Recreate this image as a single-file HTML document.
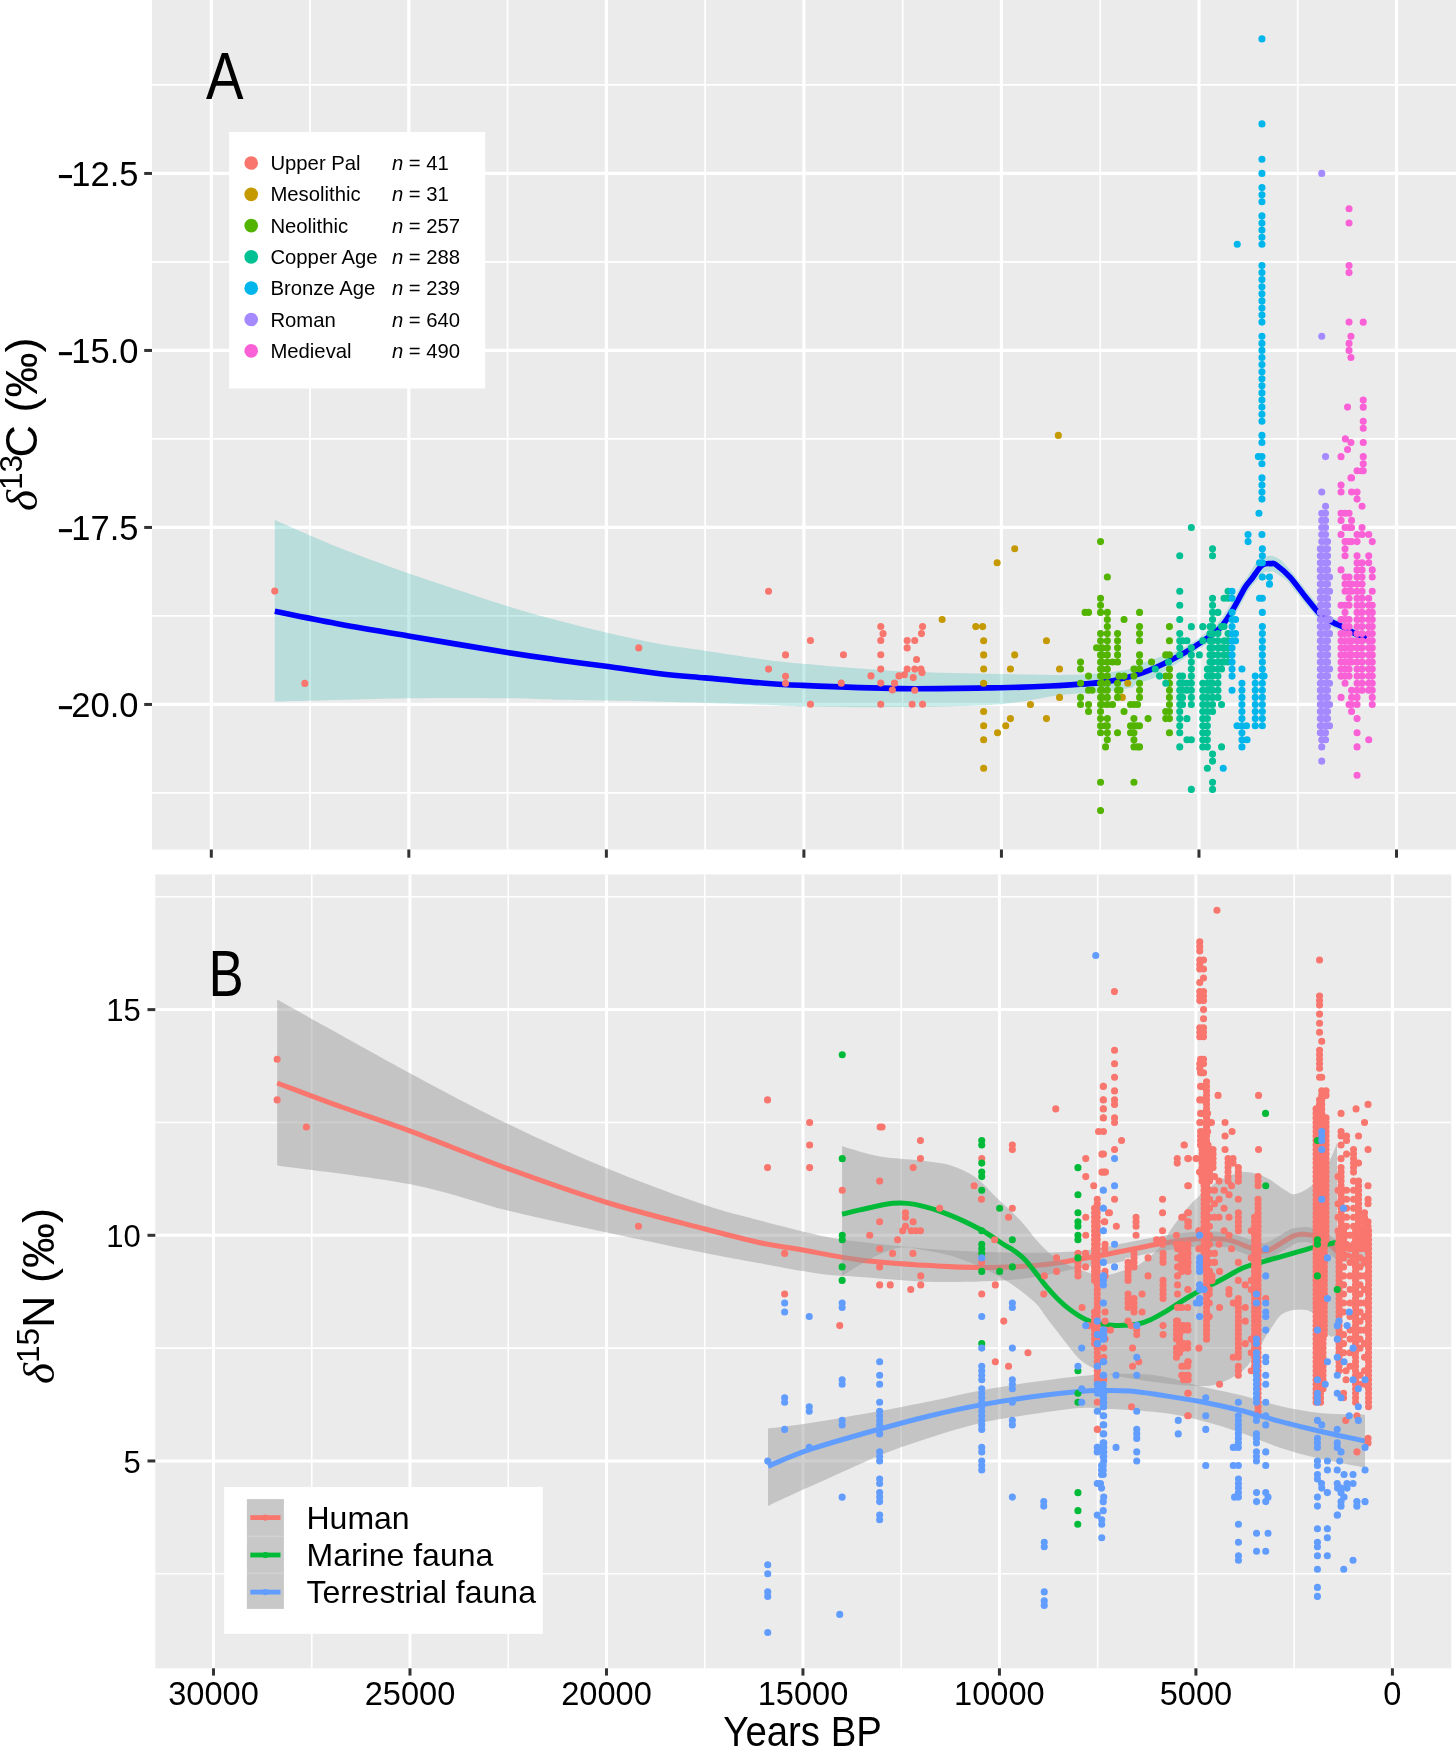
<!DOCTYPE html>
<html><head><meta charset="utf-8"><title>chart</title>
<style>html,body{margin:0;padding:0;background:#fff;}svg{display:block;will-change:transform;}text{font-family:'Liberation Sans', sans-serif;fill:#000;}</style>
</head><body>
<svg width="1456" height="1748" viewBox="0 0 1456 1748">
<rect width="1456" height="1748" fill="#fff"/>
<rect x="152" y="0" width="1304" height="849.5" fill="#EBEBEB"/>
<line x1="152" x2="1456" y1="84.95" y2="84.95" stroke="#fff" stroke-width="1.7"/>
<line x1="152" x2="1456" y1="261.95" y2="261.95" stroke="#fff" stroke-width="1.7"/>
<line x1="152" x2="1456" y1="438.95" y2="438.95" stroke="#fff" stroke-width="1.7"/>
<line x1="152" x2="1456" y1="615.95" y2="615.95" stroke="#fff" stroke-width="1.7"/>
<line x1="152" x2="1456" y1="792.95" y2="792.95" stroke="#fff" stroke-width="1.7"/>
<line x1="310.07" x2="310.07" y1="0" y2="849.5" stroke="#fff" stroke-width="1.7"/>
<line x1="507.60" x2="507.60" y1="0" y2="849.5" stroke="#fff" stroke-width="1.7"/>
<line x1="705.13" x2="705.13" y1="0" y2="849.5" stroke="#fff" stroke-width="1.7"/>
<line x1="902.67" x2="902.67" y1="0" y2="849.5" stroke="#fff" stroke-width="1.7"/>
<line x1="1100.20" x2="1100.20" y1="0" y2="849.5" stroke="#fff" stroke-width="1.7"/>
<line x1="1297.73" x2="1297.73" y1="0" y2="849.5" stroke="#fff" stroke-width="1.7"/>
<line x1="152" x2="1456" y1="173.45" y2="173.45" stroke="#fff" stroke-width="3.2"/>
<line x1="152" x2="1456" y1="350.45" y2="350.45" stroke="#fff" stroke-width="3.2"/>
<line x1="152" x2="1456" y1="527.45" y2="527.45" stroke="#fff" stroke-width="3.2"/>
<line x1="152" x2="1456" y1="704.45" y2="704.45" stroke="#fff" stroke-width="3.2"/>
<line x1="211.30" x2="211.30" y1="0" y2="849.5" stroke="#fff" stroke-width="3.2"/>
<line x1="408.83" x2="408.83" y1="0" y2="849.5" stroke="#fff" stroke-width="3.2"/>
<line x1="606.37" x2="606.37" y1="0" y2="849.5" stroke="#fff" stroke-width="3.2"/>
<line x1="803.90" x2="803.90" y1="0" y2="849.5" stroke="#fff" stroke-width="3.2"/>
<line x1="1001.43" x2="1001.43" y1="0" y2="849.5" stroke="#fff" stroke-width="3.2"/>
<line x1="1198.97" x2="1198.97" y1="0" y2="849.5" stroke="#fff" stroke-width="3.2"/>
<line x1="1396.50" x2="1396.50" y1="0" y2="849.5" stroke="#fff" stroke-width="3.2"/>
<rect x="155.3" y="874.4" width="1296.0" height="793.9" fill="#EBEBEB"/>
<line x1="155.3" x2="1451.3" y1="896.79" y2="896.79" stroke="#fff" stroke-width="1.6"/>
<line x1="155.3" x2="1451.3" y1="1122.46" y2="1122.46" stroke="#fff" stroke-width="1.6"/>
<line x1="155.3" x2="1451.3" y1="1348.14" y2="1348.14" stroke="#fff" stroke-width="1.6"/>
<line x1="155.3" x2="1451.3" y1="1573.81" y2="1573.81" stroke="#fff" stroke-width="1.6"/>
<line x1="311.74" x2="311.74" y1="874.4" y2="1668.3" stroke="#fff" stroke-width="1.6"/>
<line x1="508.23" x2="508.23" y1="874.4" y2="1668.3" stroke="#fff" stroke-width="1.6"/>
<line x1="704.71" x2="704.71" y1="874.4" y2="1668.3" stroke="#fff" stroke-width="1.6"/>
<line x1="901.19" x2="901.19" y1="874.4" y2="1668.3" stroke="#fff" stroke-width="1.6"/>
<line x1="1097.68" x2="1097.68" y1="874.4" y2="1668.3" stroke="#fff" stroke-width="1.6"/>
<line x1="1294.16" x2="1294.16" y1="874.4" y2="1668.3" stroke="#fff" stroke-width="1.6"/>
<line x1="155.3" x2="1451.3" y1="1009.62" y2="1009.62" stroke="#fff" stroke-width="3.0"/>
<line x1="155.3" x2="1451.3" y1="1235.30" y2="1235.30" stroke="#fff" stroke-width="3.0"/>
<line x1="155.3" x2="1451.3" y1="1460.97" y2="1460.97" stroke="#fff" stroke-width="3.0"/>
<line x1="213.50" x2="213.50" y1="874.4" y2="1668.3" stroke="#fff" stroke-width="3.0"/>
<line x1="409.98" x2="409.98" y1="874.4" y2="1668.3" stroke="#fff" stroke-width="3.0"/>
<line x1="606.47" x2="606.47" y1="874.4" y2="1668.3" stroke="#fff" stroke-width="3.0"/>
<line x1="802.95" x2="802.95" y1="874.4" y2="1668.3" stroke="#fff" stroke-width="3.0"/>
<line x1="999.43" x2="999.43" y1="874.4" y2="1668.3" stroke="#fff" stroke-width="3.0"/>
<line x1="1195.92" x2="1195.92" y1="874.4" y2="1668.3" stroke="#fff" stroke-width="3.0"/>
<line x1="1392.40" x2="1392.40" y1="874.4" y2="1668.3" stroke="#fff" stroke-width="3.0"/>
<path d="M274.8 520.0C285.7 524.7 317.7 539.1 340.0 548.0C362.3 556.9 380.5 563.5 408.4 573.2C436.3 582.9 482.0 598.1 507.3 606.1C532.6 614.1 543.5 616.6 560.0 621.0C576.5 625.4 589.3 628.7 606.0 632.5C622.7 636.3 643.5 641.0 660.0 644.0C676.5 647.0 688.3 648.2 705.0 650.7C721.7 653.2 744.2 656.8 760.0 658.9C775.8 661.0 776.7 661.4 800.0 663.5C823.3 665.6 866.7 669.5 900.0 671.3C933.3 673.0 973.3 673.4 1000.0 674.0C1026.7 674.6 1043.3 675.1 1060.0 675.0C1076.7 674.9 1088.3 674.6 1100.0 673.6C1111.7 672.6 1125.0 670.1 1130.0 669.0C1135.0 667.9 1129.9 667.3 1130.3 666.9C1130.6 666.4 1131.6 666.4 1132.3 666.2C1132.9 666.0 1133.6 665.8 1134.3 665.6C1134.9 665.4 1135.6 665.2 1136.3 664.9C1136.9 664.7 1137.6 664.5 1138.3 664.3C1138.9 664.1 1139.6 663.9 1140.3 663.7C1140.9 663.5 1141.6 663.2 1142.3 663.0C1142.9 662.8 1143.6 662.6 1144.3 662.4C1144.9 662.2 1145.8 661.9 1146.3 661.7C1146.7 661.6 1146.6 661.7 1147.1 661.5C1147.6 661.4 1148.5 661.0 1149.2 660.8C1149.9 660.5 1150.6 660.3 1151.3 660.1C1152.0 659.8 1152.8 659.6 1153.5 659.3C1154.2 659.1 1154.9 658.8 1155.6 658.6C1156.3 658.3 1157.0 658.1 1157.7 657.8C1158.4 657.6 1159.1 657.3 1159.8 657.1C1160.5 656.8 1161.2 656.6 1161.9 656.3C1162.6 656.1 1163.3 655.8 1164.0 655.6C1164.7 655.4 1165.4 655.1 1166.1 654.9C1166.8 654.6 1167.5 654.4 1168.2 654.1C1168.9 653.9 1169.7 653.6 1170.4 653.4C1171.1 653.1 1171.8 652.9 1172.5 652.6C1173.2 652.4 1173.9 652.1 1174.6 651.9C1175.3 651.6 1176.1 651.4 1176.7 651.1C1177.3 650.9 1177.7 650.8 1178.4 650.5C1179.0 650.2 1179.8 649.8 1180.5 649.5C1181.2 649.2 1181.9 648.9 1182.6 648.5C1183.3 648.1 1184.0 647.6 1184.6 647.2C1185.3 646.8 1186.0 646.4 1186.6 646.0C1187.3 645.6 1188.0 645.2 1188.6 644.8C1189.3 644.3 1190.0 643.9 1190.6 643.5C1191.3 643.1 1192.0 642.7 1192.6 642.3C1193.3 641.9 1194.0 641.4 1194.6 641.0C1195.3 640.6 1196.0 640.2 1196.6 639.8C1197.2 639.4 1197.7 639.1 1198.3 638.7C1198.9 638.2 1199.6 637.6 1200.3 637.1C1201.0 636.6 1201.6 636.1 1202.3 635.6C1203.0 635.1 1203.6 634.6 1204.3 634.1C1205.0 633.6 1205.6 633.1 1206.3 632.6C1207.0 632.1 1207.6 631.6 1208.3 631.1C1209.0 630.6 1209.6 630.1 1210.3 629.6C1211.0 629.1 1211.6 628.6 1212.3 628.1C1213.0 627.6 1213.6 627.1 1214.3 626.6C1215.0 626.1 1215.8 625.5 1216.3 625.1C1216.8 624.6 1216.8 624.6 1217.3 623.9C1217.8 623.2 1218.7 622.0 1219.3 621.1C1220.0 620.1 1220.7 619.2 1221.3 618.3C1222.0 617.3 1222.7 616.4 1223.3 615.4C1224.0 614.5 1224.7 613.6 1225.3 612.6C1226.0 611.7 1226.7 610.7 1227.3 609.8C1228.0 608.9 1228.4 608.1 1229.1 607.0C1229.7 605.9 1230.4 604.6 1231.1 603.4C1231.7 602.2 1232.4 601.0 1233.1 599.8C1233.7 598.6 1234.4 597.4 1235.1 596.2C1235.7 595.0 1236.4 593.8 1237.1 592.6C1237.7 591.3 1238.4 590.2 1239.1 588.9C1239.8 587.7 1240.5 586.2 1241.2 585.1C1242.0 583.9 1242.7 583.1 1243.4 582.2C1244.2 581.3 1244.8 580.5 1245.4 579.6C1246.1 578.7 1246.7 577.8 1247.3 576.9C1247.9 576.0 1248.4 575.1 1249.0 574.1C1249.6 573.2 1250.2 572.3 1250.7 571.3C1251.3 570.4 1251.9 569.4 1252.4 568.5C1253.0 567.5 1253.6 566.6 1254.2 565.6C1254.7 564.7 1254.6 564.0 1255.9 562.8C1257.1 561.6 1260.4 559.4 1261.7 558.6C1263.0 557.7 1263.0 558.1 1263.6 557.8C1264.2 557.6 1264.9 557.3 1265.5 557.1C1266.2 556.8 1266.5 556.5 1267.5 556.3C1268.4 556.1 1269.9 555.7 1271.1 555.8C1272.3 555.8 1273.7 556.4 1274.6 556.7C1275.5 557.0 1275.4 556.9 1276.5 557.5C1277.7 558.2 1280.4 559.7 1281.5 560.5C1282.6 561.4 1282.7 561.9 1283.3 562.5C1283.8 563.2 1284.4 563.9 1285.0 564.6C1285.6 565.3 1286.2 565.9 1286.8 566.6C1287.4 567.3 1288.0 568.0 1288.6 568.6C1289.2 569.3 1289.7 570.0 1290.3 570.7C1290.9 571.4 1291.4 571.9 1292.1 572.7C1292.8 573.5 1293.8 574.7 1294.5 575.6C1295.3 576.5 1295.9 577.3 1296.5 578.2C1297.2 579.0 1297.9 579.9 1298.5 580.7C1299.2 581.6 1299.9 582.4 1300.5 583.3C1301.2 584.1 1301.9 585.0 1302.5 585.8C1303.2 586.7 1303.9 587.6 1304.5 588.4C1305.2 589.3 1305.9 590.1 1306.5 591.0C1307.2 591.8 1307.8 592.7 1308.5 593.5C1309.1 594.3 1309.8 595.0 1310.4 595.8C1311.1 596.6 1311.8 597.4 1312.4 598.2C1313.1 599.0 1313.8 599.8 1314.4 600.6C1315.1 601.4 1315.8 602.2 1316.4 603.0C1317.1 603.8 1317.8 604.5 1318.4 605.3C1319.1 606.1 1319.8 606.9 1320.4 607.7C1321.1 608.5 1321.9 609.5 1322.4 610.1C1323.0 610.7 1323.0 610.8 1323.5 611.2C1324.0 611.6 1324.9 612.1 1325.5 612.5C1326.2 613.0 1326.9 613.4 1327.5 613.9C1328.2 614.3 1328.9 614.8 1329.5 615.2C1330.2 615.7 1331.0 616.2 1331.5 616.6C1332.1 617.0 1332.3 617.1 1332.9 617.4C1333.4 617.7 1334.2 618.0 1334.9 618.3C1335.5 618.6 1336.2 618.9 1336.9 619.2C1337.5 619.5 1338.2 619.8 1338.9 620.1C1339.5 620.4 1340.2 620.7 1340.9 621.1C1341.5 621.4 1342.2 621.7 1342.9 622.0C1343.5 622.3 1344.2 622.6 1344.9 622.9C1345.6 623.2 1346.3 623.5 1347.0 623.9C1347.8 624.2 1348.5 624.7 1349.2 625.1C1349.9 625.5 1350.5 625.8 1351.2 626.2C1351.8 626.5 1352.5 626.9 1353.2 627.3C1353.8 627.7 1354.5 628.0 1355.2 628.4C1355.8 628.8 1356.5 629.1 1357.2 629.5C1357.8 629.9 1358.5 630.2 1359.2 630.6C1359.8 631.0 1360.7 631.5 1361.2 631.7C1361.7 632.0 1361.6 631.9 1362.1 632.1C1362.6 632.2 1363.5 632.4 1364.1 632.6C1364.8 632.8 1365.5 633.0 1366.1 633.1C1366.7 633.3 1367.3 633.5 1367.6 633.5L1366.4 642.5C1366.0 642.4 1364.6 642.0 1363.9 641.8C1363.1 641.7 1362.5 641.5 1361.9 641.3C1361.2 641.2 1360.7 641.1 1359.9 640.8C1359.0 640.5 1357.7 640.0 1356.8 639.6C1356.0 639.2 1355.5 638.8 1354.8 638.5C1354.2 638.1 1353.5 637.7 1352.8 637.4C1352.2 637.0 1351.5 636.6 1350.8 636.3C1350.2 635.9 1349.5 635.5 1348.8 635.2C1348.2 634.8 1347.5 634.4 1346.8 634.1C1346.2 633.7 1345.5 633.3 1344.8 632.9C1344.2 632.6 1343.6 632.2 1343.0 631.9C1342.3 631.6 1341.8 631.4 1341.1 631.1C1340.5 630.8 1339.8 630.5 1339.1 630.1C1338.5 629.8 1337.8 629.5 1337.1 629.2C1336.5 628.9 1335.8 628.6 1335.1 628.3C1334.5 628.0 1333.8 627.7 1333.1 627.4C1332.5 627.1 1331.8 626.8 1331.1 626.5C1330.5 626.2 1329.9 626.0 1329.1 625.5C1328.3 625.1 1327.2 624.5 1326.5 624.0C1325.7 623.6 1325.1 623.1 1324.5 622.7C1323.8 622.2 1323.1 621.8 1322.5 621.3C1321.8 620.9 1321.1 620.4 1320.5 620.0C1319.8 619.5 1319.3 619.3 1318.5 618.6C1317.6 617.9 1316.4 616.7 1315.6 615.9C1314.7 615.0 1314.2 614.3 1313.6 613.5C1312.9 612.7 1312.2 611.9 1311.6 611.1C1310.9 610.3 1310.2 609.5 1309.6 608.7C1308.9 607.9 1308.2 607.1 1307.6 606.4C1306.9 605.6 1306.2 604.8 1305.6 604.0C1304.9 603.2 1304.2 602.4 1303.6 601.6C1302.9 600.8 1302.2 600.0 1301.5 599.1C1300.8 598.3 1300.1 597.4 1299.5 596.5C1298.8 595.6 1298.1 594.8 1297.5 594.0C1296.8 593.1 1296.1 592.2 1295.5 591.4C1294.8 590.5 1294.1 589.7 1293.5 588.8C1292.8 588.0 1292.1 587.1 1291.5 586.3C1290.8 585.4 1290.1 584.6 1289.5 583.7C1288.8 582.9 1288.0 581.8 1287.5 581.2C1286.9 580.5 1286.5 580.2 1285.9 579.7C1285.3 579.2 1284.4 578.7 1283.7 578.2C1282.9 577.7 1282.2 577.2 1281.4 576.7C1280.7 576.2 1279.9 575.7 1279.2 575.2C1278.5 574.7 1277.7 574.2 1277.0 573.7C1276.2 573.2 1275.5 572.7 1274.7 572.2C1274.0 571.7 1272.7 570.8 1272.5 570.7C1272.3 570.5 1273.7 571.3 1273.5 571.4C1273.3 571.6 1271.8 571.3 1271.4 571.3C1271.0 571.3 1271.1 571.4 1270.9 571.4C1270.8 571.5 1270.9 571.6 1270.5 571.7C1270.1 571.7 1269.2 571.7 1268.5 571.7C1267.8 571.7 1267.1 571.8 1266.4 571.8C1265.7 571.8 1264.4 572.0 1264.3 571.8C1264.3 571.6 1266.2 570.4 1266.1 570.6C1266.0 570.8 1264.6 572.2 1263.8 573.0C1263.1 573.8 1262.3 574.6 1261.6 575.4C1260.8 576.2 1260.0 577.0 1259.3 577.8C1258.5 578.6 1257.8 579.4 1257.0 580.2C1256.2 581.0 1255.4 581.8 1254.7 582.7C1253.9 583.5 1253.2 584.3 1252.6 585.1C1251.9 586.0 1251.2 586.9 1250.6 587.7C1249.9 588.5 1249.4 589.0 1248.8 589.9C1248.2 590.9 1247.6 592.1 1246.9 593.3C1246.3 594.5 1245.6 595.7 1244.9 596.9C1244.3 598.1 1243.6 599.3 1242.9 600.5C1242.3 601.7 1241.6 602.9 1240.9 604.1C1240.3 605.3 1239.6 606.6 1238.9 607.8C1238.3 609.0 1237.6 610.2 1236.9 611.4C1236.2 612.6 1235.4 613.9 1234.7 615.0C1234.0 616.1 1233.3 616.9 1232.7 617.8C1232.0 618.8 1231.3 619.7 1230.7 620.6C1230.0 621.6 1229.3 622.5 1228.7 623.5C1228.0 624.4 1227.3 625.3 1226.7 626.3C1226.0 627.2 1225.5 628.1 1224.7 629.1C1223.8 630.1 1222.5 631.5 1221.7 632.2C1220.9 633.0 1220.4 633.3 1219.7 633.8C1219.0 634.3 1218.4 634.8 1217.7 635.3C1217.0 635.8 1216.4 636.3 1215.7 636.8C1215.0 637.3 1214.4 637.8 1213.7 638.3C1213.0 638.8 1212.4 639.3 1211.7 639.8C1211.0 640.3 1210.4 640.8 1209.7 641.3C1209.0 641.8 1208.4 642.3 1207.7 642.8C1207.0 643.3 1206.4 643.8 1205.7 644.3C1205.0 644.8 1204.4 645.3 1203.7 645.8C1203.0 646.4 1202.1 647.0 1201.4 647.4C1200.6 647.9 1200.0 648.3 1199.4 648.7C1198.7 649.1 1198.0 649.5 1197.4 649.9C1196.7 650.3 1196.0 650.8 1195.4 651.2C1194.7 651.6 1194.0 652.0 1193.4 652.4C1192.7 652.8 1192.0 653.2 1191.4 653.6C1190.7 654.1 1190.0 654.5 1189.4 654.9C1188.7 655.3 1188.0 655.7 1187.4 656.1C1186.7 656.6 1186.1 657.1 1185.5 657.6C1184.9 658.1 1184.3 658.5 1183.6 659.0C1182.9 659.5 1182.0 660.2 1181.3 660.6C1180.6 661.1 1180.0 661.4 1179.4 661.8C1178.8 662.2 1178.2 662.6 1177.5 663.0C1176.9 663.4 1176.3 663.8 1175.6 664.2C1175.0 664.6 1174.4 665.0 1173.8 665.4C1173.1 665.8 1172.5 666.2 1171.9 666.6C1171.2 667.1 1170.6 667.5 1170.0 667.9C1169.4 668.3 1168.7 668.7 1168.1 669.1C1167.5 669.5 1166.8 669.9 1166.2 670.3C1165.6 670.7 1164.9 671.1 1164.3 671.5C1163.7 671.9 1163.1 672.3 1162.4 672.7C1161.8 673.1 1161.2 673.5 1160.5 673.9C1159.9 674.3 1159.3 674.7 1158.7 675.1C1158.0 675.5 1157.4 675.9 1156.8 676.3C1156.1 676.7 1155.7 677.1 1154.9 677.5C1154.0 677.9 1152.6 678.6 1151.7 678.9C1150.9 679.2 1150.4 679.3 1149.7 679.5C1149.1 679.7 1148.4 680.0 1147.7 680.2C1147.1 680.4 1146.4 680.6 1145.7 680.8C1145.1 681.0 1144.4 681.2 1143.7 681.5C1143.1 681.7 1142.4 681.9 1141.7 682.1C1141.1 682.3 1140.4 682.5 1139.7 682.7C1139.1 682.9 1138.4 683.2 1137.7 683.4C1137.1 683.6 1137.0 683.2 1135.7 684.0C1134.5 684.8 1136.0 686.6 1130.0 688.0C1124.0 689.4 1111.7 691.0 1100.0 692.2C1088.3 693.4 1076.7 693.0 1060.0 695.0C1043.3 697.0 1026.7 702.2 1000.0 704.2C973.3 706.2 933.3 706.6 900.0 707.0C866.7 707.4 823.3 706.8 800.0 706.4C776.7 706.0 783.3 705.5 760.0 704.7C736.7 703.9 693.3 702.5 660.0 701.7C626.7 700.9 585.5 700.4 560.0 699.8C534.5 699.2 532.6 698.5 507.3 698.2C482.0 697.9 447.1 697.7 408.4 698.2C369.6 698.8 297.1 701.0 274.8 701.5Z" fill="#20B2AA" fill-opacity="0.25"/>
<path d="M274.8 611.3C285.7 613.4 317.7 620.1 340.0 624.2C362.3 628.3 380.5 631.3 408.4 636.0C436.3 640.7 482.0 648.5 507.3 652.5C532.6 656.5 543.5 657.9 560.0 660.2C576.5 662.5 589.3 664.0 606.0 666.3C622.7 668.5 643.5 671.8 660.0 673.7C676.5 675.6 688.3 676.4 705.0 677.9C721.7 679.4 744.2 681.6 760.0 682.8C775.8 684.0 776.7 684.3 800.0 685.3C823.3 686.3 866.7 688.2 900.0 688.6C933.3 689.0 975.0 688.1 1000.0 687.7C1025.0 687.3 1033.3 686.9 1050.0 686.0C1066.7 685.1 1087.5 683.9 1100.0 682.6C1112.5 681.3 1116.7 680.1 1125.0 678.0C1133.3 675.9 1140.8 673.8 1150.0 670.0C1159.2 666.2 1171.7 659.9 1180.0 655.4C1188.3 650.9 1193.3 647.6 1200.0 643.0C1206.7 638.4 1214.7 633.2 1220.0 627.9C1225.3 622.6 1227.8 617.7 1232.0 611.0C1236.2 604.3 1241.7 592.9 1245.0 587.5C1248.3 582.1 1249.2 582.2 1252.0 578.5C1254.8 574.8 1258.8 567.9 1262.0 565.4C1265.2 562.9 1268.7 563.7 1271.0 563.6C1273.3 563.5 1272.8 562.5 1276.0 564.7C1279.2 567.0 1285.2 571.8 1290.0 577.1C1294.8 582.4 1300.0 590.1 1305.0 596.3C1310.0 602.5 1315.8 610.1 1320.0 614.2C1324.2 618.3 1325.8 618.7 1330.0 621.0C1334.2 623.3 1340.0 625.4 1345.0 627.9C1350.0 630.4 1356.3 634.5 1360.0 636.2C1363.7 637.9 1365.8 637.7 1367.0 638.0" fill="none" stroke="#0000FF" stroke-width="5.6" stroke-linejoin="round"/>
<path fill="#F8766D" d="M271.2 591.1a3.55 3.55 0 1 0 7.1 0a3.55 3.55 0 1 0 -7.1 0M301.3 683.4a3.55 3.55 0 1 0 7.1 0a3.55 3.55 0 1 0 -7.1 0M635.2 647.9a3.55 3.55 0 1 0 7.1 0a3.55 3.55 0 1 0 -7.1 0M765.0 591.3a3.55 3.55 0 1 0 7.1 0a3.55 3.55 0 1 0 -7.1 0M765.0 669.1a3.55 3.55 0 1 0 7.1 0a3.55 3.55 0 1 0 -7.1 0M782.0 654.9a3.55 3.55 0 1 0 7.1 0a3.55 3.55 0 1 0 -7.1 0M782.0 676.2a3.55 3.55 0 1 0 7.1 0a3.55 3.55 0 1 0 -7.1 0M782.0 683.3a3.55 3.55 0 1 0 7.1 0a3.55 3.55 0 1 0 -7.1 0M806.9 640.5a3.55 3.55 0 1 0 7.1 0a3.55 3.55 0 1 0 -7.1 0M806.9 704.2a3.55 3.55 0 1 0 7.1 0a3.55 3.55 0 1 0 -7.1 0M839.9 654.8a3.55 3.55 0 1 0 7.1 0a3.55 3.55 0 1 0 -7.1 0M837.7 683.1a3.55 3.55 0 1 0 7.1 0a3.55 3.55 0 1 0 -7.1 0M877.2 626.5a3.55 3.55 0 1 0 7.1 0a3.55 3.55 0 1 0 -7.1 0M877.2 640.5a3.55 3.55 0 1 0 7.1 0a3.55 3.55 0 1 0 -7.1 0M877.2 654.8a3.55 3.55 0 1 0 7.1 0a3.55 3.55 0 1 0 -7.1 0M877.2 669.1a3.55 3.55 0 1 0 7.1 0a3.55 3.55 0 1 0 -7.1 0M877.2 683.1a3.55 3.55 0 1 0 7.1 0a3.55 3.55 0 1 0 -7.1 0M877.2 704.2a3.55 3.55 0 1 0 7.1 0a3.55 3.55 0 1 0 -7.1 0M879.5 633.6a3.55 3.55 0 1 0 7.1 0a3.55 3.55 0 1 0 -7.1 0M867.4 675.9a3.55 3.55 0 1 0 7.1 0a3.55 3.55 0 1 0 -7.1 0M888.8 690.0a3.55 3.55 0 1 0 7.1 0a3.55 3.55 0 1 0 -7.1 0M891.0 683.1a3.55 3.55 0 1 0 7.1 0a3.55 3.55 0 1 0 -7.1 0M895.4 675.9a3.55 3.55 0 1 0 7.1 0a3.55 3.55 0 1 0 -7.1 0M900.9 674.8a3.55 3.55 0 1 0 7.1 0a3.55 3.55 0 1 0 -7.1 0M903.6 640.5a3.55 3.55 0 1 0 7.1 0a3.55 3.55 0 1 0 -7.1 0M911.2 640.5a3.55 3.55 0 1 0 7.1 0a3.55 3.55 0 1 0 -7.1 0M903.6 647.9a3.55 3.55 0 1 0 7.1 0a3.55 3.55 0 1 0 -7.1 0M913.0 659.5a3.55 3.55 0 1 0 7.1 0a3.55 3.55 0 1 0 -7.1 0M903.6 669.1a3.55 3.55 0 1 0 7.1 0a3.55 3.55 0 1 0 -7.1 0M911.2 669.1a3.55 3.55 0 1 0 7.1 0a3.55 3.55 0 1 0 -7.1 0M917.4 669.1a3.55 3.55 0 1 0 7.1 0a3.55 3.55 0 1 0 -7.1 0M918.5 672.6a3.55 3.55 0 1 0 7.1 0a3.55 3.55 0 1 0 -7.1 0M909.7 677.6a3.55 3.55 0 1 0 7.1 0a3.55 3.55 0 1 0 -7.1 0M911.2 690.2a3.55 3.55 0 1 0 7.1 0a3.55 3.55 0 1 0 -7.1 0M908.6 704.2a3.55 3.55 0 1 0 7.1 0a3.55 3.55 0 1 0 -7.1 0M919.0 704.2a3.55 3.55 0 1 0 7.1 0a3.55 3.55 0 1 0 -7.1 0M919.0 626.5a3.55 3.55 0 1 0 7.1 0a3.55 3.55 0 1 0 -7.1 0M917.9 633.6a3.55 3.55 0 1 0 7.1 0a3.55 3.55 0 1 0 -7.1 0"/>
<path fill="#C49A00" d="M1011.2 548.7a3.55 3.55 0 1 0 7.1 0a3.55 3.55 0 1 0 -7.1 0M1011.2 654.9a3.55 3.55 0 1 0 7.1 0a3.55 3.55 0 1 0 -7.1 0M993.6 562.8a3.55 3.55 0 1 0 7.1 0a3.55 3.55 0 1 0 -7.1 0M938.6 619.5a3.55 3.55 0 1 0 7.1 0a3.55 3.55 0 1 0 -7.1 0M972.2 626.6a3.55 3.55 0 1 0 7.1 0a3.55 3.55 0 1 0 -7.1 0M979.1 626.6a3.55 3.55 0 1 0 7.1 0a3.55 3.55 0 1 0 -7.1 0M980.1 640.7a3.55 3.55 0 1 0 7.1 0a3.55 3.55 0 1 0 -7.1 0M980.1 654.9a3.55 3.55 0 1 0 7.1 0a3.55 3.55 0 1 0 -7.1 0M980.1 669.0a3.55 3.55 0 1 0 7.1 0a3.55 3.55 0 1 0 -7.1 0M980.1 683.2a3.55 3.55 0 1 0 7.1 0a3.55 3.55 0 1 0 -7.1 0M980.1 711.5a3.55 3.55 0 1 0 7.1 0a3.55 3.55 0 1 0 -7.1 0M980.1 725.7a3.55 3.55 0 1 0 7.1 0a3.55 3.55 0 1 0 -7.1 0M980.1 739.8a3.55 3.55 0 1 0 7.1 0a3.55 3.55 0 1 0 -7.1 0M980.1 768.2a3.55 3.55 0 1 0 7.1 0a3.55 3.55 0 1 0 -7.1 0M1006.9 669.0a3.55 3.55 0 1 0 7.1 0a3.55 3.55 0 1 0 -7.1 0M1006.9 718.6a3.55 3.55 0 1 0 7.1 0a3.55 3.55 0 1 0 -7.1 0M1042.9 640.7a3.55 3.55 0 1 0 7.1 0a3.55 3.55 0 1 0 -7.1 0M1042.9 718.6a3.55 3.55 0 1 0 7.1 0a3.55 3.55 0 1 0 -7.1 0M1056.0 669.0a3.55 3.55 0 1 0 7.1 0a3.55 3.55 0 1 0 -7.1 0M1056.0 697.4a3.55 3.55 0 1 0 7.1 0a3.55 3.55 0 1 0 -7.1 0M1026.9 704.5a3.55 3.55 0 1 0 7.1 0a3.55 3.55 0 1 0 -7.1 0M1002.2 725.7a3.55 3.55 0 1 0 7.1 0a3.55 3.55 0 1 0 -7.1 0M994.0 732.8a3.55 3.55 0 1 0 7.1 0a3.55 3.55 0 1 0 -7.1 0M1124.2 683.2a3.55 3.55 0 1 0 7.1 0a3.55 3.55 0 1 0 -7.1 0M1118.8 697.4a3.55 3.55 0 1 0 7.1 0a3.55 3.55 0 1 0 -7.1 0M1054.8 435.4a3.55 3.55 0 1 0 7.1 0a3.55 3.55 0 1 0 -7.1 0"/>
<path fill="#53B400" d="M1097.0 541.6a3.55 3.55 0 1 0 7.1 0a3.55 3.55 0 1 0 -7.1 0M1097.0 598.2a3.55 3.55 0 1 0 7.1 0a3.55 3.55 0 1 0 -7.1 0M1097.0 605.3a3.55 3.55 0 1 0 7.1 0a3.55 3.55 0 1 0 -7.1 0M1097.0 612.4a3.55 3.55 0 1 0 7.1 0a3.55 3.55 0 1 0 -7.1 0M1097.0 633.6a3.55 3.55 0 1 0 7.1 0a3.55 3.55 0 1 0 -7.1 0M1097.0 640.7a3.55 3.55 0 1 0 7.1 0a3.55 3.55 0 1 0 -7.1 0M1097.0 647.8a3.55 3.55 0 1 0 7.1 0a3.55 3.55 0 1 0 -7.1 0M1097.0 654.9a3.55 3.55 0 1 0 7.1 0a3.55 3.55 0 1 0 -7.1 0M1097.0 662.0a3.55 3.55 0 1 0 7.1 0a3.55 3.55 0 1 0 -7.1 0M1097.0 669.0a3.55 3.55 0 1 0 7.1 0a3.55 3.55 0 1 0 -7.1 0M1097.0 676.1a3.55 3.55 0 1 0 7.1 0a3.55 3.55 0 1 0 -7.1 0M1097.0 683.2a3.55 3.55 0 1 0 7.1 0a3.55 3.55 0 1 0 -7.1 0M1097.0 690.3a3.55 3.55 0 1 0 7.1 0a3.55 3.55 0 1 0 -7.1 0M1097.0 697.4a3.55 3.55 0 1 0 7.1 0a3.55 3.55 0 1 0 -7.1 0M1097.0 704.5a3.55 3.55 0 1 0 7.1 0a3.55 3.55 0 1 0 -7.1 0M1097.0 711.5a3.55 3.55 0 1 0 7.1 0a3.55 3.55 0 1 0 -7.1 0M1097.0 718.6a3.55 3.55 0 1 0 7.1 0a3.55 3.55 0 1 0 -7.1 0M1097.0 725.7a3.55 3.55 0 1 0 7.1 0a3.55 3.55 0 1 0 -7.1 0M1097.0 732.8a3.55 3.55 0 1 0 7.1 0a3.55 3.55 0 1 0 -7.1 0M1097.0 782.3a3.55 3.55 0 1 0 7.1 0a3.55 3.55 0 1 0 -7.1 0M1097.0 810.6a3.55 3.55 0 1 0 7.1 0a3.55 3.55 0 1 0 -7.1 0M1098.5 647.8a3.55 3.55 0 1 0 7.1 0a3.55 3.55 0 1 0 -7.1 0M1098.5 654.9a3.55 3.55 0 1 0 7.1 0a3.55 3.55 0 1 0 -7.1 0M1098.5 662.0a3.55 3.55 0 1 0 7.1 0a3.55 3.55 0 1 0 -7.1 0M1098.5 669.0a3.55 3.55 0 1 0 7.1 0a3.55 3.55 0 1 0 -7.1 0M1098.5 676.1a3.55 3.55 0 1 0 7.1 0a3.55 3.55 0 1 0 -7.1 0M1098.5 683.2a3.55 3.55 0 1 0 7.1 0a3.55 3.55 0 1 0 -7.1 0M1098.5 690.3a3.55 3.55 0 1 0 7.1 0a3.55 3.55 0 1 0 -7.1 0M1098.5 697.4a3.55 3.55 0 1 0 7.1 0a3.55 3.55 0 1 0 -7.1 0M1098.5 704.5a3.55 3.55 0 1 0 7.1 0a3.55 3.55 0 1 0 -7.1 0M1103.8 577.0a3.55 3.55 0 1 0 7.1 0a3.55 3.55 0 1 0 -7.1 0M1103.8 612.4a3.55 3.55 0 1 0 7.1 0a3.55 3.55 0 1 0 -7.1 0M1103.8 619.5a3.55 3.55 0 1 0 7.1 0a3.55 3.55 0 1 0 -7.1 0M1103.8 626.6a3.55 3.55 0 1 0 7.1 0a3.55 3.55 0 1 0 -7.1 0M1103.8 633.6a3.55 3.55 0 1 0 7.1 0a3.55 3.55 0 1 0 -7.1 0M1103.8 640.7a3.55 3.55 0 1 0 7.1 0a3.55 3.55 0 1 0 -7.1 0M1103.8 647.8a3.55 3.55 0 1 0 7.1 0a3.55 3.55 0 1 0 -7.1 0M1103.8 654.9a3.55 3.55 0 1 0 7.1 0a3.55 3.55 0 1 0 -7.1 0M1103.8 662.0a3.55 3.55 0 1 0 7.1 0a3.55 3.55 0 1 0 -7.1 0M1103.8 669.0a3.55 3.55 0 1 0 7.1 0a3.55 3.55 0 1 0 -7.1 0M1103.8 676.1a3.55 3.55 0 1 0 7.1 0a3.55 3.55 0 1 0 -7.1 0M1103.8 683.2a3.55 3.55 0 1 0 7.1 0a3.55 3.55 0 1 0 -7.1 0M1103.8 690.3a3.55 3.55 0 1 0 7.1 0a3.55 3.55 0 1 0 -7.1 0M1103.8 697.4a3.55 3.55 0 1 0 7.1 0a3.55 3.55 0 1 0 -7.1 0M1103.8 704.5a3.55 3.55 0 1 0 7.1 0a3.55 3.55 0 1 0 -7.1 0M1103.8 718.6a3.55 3.55 0 1 0 7.1 0a3.55 3.55 0 1 0 -7.1 0M1103.8 725.7a3.55 3.55 0 1 0 7.1 0a3.55 3.55 0 1 0 -7.1 0M1103.8 732.8a3.55 3.55 0 1 0 7.1 0a3.55 3.55 0 1 0 -7.1 0M1103.8 739.8a3.55 3.55 0 1 0 7.1 0a3.55 3.55 0 1 0 -7.1 0M1102.0 746.9a3.55 3.55 0 1 0 7.1 0a3.55 3.55 0 1 0 -7.1 0M1102.0 725.7a3.55 3.55 0 1 0 7.1 0a3.55 3.55 0 1 0 -7.1 0M1093.0 647.8a3.55 3.55 0 1 0 7.1 0a3.55 3.55 0 1 0 -7.1 0M1081.5 612.4a3.55 3.55 0 1 0 7.1 0a3.55 3.55 0 1 0 -7.1 0M1085.0 612.4a3.55 3.55 0 1 0 7.1 0a3.55 3.55 0 1 0 -7.1 0M1077.0 662.0a3.55 3.55 0 1 0 7.1 0a3.55 3.55 0 1 0 -7.1 0M1077.0 669.0a3.55 3.55 0 1 0 7.1 0a3.55 3.55 0 1 0 -7.1 0M1077.0 683.2a3.55 3.55 0 1 0 7.1 0a3.55 3.55 0 1 0 -7.1 0M1077.0 697.4a3.55 3.55 0 1 0 7.1 0a3.55 3.55 0 1 0 -7.1 0M1077.0 704.5a3.55 3.55 0 1 0 7.1 0a3.55 3.55 0 1 0 -7.1 0M1085.0 676.1a3.55 3.55 0 1 0 7.1 0a3.55 3.55 0 1 0 -7.1 0M1085.0 690.3a3.55 3.55 0 1 0 7.1 0a3.55 3.55 0 1 0 -7.1 0M1085.0 704.5a3.55 3.55 0 1 0 7.1 0a3.55 3.55 0 1 0 -7.1 0M1085.0 711.5a3.55 3.55 0 1 0 7.1 0a3.55 3.55 0 1 0 -7.1 0M1088.5 690.3a3.55 3.55 0 1 0 7.1 0a3.55 3.55 0 1 0 -7.1 0M1109.0 662.0a3.55 3.55 0 1 0 7.1 0a3.55 3.55 0 1 0 -7.1 0M1109.0 704.5a3.55 3.55 0 1 0 7.1 0a3.55 3.55 0 1 0 -7.1 0M1114.0 633.6a3.55 3.55 0 1 0 7.1 0a3.55 3.55 0 1 0 -7.1 0M1114.0 640.7a3.55 3.55 0 1 0 7.1 0a3.55 3.55 0 1 0 -7.1 0M1114.0 647.8a3.55 3.55 0 1 0 7.1 0a3.55 3.55 0 1 0 -7.1 0M1114.0 654.9a3.55 3.55 0 1 0 7.1 0a3.55 3.55 0 1 0 -7.1 0M1114.0 662.0a3.55 3.55 0 1 0 7.1 0a3.55 3.55 0 1 0 -7.1 0M1114.0 683.2a3.55 3.55 0 1 0 7.1 0a3.55 3.55 0 1 0 -7.1 0M1114.0 690.3a3.55 3.55 0 1 0 7.1 0a3.55 3.55 0 1 0 -7.1 0M1114.0 697.4a3.55 3.55 0 1 0 7.1 0a3.55 3.55 0 1 0 -7.1 0M1114.0 732.8a3.55 3.55 0 1 0 7.1 0a3.55 3.55 0 1 0 -7.1 0M1116.5 690.3a3.55 3.55 0 1 0 7.1 0a3.55 3.55 0 1 0 -7.1 0M1120.5 619.5a3.55 3.55 0 1 0 7.1 0a3.55 3.55 0 1 0 -7.1 0M1120.5 711.5a3.55 3.55 0 1 0 7.1 0a3.55 3.55 0 1 0 -7.1 0M1115.5 676.1a3.55 3.55 0 1 0 7.1 0a3.55 3.55 0 1 0 -7.1 0M1120.5 676.1a3.55 3.55 0 1 0 7.1 0a3.55 3.55 0 1 0 -7.1 0M1130.4 669.0a3.55 3.55 0 1 0 7.1 0a3.55 3.55 0 1 0 -7.1 0M1130.4 676.1a3.55 3.55 0 1 0 7.1 0a3.55 3.55 0 1 0 -7.1 0M1130.4 704.5a3.55 3.55 0 1 0 7.1 0a3.55 3.55 0 1 0 -7.1 0M1130.4 718.6a3.55 3.55 0 1 0 7.1 0a3.55 3.55 0 1 0 -7.1 0M1130.4 725.7a3.55 3.55 0 1 0 7.1 0a3.55 3.55 0 1 0 -7.1 0M1130.4 732.8a3.55 3.55 0 1 0 7.1 0a3.55 3.55 0 1 0 -7.1 0M1130.4 739.8a3.55 3.55 0 1 0 7.1 0a3.55 3.55 0 1 0 -7.1 0M1130.4 746.9a3.55 3.55 0 1 0 7.1 0a3.55 3.55 0 1 0 -7.1 0M1130.4 782.3a3.55 3.55 0 1 0 7.1 0a3.55 3.55 0 1 0 -7.1 0M1127.0 704.5a3.55 3.55 0 1 0 7.1 0a3.55 3.55 0 1 0 -7.1 0M1127.0 732.8a3.55 3.55 0 1 0 7.1 0a3.55 3.55 0 1 0 -7.1 0M1127.0 725.7a3.55 3.55 0 1 0 7.1 0a3.55 3.55 0 1 0 -7.1 0M1134.0 704.5a3.55 3.55 0 1 0 7.1 0a3.55 3.55 0 1 0 -7.1 0M1134.0 725.7a3.55 3.55 0 1 0 7.1 0a3.55 3.55 0 1 0 -7.1 0M1134.0 746.9a3.55 3.55 0 1 0 7.1 0a3.55 3.55 0 1 0 -7.1 0M1136.0 612.4a3.55 3.55 0 1 0 7.1 0a3.55 3.55 0 1 0 -7.1 0M1136.0 626.6a3.55 3.55 0 1 0 7.1 0a3.55 3.55 0 1 0 -7.1 0M1136.0 633.6a3.55 3.55 0 1 0 7.1 0a3.55 3.55 0 1 0 -7.1 0M1136.0 640.7a3.55 3.55 0 1 0 7.1 0a3.55 3.55 0 1 0 -7.1 0M1136.0 654.9a3.55 3.55 0 1 0 7.1 0a3.55 3.55 0 1 0 -7.1 0M1136.0 662.0a3.55 3.55 0 1 0 7.1 0a3.55 3.55 0 1 0 -7.1 0M1136.0 669.0a3.55 3.55 0 1 0 7.1 0a3.55 3.55 0 1 0 -7.1 0M1136.0 683.2a3.55 3.55 0 1 0 7.1 0a3.55 3.55 0 1 0 -7.1 0M1136.0 690.3a3.55 3.55 0 1 0 7.1 0a3.55 3.55 0 1 0 -7.1 0M1136.0 697.4a3.55 3.55 0 1 0 7.1 0a3.55 3.55 0 1 0 -7.1 0M1136.0 725.7a3.55 3.55 0 1 0 7.1 0a3.55 3.55 0 1 0 -7.1 0M1136.0 746.9a3.55 3.55 0 1 0 7.1 0a3.55 3.55 0 1 0 -7.1 0M1148.0 662.0a3.55 3.55 0 1 0 7.1 0a3.55 3.55 0 1 0 -7.1 0M1144.5 718.6a3.55 3.55 0 1 0 7.1 0a3.55 3.55 0 1 0 -7.1 0M1165.9 626.6a3.55 3.55 0 1 0 7.1 0a3.55 3.55 0 1 0 -7.1 0M1165.9 640.7a3.55 3.55 0 1 0 7.1 0a3.55 3.55 0 1 0 -7.1 0M1165.9 654.9a3.55 3.55 0 1 0 7.1 0a3.55 3.55 0 1 0 -7.1 0M1165.9 669.0a3.55 3.55 0 1 0 7.1 0a3.55 3.55 0 1 0 -7.1 0M1165.9 676.1a3.55 3.55 0 1 0 7.1 0a3.55 3.55 0 1 0 -7.1 0M1165.9 683.2a3.55 3.55 0 1 0 7.1 0a3.55 3.55 0 1 0 -7.1 0M1165.9 690.3a3.55 3.55 0 1 0 7.1 0a3.55 3.55 0 1 0 -7.1 0M1165.9 697.4a3.55 3.55 0 1 0 7.1 0a3.55 3.55 0 1 0 -7.1 0M1165.9 704.5a3.55 3.55 0 1 0 7.1 0a3.55 3.55 0 1 0 -7.1 0M1165.9 711.5a3.55 3.55 0 1 0 7.1 0a3.55 3.55 0 1 0 -7.1 0M1165.9 718.6a3.55 3.55 0 1 0 7.1 0a3.55 3.55 0 1 0 -7.1 0M1165.9 732.8a3.55 3.55 0 1 0 7.1 0a3.55 3.55 0 1 0 -7.1 0M1162.2 654.9a3.55 3.55 0 1 0 7.1 0a3.55 3.55 0 1 0 -7.1 0M1162.2 676.1a3.55 3.55 0 1 0 7.1 0a3.55 3.55 0 1 0 -7.1 0M1162.2 711.5a3.55 3.55 0 1 0 7.1 0a3.55 3.55 0 1 0 -7.1 0M1162.2 718.6a3.55 3.55 0 1 0 7.1 0a3.55 3.55 0 1 0 -7.1 0"/>
<path fill="#00C094" d="M1151.7 669.0a3.55 3.55 0 1 0 7.1 0a3.55 3.55 0 1 0 -7.1 0M1156.0 676.1a3.55 3.55 0 1 0 7.1 0a3.55 3.55 0 1 0 -7.1 0M1162.2 683.2a3.55 3.55 0 1 0 7.1 0a3.55 3.55 0 1 0 -7.1 0M1165.0 662.0a3.55 3.55 0 1 0 7.1 0a3.55 3.55 0 1 0 -7.1 0M1187.8 527.5a3.55 3.55 0 1 0 7.1 0a3.55 3.55 0 1 0 -7.1 0M1187.8 626.6a3.55 3.55 0 1 0 7.1 0a3.55 3.55 0 1 0 -7.1 0M1187.8 647.8a3.55 3.55 0 1 0 7.1 0a3.55 3.55 0 1 0 -7.1 0M1187.8 654.9a3.55 3.55 0 1 0 7.1 0a3.55 3.55 0 1 0 -7.1 0M1187.8 662.0a3.55 3.55 0 1 0 7.1 0a3.55 3.55 0 1 0 -7.1 0M1187.8 669.0a3.55 3.55 0 1 0 7.1 0a3.55 3.55 0 1 0 -7.1 0M1187.8 676.1a3.55 3.55 0 1 0 7.1 0a3.55 3.55 0 1 0 -7.1 0M1187.8 683.2a3.55 3.55 0 1 0 7.1 0a3.55 3.55 0 1 0 -7.1 0M1187.8 690.3a3.55 3.55 0 1 0 7.1 0a3.55 3.55 0 1 0 -7.1 0M1187.8 697.4a3.55 3.55 0 1 0 7.1 0a3.55 3.55 0 1 0 -7.1 0M1187.8 704.5a3.55 3.55 0 1 0 7.1 0a3.55 3.55 0 1 0 -7.1 0M1187.8 739.8a3.55 3.55 0 1 0 7.1 0a3.55 3.55 0 1 0 -7.1 0M1187.8 789.4a3.55 3.55 0 1 0 7.1 0a3.55 3.55 0 1 0 -7.1 0M1176.2 555.8a3.55 3.55 0 1 0 7.1 0a3.55 3.55 0 1 0 -7.1 0M1176.2 591.2a3.55 3.55 0 1 0 7.1 0a3.55 3.55 0 1 0 -7.1 0M1176.2 605.3a3.55 3.55 0 1 0 7.1 0a3.55 3.55 0 1 0 -7.1 0M1176.2 619.5a3.55 3.55 0 1 0 7.1 0a3.55 3.55 0 1 0 -7.1 0M1176.2 633.6a3.55 3.55 0 1 0 7.1 0a3.55 3.55 0 1 0 -7.1 0M1176.2 640.7a3.55 3.55 0 1 0 7.1 0a3.55 3.55 0 1 0 -7.1 0M1176.2 647.8a3.55 3.55 0 1 0 7.1 0a3.55 3.55 0 1 0 -7.1 0M1176.2 654.9a3.55 3.55 0 1 0 7.1 0a3.55 3.55 0 1 0 -7.1 0M1176.2 676.1a3.55 3.55 0 1 0 7.1 0a3.55 3.55 0 1 0 -7.1 0M1176.2 683.2a3.55 3.55 0 1 0 7.1 0a3.55 3.55 0 1 0 -7.1 0M1176.2 690.3a3.55 3.55 0 1 0 7.1 0a3.55 3.55 0 1 0 -7.1 0M1176.2 697.4a3.55 3.55 0 1 0 7.1 0a3.55 3.55 0 1 0 -7.1 0M1176.2 704.5a3.55 3.55 0 1 0 7.1 0a3.55 3.55 0 1 0 -7.1 0M1176.2 711.5a3.55 3.55 0 1 0 7.1 0a3.55 3.55 0 1 0 -7.1 0M1176.2 718.6a3.55 3.55 0 1 0 7.1 0a3.55 3.55 0 1 0 -7.1 0M1176.2 725.7a3.55 3.55 0 1 0 7.1 0a3.55 3.55 0 1 0 -7.1 0M1176.2 732.8a3.55 3.55 0 1 0 7.1 0a3.55 3.55 0 1 0 -7.1 0M1176.2 746.9a3.55 3.55 0 1 0 7.1 0a3.55 3.55 0 1 0 -7.1 0M1179.0 640.7a3.55 3.55 0 1 0 7.1 0a3.55 3.55 0 1 0 -7.1 0M1179.0 676.1a3.55 3.55 0 1 0 7.1 0a3.55 3.55 0 1 0 -7.1 0M1179.0 683.2a3.55 3.55 0 1 0 7.1 0a3.55 3.55 0 1 0 -7.1 0M1179.0 690.3a3.55 3.55 0 1 0 7.1 0a3.55 3.55 0 1 0 -7.1 0M1179.0 697.4a3.55 3.55 0 1 0 7.1 0a3.55 3.55 0 1 0 -7.1 0M1179.0 704.5a3.55 3.55 0 1 0 7.1 0a3.55 3.55 0 1 0 -7.1 0M1183.4 640.7a3.55 3.55 0 1 0 7.1 0a3.55 3.55 0 1 0 -7.1 0M1183.4 683.2a3.55 3.55 0 1 0 7.1 0a3.55 3.55 0 1 0 -7.1 0M1183.4 690.3a3.55 3.55 0 1 0 7.1 0a3.55 3.55 0 1 0 -7.1 0M1183.4 718.6a3.55 3.55 0 1 0 7.1 0a3.55 3.55 0 1 0 -7.1 0M1183.4 739.8a3.55 3.55 0 1 0 7.1 0a3.55 3.55 0 1 0 -7.1 0M1195.8 654.9a3.55 3.55 0 1 0 7.1 0a3.55 3.55 0 1 0 -7.1 0M1199.2 626.6a3.55 3.55 0 1 0 7.1 0a3.55 3.55 0 1 0 -7.1 0M1199.2 640.7a3.55 3.55 0 1 0 7.1 0a3.55 3.55 0 1 0 -7.1 0M1199.2 683.2a3.55 3.55 0 1 0 7.1 0a3.55 3.55 0 1 0 -7.1 0M1199.2 690.3a3.55 3.55 0 1 0 7.1 0a3.55 3.55 0 1 0 -7.1 0M1199.2 697.4a3.55 3.55 0 1 0 7.1 0a3.55 3.55 0 1 0 -7.1 0M1199.2 704.5a3.55 3.55 0 1 0 7.1 0a3.55 3.55 0 1 0 -7.1 0M1199.2 711.5a3.55 3.55 0 1 0 7.1 0a3.55 3.55 0 1 0 -7.1 0M1199.2 718.6a3.55 3.55 0 1 0 7.1 0a3.55 3.55 0 1 0 -7.1 0M1199.2 725.7a3.55 3.55 0 1 0 7.1 0a3.55 3.55 0 1 0 -7.1 0M1199.2 732.8a3.55 3.55 0 1 0 7.1 0a3.55 3.55 0 1 0 -7.1 0M1199.2 739.8a3.55 3.55 0 1 0 7.1 0a3.55 3.55 0 1 0 -7.1 0M1199.2 746.9a3.55 3.55 0 1 0 7.1 0a3.55 3.55 0 1 0 -7.1 0M1203.8 669.0a3.55 3.55 0 1 0 7.1 0a3.55 3.55 0 1 0 -7.1 0M1203.8 676.1a3.55 3.55 0 1 0 7.1 0a3.55 3.55 0 1 0 -7.1 0M1203.8 683.2a3.55 3.55 0 1 0 7.1 0a3.55 3.55 0 1 0 -7.1 0M1203.8 690.3a3.55 3.55 0 1 0 7.1 0a3.55 3.55 0 1 0 -7.1 0M1203.8 697.4a3.55 3.55 0 1 0 7.1 0a3.55 3.55 0 1 0 -7.1 0M1203.8 704.5a3.55 3.55 0 1 0 7.1 0a3.55 3.55 0 1 0 -7.1 0M1203.8 711.5a3.55 3.55 0 1 0 7.1 0a3.55 3.55 0 1 0 -7.1 0M1203.8 718.6a3.55 3.55 0 1 0 7.1 0a3.55 3.55 0 1 0 -7.1 0M1203.8 725.7a3.55 3.55 0 1 0 7.1 0a3.55 3.55 0 1 0 -7.1 0M1203.8 732.8a3.55 3.55 0 1 0 7.1 0a3.55 3.55 0 1 0 -7.1 0M1203.8 739.8a3.55 3.55 0 1 0 7.1 0a3.55 3.55 0 1 0 -7.1 0M1203.8 746.9a3.55 3.55 0 1 0 7.1 0a3.55 3.55 0 1 0 -7.1 0M1203.8 768.2a3.55 3.55 0 1 0 7.1 0a3.55 3.55 0 1 0 -7.1 0M1209.0 548.7a3.55 3.55 0 1 0 7.1 0a3.55 3.55 0 1 0 -7.1 0M1209.0 555.8a3.55 3.55 0 1 0 7.1 0a3.55 3.55 0 1 0 -7.1 0M1209.0 598.2a3.55 3.55 0 1 0 7.1 0a3.55 3.55 0 1 0 -7.1 0M1209.0 605.3a3.55 3.55 0 1 0 7.1 0a3.55 3.55 0 1 0 -7.1 0M1209.0 612.4a3.55 3.55 0 1 0 7.1 0a3.55 3.55 0 1 0 -7.1 0M1209.0 619.5a3.55 3.55 0 1 0 7.1 0a3.55 3.55 0 1 0 -7.1 0M1209.0 626.6a3.55 3.55 0 1 0 7.1 0a3.55 3.55 0 1 0 -7.1 0M1209.0 633.6a3.55 3.55 0 1 0 7.1 0a3.55 3.55 0 1 0 -7.1 0M1209.0 640.7a3.55 3.55 0 1 0 7.1 0a3.55 3.55 0 1 0 -7.1 0M1209.0 647.8a3.55 3.55 0 1 0 7.1 0a3.55 3.55 0 1 0 -7.1 0M1209.0 654.9a3.55 3.55 0 1 0 7.1 0a3.55 3.55 0 1 0 -7.1 0M1209.0 662.0a3.55 3.55 0 1 0 7.1 0a3.55 3.55 0 1 0 -7.1 0M1209.0 669.0a3.55 3.55 0 1 0 7.1 0a3.55 3.55 0 1 0 -7.1 0M1209.0 676.1a3.55 3.55 0 1 0 7.1 0a3.55 3.55 0 1 0 -7.1 0M1209.0 683.2a3.55 3.55 0 1 0 7.1 0a3.55 3.55 0 1 0 -7.1 0M1209.0 690.3a3.55 3.55 0 1 0 7.1 0a3.55 3.55 0 1 0 -7.1 0M1209.0 697.4a3.55 3.55 0 1 0 7.1 0a3.55 3.55 0 1 0 -7.1 0M1209.0 704.5a3.55 3.55 0 1 0 7.1 0a3.55 3.55 0 1 0 -7.1 0M1209.0 711.5a3.55 3.55 0 1 0 7.1 0a3.55 3.55 0 1 0 -7.1 0M1209.0 754.0a3.55 3.55 0 1 0 7.1 0a3.55 3.55 0 1 0 -7.1 0M1209.0 761.1a3.55 3.55 0 1 0 7.1 0a3.55 3.55 0 1 0 -7.1 0M1209.0 782.3a3.55 3.55 0 1 0 7.1 0a3.55 3.55 0 1 0 -7.1 0M1209.0 789.4a3.55 3.55 0 1 0 7.1 0a3.55 3.55 0 1 0 -7.1 0M1206.5 626.6a3.55 3.55 0 1 0 7.1 0a3.55 3.55 0 1 0 -7.1 0M1206.5 633.6a3.55 3.55 0 1 0 7.1 0a3.55 3.55 0 1 0 -7.1 0M1206.5 640.7a3.55 3.55 0 1 0 7.1 0a3.55 3.55 0 1 0 -7.1 0M1206.5 647.8a3.55 3.55 0 1 0 7.1 0a3.55 3.55 0 1 0 -7.1 0M1206.5 654.9a3.55 3.55 0 1 0 7.1 0a3.55 3.55 0 1 0 -7.1 0M1206.5 662.0a3.55 3.55 0 1 0 7.1 0a3.55 3.55 0 1 0 -7.1 0M1206.5 669.0a3.55 3.55 0 1 0 7.1 0a3.55 3.55 0 1 0 -7.1 0M1206.5 676.1a3.55 3.55 0 1 0 7.1 0a3.55 3.55 0 1 0 -7.1 0M1206.5 683.2a3.55 3.55 0 1 0 7.1 0a3.55 3.55 0 1 0 -7.1 0M1206.5 690.3a3.55 3.55 0 1 0 7.1 0a3.55 3.55 0 1 0 -7.1 0M1214.4 612.4a3.55 3.55 0 1 0 7.1 0a3.55 3.55 0 1 0 -7.1 0M1214.4 633.6a3.55 3.55 0 1 0 7.1 0a3.55 3.55 0 1 0 -7.1 0M1214.4 640.7a3.55 3.55 0 1 0 7.1 0a3.55 3.55 0 1 0 -7.1 0M1214.4 647.8a3.55 3.55 0 1 0 7.1 0a3.55 3.55 0 1 0 -7.1 0M1214.4 654.9a3.55 3.55 0 1 0 7.1 0a3.55 3.55 0 1 0 -7.1 0M1214.4 662.0a3.55 3.55 0 1 0 7.1 0a3.55 3.55 0 1 0 -7.1 0M1214.4 669.0a3.55 3.55 0 1 0 7.1 0a3.55 3.55 0 1 0 -7.1 0M1214.4 676.1a3.55 3.55 0 1 0 7.1 0a3.55 3.55 0 1 0 -7.1 0M1214.4 683.2a3.55 3.55 0 1 0 7.1 0a3.55 3.55 0 1 0 -7.1 0M1214.4 690.3a3.55 3.55 0 1 0 7.1 0a3.55 3.55 0 1 0 -7.1 0M1214.4 697.4a3.55 3.55 0 1 0 7.1 0a3.55 3.55 0 1 0 -7.1 0M1218.0 626.6a3.55 3.55 0 1 0 7.1 0a3.55 3.55 0 1 0 -7.1 0M1218.0 647.8a3.55 3.55 0 1 0 7.1 0a3.55 3.55 0 1 0 -7.1 0M1218.0 662.0a3.55 3.55 0 1 0 7.1 0a3.55 3.55 0 1 0 -7.1 0M1218.0 669.0a3.55 3.55 0 1 0 7.1 0a3.55 3.55 0 1 0 -7.1 0M1218.0 704.5a3.55 3.55 0 1 0 7.1 0a3.55 3.55 0 1 0 -7.1 0M1218.0 746.9a3.55 3.55 0 1 0 7.1 0a3.55 3.55 0 1 0 -7.1 0M1220.5 598.2a3.55 3.55 0 1 0 7.1 0a3.55 3.55 0 1 0 -7.1 0M1220.5 626.6a3.55 3.55 0 1 0 7.1 0a3.55 3.55 0 1 0 -7.1 0M1220.5 640.7a3.55 3.55 0 1 0 7.1 0a3.55 3.55 0 1 0 -7.1 0M1220.5 647.8a3.55 3.55 0 1 0 7.1 0a3.55 3.55 0 1 0 -7.1 0M1220.5 654.9a3.55 3.55 0 1 0 7.1 0a3.55 3.55 0 1 0 -7.1 0M1220.5 662.0a3.55 3.55 0 1 0 7.1 0a3.55 3.55 0 1 0 -7.1 0M1224.5 591.2a3.55 3.55 0 1 0 7.1 0a3.55 3.55 0 1 0 -7.1 0M1224.5 598.2a3.55 3.55 0 1 0 7.1 0a3.55 3.55 0 1 0 -7.1 0M1224.5 633.6a3.55 3.55 0 1 0 7.1 0a3.55 3.55 0 1 0 -7.1 0M1224.5 640.7a3.55 3.55 0 1 0 7.1 0a3.55 3.55 0 1 0 -7.1 0M1224.5 647.8a3.55 3.55 0 1 0 7.1 0a3.55 3.55 0 1 0 -7.1 0M1224.5 654.9a3.55 3.55 0 1 0 7.1 0a3.55 3.55 0 1 0 -7.1 0M1224.5 662.0a3.55 3.55 0 1 0 7.1 0a3.55 3.55 0 1 0 -7.1 0"/>
<path fill="#00B6EB" d="M1228.5 591.2a3.55 3.55 0 1 0 7.1 0a3.55 3.55 0 1 0 -7.1 0M1228.5 598.2a3.55 3.55 0 1 0 7.1 0a3.55 3.55 0 1 0 -7.1 0M1228.5 612.4a3.55 3.55 0 1 0 7.1 0a3.55 3.55 0 1 0 -7.1 0M1228.5 619.5a3.55 3.55 0 1 0 7.1 0a3.55 3.55 0 1 0 -7.1 0M1228.5 626.6a3.55 3.55 0 1 0 7.1 0a3.55 3.55 0 1 0 -7.1 0M1228.5 633.6a3.55 3.55 0 1 0 7.1 0a3.55 3.55 0 1 0 -7.1 0M1228.5 640.7a3.55 3.55 0 1 0 7.1 0a3.55 3.55 0 1 0 -7.1 0M1228.5 647.8a3.55 3.55 0 1 0 7.1 0a3.55 3.55 0 1 0 -7.1 0M1228.5 654.9a3.55 3.55 0 1 0 7.1 0a3.55 3.55 0 1 0 -7.1 0M1228.5 662.0a3.55 3.55 0 1 0 7.1 0a3.55 3.55 0 1 0 -7.1 0M1228.5 669.0a3.55 3.55 0 1 0 7.1 0a3.55 3.55 0 1 0 -7.1 0M1228.5 676.1a3.55 3.55 0 1 0 7.1 0a3.55 3.55 0 1 0 -7.1 0M1228.5 690.3a3.55 3.55 0 1 0 7.1 0a3.55 3.55 0 1 0 -7.1 0M1232.0 619.5a3.55 3.55 0 1 0 7.1 0a3.55 3.55 0 1 0 -7.1 0M1232.0 633.6a3.55 3.55 0 1 0 7.1 0a3.55 3.55 0 1 0 -7.1 0M1232.0 640.7a3.55 3.55 0 1 0 7.1 0a3.55 3.55 0 1 0 -7.1 0M1238.4 669.0a3.55 3.55 0 1 0 7.1 0a3.55 3.55 0 1 0 -7.1 0M1238.4 683.2a3.55 3.55 0 1 0 7.1 0a3.55 3.55 0 1 0 -7.1 0M1238.4 690.3a3.55 3.55 0 1 0 7.1 0a3.55 3.55 0 1 0 -7.1 0M1238.4 697.4a3.55 3.55 0 1 0 7.1 0a3.55 3.55 0 1 0 -7.1 0M1238.4 704.5a3.55 3.55 0 1 0 7.1 0a3.55 3.55 0 1 0 -7.1 0M1238.4 711.5a3.55 3.55 0 1 0 7.1 0a3.55 3.55 0 1 0 -7.1 0M1238.4 718.6a3.55 3.55 0 1 0 7.1 0a3.55 3.55 0 1 0 -7.1 0M1238.4 725.7a3.55 3.55 0 1 0 7.1 0a3.55 3.55 0 1 0 -7.1 0M1238.4 732.8a3.55 3.55 0 1 0 7.1 0a3.55 3.55 0 1 0 -7.1 0M1238.4 739.8a3.55 3.55 0 1 0 7.1 0a3.55 3.55 0 1 0 -7.1 0M1238.4 746.9a3.55 3.55 0 1 0 7.1 0a3.55 3.55 0 1 0 -7.1 0M1233.5 725.7a3.55 3.55 0 1 0 7.1 0a3.55 3.55 0 1 0 -7.1 0M1243.0 725.7a3.55 3.55 0 1 0 7.1 0a3.55 3.55 0 1 0 -7.1 0M1243.5 739.8a3.55 3.55 0 1 0 7.1 0a3.55 3.55 0 1 0 -7.1 0M1219.7 768.2a3.55 3.55 0 1 0 7.1 0a3.55 3.55 0 1 0 -7.1 0M1244.5 534.5a3.55 3.55 0 1 0 7.1 0a3.55 3.55 0 1 0 -7.1 0M1244.5 541.6a3.55 3.55 0 1 0 7.1 0a3.55 3.55 0 1 0 -7.1 0M1258.8 548.7a3.55 3.55 0 1 0 7.1 0a3.55 3.55 0 1 0 -7.1 0M1258.8 555.8a3.55 3.55 0 1 0 7.1 0a3.55 3.55 0 1 0 -7.1 0M1258.8 562.8a3.55 3.55 0 1 0 7.1 0a3.55 3.55 0 1 0 -7.1 0M1258.8 577.0a3.55 3.55 0 1 0 7.1 0a3.55 3.55 0 1 0 -7.1 0M1258.8 598.2a3.55 3.55 0 1 0 7.1 0a3.55 3.55 0 1 0 -7.1 0M1258.8 612.4a3.55 3.55 0 1 0 7.1 0a3.55 3.55 0 1 0 -7.1 0M1258.8 626.6a3.55 3.55 0 1 0 7.1 0a3.55 3.55 0 1 0 -7.1 0M1258.8 633.6a3.55 3.55 0 1 0 7.1 0a3.55 3.55 0 1 0 -7.1 0M1258.8 640.7a3.55 3.55 0 1 0 7.1 0a3.55 3.55 0 1 0 -7.1 0M1258.8 647.8a3.55 3.55 0 1 0 7.1 0a3.55 3.55 0 1 0 -7.1 0M1258.8 654.9a3.55 3.55 0 1 0 7.1 0a3.55 3.55 0 1 0 -7.1 0M1258.8 662.0a3.55 3.55 0 1 0 7.1 0a3.55 3.55 0 1 0 -7.1 0M1258.8 669.0a3.55 3.55 0 1 0 7.1 0a3.55 3.55 0 1 0 -7.1 0M1258.8 676.1a3.55 3.55 0 1 0 7.1 0a3.55 3.55 0 1 0 -7.1 0M1258.8 683.2a3.55 3.55 0 1 0 7.1 0a3.55 3.55 0 1 0 -7.1 0M1258.8 690.3a3.55 3.55 0 1 0 7.1 0a3.55 3.55 0 1 0 -7.1 0M1258.8 697.4a3.55 3.55 0 1 0 7.1 0a3.55 3.55 0 1 0 -7.1 0M1258.8 704.5a3.55 3.55 0 1 0 7.1 0a3.55 3.55 0 1 0 -7.1 0M1258.8 711.5a3.55 3.55 0 1 0 7.1 0a3.55 3.55 0 1 0 -7.1 0M1258.8 718.6a3.55 3.55 0 1 0 7.1 0a3.55 3.55 0 1 0 -7.1 0M1258.8 725.7a3.55 3.55 0 1 0 7.1 0a3.55 3.55 0 1 0 -7.1 0M1256.0 562.8a3.55 3.55 0 1 0 7.1 0a3.55 3.55 0 1 0 -7.1 0M1256.0 598.2a3.55 3.55 0 1 0 7.1 0a3.55 3.55 0 1 0 -7.1 0M1251.7 676.1a3.55 3.55 0 1 0 7.1 0a3.55 3.55 0 1 0 -7.1 0M1251.7 683.2a3.55 3.55 0 1 0 7.1 0a3.55 3.55 0 1 0 -7.1 0M1251.7 690.3a3.55 3.55 0 1 0 7.1 0a3.55 3.55 0 1 0 -7.1 0M1251.7 697.4a3.55 3.55 0 1 0 7.1 0a3.55 3.55 0 1 0 -7.1 0M1251.7 704.5a3.55 3.55 0 1 0 7.1 0a3.55 3.55 0 1 0 -7.1 0M1251.7 711.5a3.55 3.55 0 1 0 7.1 0a3.55 3.55 0 1 0 -7.1 0M1251.7 718.6a3.55 3.55 0 1 0 7.1 0a3.55 3.55 0 1 0 -7.1 0M1251.7 725.7a3.55 3.55 0 1 0 7.1 0a3.55 3.55 0 1 0 -7.1 0M1265.9 577.0a3.55 3.55 0 1 0 7.1 0a3.55 3.55 0 1 0 -7.1 0M1265.9 584.1a3.55 3.55 0 1 0 7.1 0a3.55 3.55 0 1 0 -7.1 0M1260.5 676.1a3.55 3.55 0 1 0 7.1 0a3.55 3.55 0 1 0 -7.1 0M1258.4 38.9a3.55 3.55 0 1 0 7.1 0a3.55 3.55 0 1 0 -7.1 0M1258.4 123.9a3.55 3.55 0 1 0 7.1 0a3.55 3.55 0 1 0 -7.1 0M1258.4 159.3a3.55 3.55 0 1 0 7.1 0a3.55 3.55 0 1 0 -7.1 0M1258.4 173.4a3.55 3.55 0 1 0 7.1 0a3.55 3.55 0 1 0 -7.1 0M1258.4 187.6a3.55 3.55 0 1 0 7.1 0a3.55 3.55 0 1 0 -7.1 0M1258.4 194.7a3.55 3.55 0 1 0 7.1 0a3.55 3.55 0 1 0 -7.1 0M1258.4 201.8a3.55 3.55 0 1 0 7.1 0a3.55 3.55 0 1 0 -7.1 0M1258.4 215.9a3.55 3.55 0 1 0 7.1 0a3.55 3.55 0 1 0 -7.1 0M1258.4 223.0a3.55 3.55 0 1 0 7.1 0a3.55 3.55 0 1 0 -7.1 0M1258.4 230.1a3.55 3.55 0 1 0 7.1 0a3.55 3.55 0 1 0 -7.1 0M1258.4 237.2a3.55 3.55 0 1 0 7.1 0a3.55 3.55 0 1 0 -7.1 0M1258.4 244.2a3.55 3.55 0 1 0 7.1 0a3.55 3.55 0 1 0 -7.1 0M1258.4 265.5a3.55 3.55 0 1 0 7.1 0a3.55 3.55 0 1 0 -7.1 0M1258.4 272.6a3.55 3.55 0 1 0 7.1 0a3.55 3.55 0 1 0 -7.1 0M1258.4 279.6a3.55 3.55 0 1 0 7.1 0a3.55 3.55 0 1 0 -7.1 0M1258.4 286.7a3.55 3.55 0 1 0 7.1 0a3.55 3.55 0 1 0 -7.1 0M1258.4 293.8a3.55 3.55 0 1 0 7.1 0a3.55 3.55 0 1 0 -7.1 0M1258.4 300.9a3.55 3.55 0 1 0 7.1 0a3.55 3.55 0 1 0 -7.1 0M1258.4 308.0a3.55 3.55 0 1 0 7.1 0a3.55 3.55 0 1 0 -7.1 0M1258.4 315.0a3.55 3.55 0 1 0 7.1 0a3.55 3.55 0 1 0 -7.1 0M1258.4 322.1a3.55 3.55 0 1 0 7.1 0a3.55 3.55 0 1 0 -7.1 0M1258.4 336.3a3.55 3.55 0 1 0 7.1 0a3.55 3.55 0 1 0 -7.1 0M1258.4 343.4a3.55 3.55 0 1 0 7.1 0a3.55 3.55 0 1 0 -7.1 0M1258.4 350.4a3.55 3.55 0 1 0 7.1 0a3.55 3.55 0 1 0 -7.1 0M1258.4 357.5a3.55 3.55 0 1 0 7.1 0a3.55 3.55 0 1 0 -7.1 0M1258.4 364.6a3.55 3.55 0 1 0 7.1 0a3.55 3.55 0 1 0 -7.1 0M1258.4 371.7a3.55 3.55 0 1 0 7.1 0a3.55 3.55 0 1 0 -7.1 0M1258.4 378.8a3.55 3.55 0 1 0 7.1 0a3.55 3.55 0 1 0 -7.1 0M1258.4 385.8a3.55 3.55 0 1 0 7.1 0a3.55 3.55 0 1 0 -7.1 0M1258.4 392.9a3.55 3.55 0 1 0 7.1 0a3.55 3.55 0 1 0 -7.1 0M1258.4 400.0a3.55 3.55 0 1 0 7.1 0a3.55 3.55 0 1 0 -7.1 0M1258.4 407.1a3.55 3.55 0 1 0 7.1 0a3.55 3.55 0 1 0 -7.1 0M1258.4 414.2a3.55 3.55 0 1 0 7.1 0a3.55 3.55 0 1 0 -7.1 0M1258.4 421.2a3.55 3.55 0 1 0 7.1 0a3.55 3.55 0 1 0 -7.1 0M1258.4 435.4a3.55 3.55 0 1 0 7.1 0a3.55 3.55 0 1 0 -7.1 0M1258.4 442.5a3.55 3.55 0 1 0 7.1 0a3.55 3.55 0 1 0 -7.1 0M1258.4 456.6a3.55 3.55 0 1 0 7.1 0a3.55 3.55 0 1 0 -7.1 0M1258.4 463.7a3.55 3.55 0 1 0 7.1 0a3.55 3.55 0 1 0 -7.1 0M1258.4 477.9a3.55 3.55 0 1 0 7.1 0a3.55 3.55 0 1 0 -7.1 0M1258.4 485.0a3.55 3.55 0 1 0 7.1 0a3.55 3.55 0 1 0 -7.1 0M1258.4 492.0a3.55 3.55 0 1 0 7.1 0a3.55 3.55 0 1 0 -7.1 0M1258.4 499.1a3.55 3.55 0 1 0 7.1 0a3.55 3.55 0 1 0 -7.1 0M1258.4 534.5a3.55 3.55 0 1 0 7.1 0a3.55 3.55 0 1 0 -7.1 0M1233.7 244.2a3.55 3.55 0 1 0 7.1 0a3.55 3.55 0 1 0 -7.1 0M1254.8 456.6a3.55 3.55 0 1 0 7.1 0a3.55 3.55 0 1 0 -7.1 0M1255.4 513.3a3.55 3.55 0 1 0 7.1 0a3.55 3.55 0 1 0 -7.1 0"/>
<path fill="#A58AFF" d="M1318.2 173.4a3.55 3.55 0 1 0 7.1 0a3.55 3.55 0 1 0 -7.1 0M1318.2 336.3a3.55 3.55 0 1 0 7.1 0a3.55 3.55 0 1 0 -7.1 0M1318.2 492.0a3.55 3.55 0 1 0 7.1 0a3.55 3.55 0 1 0 -7.1 0M1318.2 513.3a3.55 3.55 0 1 0 7.1 0a3.55 3.55 0 1 0 -7.1 0M1318.2 520.4a3.55 3.55 0 1 0 7.1 0a3.55 3.55 0 1 0 -7.1 0M1318.2 527.5a3.55 3.55 0 1 0 7.1 0a3.55 3.55 0 1 0 -7.1 0M1318.2 534.5a3.55 3.55 0 1 0 7.1 0a3.55 3.55 0 1 0 -7.1 0M1318.2 541.6a3.55 3.55 0 1 0 7.1 0a3.55 3.55 0 1 0 -7.1 0M1318.2 548.7a3.55 3.55 0 1 0 7.1 0a3.55 3.55 0 1 0 -7.1 0M1318.2 555.8a3.55 3.55 0 1 0 7.1 0a3.55 3.55 0 1 0 -7.1 0M1318.2 562.8a3.55 3.55 0 1 0 7.1 0a3.55 3.55 0 1 0 -7.1 0M1318.2 569.9a3.55 3.55 0 1 0 7.1 0a3.55 3.55 0 1 0 -7.1 0M1318.2 577.0a3.55 3.55 0 1 0 7.1 0a3.55 3.55 0 1 0 -7.1 0M1318.2 584.1a3.55 3.55 0 1 0 7.1 0a3.55 3.55 0 1 0 -7.1 0M1318.2 591.2a3.55 3.55 0 1 0 7.1 0a3.55 3.55 0 1 0 -7.1 0M1318.2 598.2a3.55 3.55 0 1 0 7.1 0a3.55 3.55 0 1 0 -7.1 0M1318.2 605.3a3.55 3.55 0 1 0 7.1 0a3.55 3.55 0 1 0 -7.1 0M1318.2 612.4a3.55 3.55 0 1 0 7.1 0a3.55 3.55 0 1 0 -7.1 0M1318.2 619.5a3.55 3.55 0 1 0 7.1 0a3.55 3.55 0 1 0 -7.1 0M1318.2 626.6a3.55 3.55 0 1 0 7.1 0a3.55 3.55 0 1 0 -7.1 0M1318.2 633.6a3.55 3.55 0 1 0 7.1 0a3.55 3.55 0 1 0 -7.1 0M1318.2 640.7a3.55 3.55 0 1 0 7.1 0a3.55 3.55 0 1 0 -7.1 0M1318.2 647.8a3.55 3.55 0 1 0 7.1 0a3.55 3.55 0 1 0 -7.1 0M1318.2 654.9a3.55 3.55 0 1 0 7.1 0a3.55 3.55 0 1 0 -7.1 0M1318.2 662.0a3.55 3.55 0 1 0 7.1 0a3.55 3.55 0 1 0 -7.1 0M1318.2 669.0a3.55 3.55 0 1 0 7.1 0a3.55 3.55 0 1 0 -7.1 0M1318.2 676.1a3.55 3.55 0 1 0 7.1 0a3.55 3.55 0 1 0 -7.1 0M1318.2 683.2a3.55 3.55 0 1 0 7.1 0a3.55 3.55 0 1 0 -7.1 0M1318.2 690.3a3.55 3.55 0 1 0 7.1 0a3.55 3.55 0 1 0 -7.1 0M1318.2 697.4a3.55 3.55 0 1 0 7.1 0a3.55 3.55 0 1 0 -7.1 0M1318.2 704.5a3.55 3.55 0 1 0 7.1 0a3.55 3.55 0 1 0 -7.1 0M1318.2 711.5a3.55 3.55 0 1 0 7.1 0a3.55 3.55 0 1 0 -7.1 0M1318.2 718.6a3.55 3.55 0 1 0 7.1 0a3.55 3.55 0 1 0 -7.1 0M1318.2 725.7a3.55 3.55 0 1 0 7.1 0a3.55 3.55 0 1 0 -7.1 0M1318.2 732.8a3.55 3.55 0 1 0 7.1 0a3.55 3.55 0 1 0 -7.1 0M1318.2 739.8a3.55 3.55 0 1 0 7.1 0a3.55 3.55 0 1 0 -7.1 0M1318.2 746.9a3.55 3.55 0 1 0 7.1 0a3.55 3.55 0 1 0 -7.1 0M1318.2 761.1a3.55 3.55 0 1 0 7.1 0a3.55 3.55 0 1 0 -7.1 0M1322.0 456.6a3.55 3.55 0 1 0 7.1 0a3.55 3.55 0 1 0 -7.1 0M1322.0 506.2a3.55 3.55 0 1 0 7.1 0a3.55 3.55 0 1 0 -7.1 0M1322.0 513.3a3.55 3.55 0 1 0 7.1 0a3.55 3.55 0 1 0 -7.1 0M1322.0 520.4a3.55 3.55 0 1 0 7.1 0a3.55 3.55 0 1 0 -7.1 0M1322.0 527.5a3.55 3.55 0 1 0 7.1 0a3.55 3.55 0 1 0 -7.1 0M1322.0 534.5a3.55 3.55 0 1 0 7.1 0a3.55 3.55 0 1 0 -7.1 0M1322.0 541.6a3.55 3.55 0 1 0 7.1 0a3.55 3.55 0 1 0 -7.1 0M1322.0 548.7a3.55 3.55 0 1 0 7.1 0a3.55 3.55 0 1 0 -7.1 0M1322.0 555.8a3.55 3.55 0 1 0 7.1 0a3.55 3.55 0 1 0 -7.1 0M1322.0 562.8a3.55 3.55 0 1 0 7.1 0a3.55 3.55 0 1 0 -7.1 0M1322.0 569.9a3.55 3.55 0 1 0 7.1 0a3.55 3.55 0 1 0 -7.1 0M1322.0 577.0a3.55 3.55 0 1 0 7.1 0a3.55 3.55 0 1 0 -7.1 0M1322.0 584.1a3.55 3.55 0 1 0 7.1 0a3.55 3.55 0 1 0 -7.1 0M1322.0 591.2a3.55 3.55 0 1 0 7.1 0a3.55 3.55 0 1 0 -7.1 0M1322.0 598.2a3.55 3.55 0 1 0 7.1 0a3.55 3.55 0 1 0 -7.1 0M1322.0 605.3a3.55 3.55 0 1 0 7.1 0a3.55 3.55 0 1 0 -7.1 0M1322.0 612.4a3.55 3.55 0 1 0 7.1 0a3.55 3.55 0 1 0 -7.1 0M1322.0 619.5a3.55 3.55 0 1 0 7.1 0a3.55 3.55 0 1 0 -7.1 0M1322.0 626.6a3.55 3.55 0 1 0 7.1 0a3.55 3.55 0 1 0 -7.1 0M1322.0 633.6a3.55 3.55 0 1 0 7.1 0a3.55 3.55 0 1 0 -7.1 0M1322.0 640.7a3.55 3.55 0 1 0 7.1 0a3.55 3.55 0 1 0 -7.1 0M1322.0 647.8a3.55 3.55 0 1 0 7.1 0a3.55 3.55 0 1 0 -7.1 0M1322.0 654.9a3.55 3.55 0 1 0 7.1 0a3.55 3.55 0 1 0 -7.1 0M1322.0 662.0a3.55 3.55 0 1 0 7.1 0a3.55 3.55 0 1 0 -7.1 0M1322.0 669.0a3.55 3.55 0 1 0 7.1 0a3.55 3.55 0 1 0 -7.1 0M1322.0 676.1a3.55 3.55 0 1 0 7.1 0a3.55 3.55 0 1 0 -7.1 0M1322.0 683.2a3.55 3.55 0 1 0 7.1 0a3.55 3.55 0 1 0 -7.1 0M1322.0 690.3a3.55 3.55 0 1 0 7.1 0a3.55 3.55 0 1 0 -7.1 0M1322.0 697.4a3.55 3.55 0 1 0 7.1 0a3.55 3.55 0 1 0 -7.1 0M1322.0 704.5a3.55 3.55 0 1 0 7.1 0a3.55 3.55 0 1 0 -7.1 0M1322.0 711.5a3.55 3.55 0 1 0 7.1 0a3.55 3.55 0 1 0 -7.1 0M1322.0 718.6a3.55 3.55 0 1 0 7.1 0a3.55 3.55 0 1 0 -7.1 0M1322.0 725.7a3.55 3.55 0 1 0 7.1 0a3.55 3.55 0 1 0 -7.1 0M1322.0 732.8a3.55 3.55 0 1 0 7.1 0a3.55 3.55 0 1 0 -7.1 0M1322.0 739.8a3.55 3.55 0 1 0 7.1 0a3.55 3.55 0 1 0 -7.1 0M1316.8 548.7a3.55 3.55 0 1 0 7.1 0a3.55 3.55 0 1 0 -7.1 0M1316.8 555.8a3.55 3.55 0 1 0 7.1 0a3.55 3.55 0 1 0 -7.1 0M1316.8 562.8a3.55 3.55 0 1 0 7.1 0a3.55 3.55 0 1 0 -7.1 0M1316.8 569.9a3.55 3.55 0 1 0 7.1 0a3.55 3.55 0 1 0 -7.1 0M1316.8 577.0a3.55 3.55 0 1 0 7.1 0a3.55 3.55 0 1 0 -7.1 0M1316.8 584.1a3.55 3.55 0 1 0 7.1 0a3.55 3.55 0 1 0 -7.1 0M1316.8 591.2a3.55 3.55 0 1 0 7.1 0a3.55 3.55 0 1 0 -7.1 0M1316.8 598.2a3.55 3.55 0 1 0 7.1 0a3.55 3.55 0 1 0 -7.1 0M1316.8 605.3a3.55 3.55 0 1 0 7.1 0a3.55 3.55 0 1 0 -7.1 0M1316.8 612.4a3.55 3.55 0 1 0 7.1 0a3.55 3.55 0 1 0 -7.1 0M1316.8 619.5a3.55 3.55 0 1 0 7.1 0a3.55 3.55 0 1 0 -7.1 0M1316.8 626.6a3.55 3.55 0 1 0 7.1 0a3.55 3.55 0 1 0 -7.1 0M1316.8 633.6a3.55 3.55 0 1 0 7.1 0a3.55 3.55 0 1 0 -7.1 0M1316.8 640.7a3.55 3.55 0 1 0 7.1 0a3.55 3.55 0 1 0 -7.1 0M1316.8 647.8a3.55 3.55 0 1 0 7.1 0a3.55 3.55 0 1 0 -7.1 0M1316.8 654.9a3.55 3.55 0 1 0 7.1 0a3.55 3.55 0 1 0 -7.1 0M1316.8 662.0a3.55 3.55 0 1 0 7.1 0a3.55 3.55 0 1 0 -7.1 0M1316.8 669.0a3.55 3.55 0 1 0 7.1 0a3.55 3.55 0 1 0 -7.1 0M1316.8 676.1a3.55 3.55 0 1 0 7.1 0a3.55 3.55 0 1 0 -7.1 0M1316.8 683.2a3.55 3.55 0 1 0 7.1 0a3.55 3.55 0 1 0 -7.1 0M1316.8 690.3a3.55 3.55 0 1 0 7.1 0a3.55 3.55 0 1 0 -7.1 0M1316.8 697.4a3.55 3.55 0 1 0 7.1 0a3.55 3.55 0 1 0 -7.1 0M1316.8 704.5a3.55 3.55 0 1 0 7.1 0a3.55 3.55 0 1 0 -7.1 0M1316.8 711.5a3.55 3.55 0 1 0 7.1 0a3.55 3.55 0 1 0 -7.1 0M1316.8 718.6a3.55 3.55 0 1 0 7.1 0a3.55 3.55 0 1 0 -7.1 0M1316.8 725.7a3.55 3.55 0 1 0 7.1 0a3.55 3.55 0 1 0 -7.1 0M1316.8 732.8a3.55 3.55 0 1 0 7.1 0a3.55 3.55 0 1 0 -7.1 0M1324.0 541.6a3.55 3.55 0 1 0 7.1 0a3.55 3.55 0 1 0 -7.1 0M1324.0 548.7a3.55 3.55 0 1 0 7.1 0a3.55 3.55 0 1 0 -7.1 0M1324.0 555.8a3.55 3.55 0 1 0 7.1 0a3.55 3.55 0 1 0 -7.1 0M1324.0 562.8a3.55 3.55 0 1 0 7.1 0a3.55 3.55 0 1 0 -7.1 0M1324.0 569.9a3.55 3.55 0 1 0 7.1 0a3.55 3.55 0 1 0 -7.1 0M1324.0 577.0a3.55 3.55 0 1 0 7.1 0a3.55 3.55 0 1 0 -7.1 0M1324.0 584.1a3.55 3.55 0 1 0 7.1 0a3.55 3.55 0 1 0 -7.1 0M1324.0 591.2a3.55 3.55 0 1 0 7.1 0a3.55 3.55 0 1 0 -7.1 0M1324.0 598.2a3.55 3.55 0 1 0 7.1 0a3.55 3.55 0 1 0 -7.1 0M1324.0 605.3a3.55 3.55 0 1 0 7.1 0a3.55 3.55 0 1 0 -7.1 0M1324.0 612.4a3.55 3.55 0 1 0 7.1 0a3.55 3.55 0 1 0 -7.1 0M1324.0 619.5a3.55 3.55 0 1 0 7.1 0a3.55 3.55 0 1 0 -7.1 0M1324.0 626.6a3.55 3.55 0 1 0 7.1 0a3.55 3.55 0 1 0 -7.1 0M1324.0 633.6a3.55 3.55 0 1 0 7.1 0a3.55 3.55 0 1 0 -7.1 0M1324.0 640.7a3.55 3.55 0 1 0 7.1 0a3.55 3.55 0 1 0 -7.1 0M1324.0 647.8a3.55 3.55 0 1 0 7.1 0a3.55 3.55 0 1 0 -7.1 0M1324.0 654.9a3.55 3.55 0 1 0 7.1 0a3.55 3.55 0 1 0 -7.1 0M1324.0 662.0a3.55 3.55 0 1 0 7.1 0a3.55 3.55 0 1 0 -7.1 0M1324.0 669.0a3.55 3.55 0 1 0 7.1 0a3.55 3.55 0 1 0 -7.1 0M1324.0 676.1a3.55 3.55 0 1 0 7.1 0a3.55 3.55 0 1 0 -7.1 0M1324.0 683.2a3.55 3.55 0 1 0 7.1 0a3.55 3.55 0 1 0 -7.1 0M1324.0 690.3a3.55 3.55 0 1 0 7.1 0a3.55 3.55 0 1 0 -7.1 0M1324.0 697.4a3.55 3.55 0 1 0 7.1 0a3.55 3.55 0 1 0 -7.1 0M1324.0 704.5a3.55 3.55 0 1 0 7.1 0a3.55 3.55 0 1 0 -7.1 0M1324.0 711.5a3.55 3.55 0 1 0 7.1 0a3.55 3.55 0 1 0 -7.1 0M1324.0 718.6a3.55 3.55 0 1 0 7.1 0a3.55 3.55 0 1 0 -7.1 0M1324.0 725.7a3.55 3.55 0 1 0 7.1 0a3.55 3.55 0 1 0 -7.1 0M1326.0 577.0a3.55 3.55 0 1 0 7.1 0a3.55 3.55 0 1 0 -7.1 0M1326.0 591.2a3.55 3.55 0 1 0 7.1 0a3.55 3.55 0 1 0 -7.1 0M1326.0 619.5a3.55 3.55 0 1 0 7.1 0a3.55 3.55 0 1 0 -7.1 0M1326.0 633.6a3.55 3.55 0 1 0 7.1 0a3.55 3.55 0 1 0 -7.1 0M1326.0 669.0a3.55 3.55 0 1 0 7.1 0a3.55 3.55 0 1 0 -7.1 0M1326.0 683.2a3.55 3.55 0 1 0 7.1 0a3.55 3.55 0 1 0 -7.1 0M1326.0 704.5a3.55 3.55 0 1 0 7.1 0a3.55 3.55 0 1 0 -7.1 0M1326.0 725.7a3.55 3.55 0 1 0 7.1 0a3.55 3.55 0 1 0 -7.1 0"/>
<path fill="#FB61D7" d="M1345.5 208.8a3.55 3.55 0 1 0 7.1 0a3.55 3.55 0 1 0 -7.1 0M1345.5 223.0a3.55 3.55 0 1 0 7.1 0a3.55 3.55 0 1 0 -7.1 0M1345.5 265.5a3.55 3.55 0 1 0 7.1 0a3.55 3.55 0 1 0 -7.1 0M1345.5 272.6a3.55 3.55 0 1 0 7.1 0a3.55 3.55 0 1 0 -7.1 0M1345.5 322.1a3.55 3.55 0 1 0 7.1 0a3.55 3.55 0 1 0 -7.1 0M1345.5 343.4a3.55 3.55 0 1 0 7.1 0a3.55 3.55 0 1 0 -7.1 0M1345.5 350.4a3.55 3.55 0 1 0 7.1 0a3.55 3.55 0 1 0 -7.1 0M1359.7 322.1a3.55 3.55 0 1 0 7.1 0a3.55 3.55 0 1 0 -7.1 0M1359.7 400.0a3.55 3.55 0 1 0 7.1 0a3.55 3.55 0 1 0 -7.1 0M1359.7 407.1a3.55 3.55 0 1 0 7.1 0a3.55 3.55 0 1 0 -7.1 0M1359.7 421.2a3.55 3.55 0 1 0 7.1 0a3.55 3.55 0 1 0 -7.1 0M1359.7 428.3a3.55 3.55 0 1 0 7.1 0a3.55 3.55 0 1 0 -7.1 0M1359.7 442.5a3.55 3.55 0 1 0 7.1 0a3.55 3.55 0 1 0 -7.1 0M1359.7 456.6a3.55 3.55 0 1 0 7.1 0a3.55 3.55 0 1 0 -7.1 0M1359.7 463.7a3.55 3.55 0 1 0 7.1 0a3.55 3.55 0 1 0 -7.1 0M1359.7 470.8a3.55 3.55 0 1 0 7.1 0a3.55 3.55 0 1 0 -7.1 0M1347.4 336.3a3.55 3.55 0 1 0 7.1 0a3.55 3.55 0 1 0 -7.1 0M1347.4 357.5a3.55 3.55 0 1 0 7.1 0a3.55 3.55 0 1 0 -7.1 0M1347.4 442.5a3.55 3.55 0 1 0 7.1 0a3.55 3.55 0 1 0 -7.1 0M1347.4 477.9a3.55 3.55 0 1 0 7.1 0a3.55 3.55 0 1 0 -7.1 0M1344.0 407.1a3.55 3.55 0 1 0 7.1 0a3.55 3.55 0 1 0 -7.1 0M1344.0 449.6a3.55 3.55 0 1 0 7.1 0a3.55 3.55 0 1 0 -7.1 0M1341.8 438.9a3.55 3.55 0 1 0 7.1 0a3.55 3.55 0 1 0 -7.1 0M1337.5 456.6a3.55 3.55 0 1 0 7.1 0a3.55 3.55 0 1 0 -7.1 0M1353.5 470.8a3.55 3.55 0 1 0 7.1 0a3.55 3.55 0 1 0 -7.1 0M1337.5 485.0a3.55 3.55 0 1 0 7.1 0a3.55 3.55 0 1 0 -7.1 0M1337.5 492.0a3.55 3.55 0 1 0 7.1 0a3.55 3.55 0 1 0 -7.1 0M1337.5 513.3a3.55 3.55 0 1 0 7.1 0a3.55 3.55 0 1 0 -7.1 0M1337.5 520.4a3.55 3.55 0 1 0 7.1 0a3.55 3.55 0 1 0 -7.1 0M1337.5 534.5a3.55 3.55 0 1 0 7.1 0a3.55 3.55 0 1 0 -7.1 0M1337.5 569.9a3.55 3.55 0 1 0 7.1 0a3.55 3.55 0 1 0 -7.1 0M1337.5 605.3a3.55 3.55 0 1 0 7.1 0a3.55 3.55 0 1 0 -7.1 0M1337.5 619.5a3.55 3.55 0 1 0 7.1 0a3.55 3.55 0 1 0 -7.1 0M1337.5 633.6a3.55 3.55 0 1 0 7.1 0a3.55 3.55 0 1 0 -7.1 0M1337.5 640.7a3.55 3.55 0 1 0 7.1 0a3.55 3.55 0 1 0 -7.1 0M1337.5 647.8a3.55 3.55 0 1 0 7.1 0a3.55 3.55 0 1 0 -7.1 0M1337.5 654.9a3.55 3.55 0 1 0 7.1 0a3.55 3.55 0 1 0 -7.1 0M1337.5 662.0a3.55 3.55 0 1 0 7.1 0a3.55 3.55 0 1 0 -7.1 0M1337.5 669.0a3.55 3.55 0 1 0 7.1 0a3.55 3.55 0 1 0 -7.1 0M1337.5 676.1a3.55 3.55 0 1 0 7.1 0a3.55 3.55 0 1 0 -7.1 0M1337.5 697.4a3.55 3.55 0 1 0 7.1 0a3.55 3.55 0 1 0 -7.1 0M1341.5 513.3a3.55 3.55 0 1 0 7.1 0a3.55 3.55 0 1 0 -7.1 0M1341.5 527.5a3.55 3.55 0 1 0 7.1 0a3.55 3.55 0 1 0 -7.1 0M1341.5 541.6a3.55 3.55 0 1 0 7.1 0a3.55 3.55 0 1 0 -7.1 0M1341.5 548.7a3.55 3.55 0 1 0 7.1 0a3.55 3.55 0 1 0 -7.1 0M1341.5 555.8a3.55 3.55 0 1 0 7.1 0a3.55 3.55 0 1 0 -7.1 0M1341.5 577.0a3.55 3.55 0 1 0 7.1 0a3.55 3.55 0 1 0 -7.1 0M1341.5 584.1a3.55 3.55 0 1 0 7.1 0a3.55 3.55 0 1 0 -7.1 0M1341.5 591.2a3.55 3.55 0 1 0 7.1 0a3.55 3.55 0 1 0 -7.1 0M1341.5 605.3a3.55 3.55 0 1 0 7.1 0a3.55 3.55 0 1 0 -7.1 0M1341.5 612.4a3.55 3.55 0 1 0 7.1 0a3.55 3.55 0 1 0 -7.1 0M1341.5 619.5a3.55 3.55 0 1 0 7.1 0a3.55 3.55 0 1 0 -7.1 0M1341.5 626.6a3.55 3.55 0 1 0 7.1 0a3.55 3.55 0 1 0 -7.1 0M1341.5 633.6a3.55 3.55 0 1 0 7.1 0a3.55 3.55 0 1 0 -7.1 0M1341.5 640.7a3.55 3.55 0 1 0 7.1 0a3.55 3.55 0 1 0 -7.1 0M1341.5 647.8a3.55 3.55 0 1 0 7.1 0a3.55 3.55 0 1 0 -7.1 0M1341.5 654.9a3.55 3.55 0 1 0 7.1 0a3.55 3.55 0 1 0 -7.1 0M1341.5 662.0a3.55 3.55 0 1 0 7.1 0a3.55 3.55 0 1 0 -7.1 0M1341.5 669.0a3.55 3.55 0 1 0 7.1 0a3.55 3.55 0 1 0 -7.1 0M1341.5 676.1a3.55 3.55 0 1 0 7.1 0a3.55 3.55 0 1 0 -7.1 0M1341.5 683.2a3.55 3.55 0 1 0 7.1 0a3.55 3.55 0 1 0 -7.1 0M1345.5 513.3a3.55 3.55 0 1 0 7.1 0a3.55 3.55 0 1 0 -7.1 0M1345.5 527.5a3.55 3.55 0 1 0 7.1 0a3.55 3.55 0 1 0 -7.1 0M1345.5 541.6a3.55 3.55 0 1 0 7.1 0a3.55 3.55 0 1 0 -7.1 0M1345.5 577.0a3.55 3.55 0 1 0 7.1 0a3.55 3.55 0 1 0 -7.1 0M1345.5 584.1a3.55 3.55 0 1 0 7.1 0a3.55 3.55 0 1 0 -7.1 0M1345.5 591.2a3.55 3.55 0 1 0 7.1 0a3.55 3.55 0 1 0 -7.1 0M1345.5 598.2a3.55 3.55 0 1 0 7.1 0a3.55 3.55 0 1 0 -7.1 0M1345.5 605.3a3.55 3.55 0 1 0 7.1 0a3.55 3.55 0 1 0 -7.1 0M1345.5 619.5a3.55 3.55 0 1 0 7.1 0a3.55 3.55 0 1 0 -7.1 0M1345.5 626.6a3.55 3.55 0 1 0 7.1 0a3.55 3.55 0 1 0 -7.1 0M1345.5 633.6a3.55 3.55 0 1 0 7.1 0a3.55 3.55 0 1 0 -7.1 0M1345.5 640.7a3.55 3.55 0 1 0 7.1 0a3.55 3.55 0 1 0 -7.1 0M1345.5 647.8a3.55 3.55 0 1 0 7.1 0a3.55 3.55 0 1 0 -7.1 0M1345.5 654.9a3.55 3.55 0 1 0 7.1 0a3.55 3.55 0 1 0 -7.1 0M1345.5 662.0a3.55 3.55 0 1 0 7.1 0a3.55 3.55 0 1 0 -7.1 0M1345.5 669.0a3.55 3.55 0 1 0 7.1 0a3.55 3.55 0 1 0 -7.1 0M1345.5 676.1a3.55 3.55 0 1 0 7.1 0a3.55 3.55 0 1 0 -7.1 0M1345.5 704.5a3.55 3.55 0 1 0 7.1 0a3.55 3.55 0 1 0 -7.1 0M1348.0 477.9a3.55 3.55 0 1 0 7.1 0a3.55 3.55 0 1 0 -7.1 0M1348.0 492.0a3.55 3.55 0 1 0 7.1 0a3.55 3.55 0 1 0 -7.1 0M1348.0 520.4a3.55 3.55 0 1 0 7.1 0a3.55 3.55 0 1 0 -7.1 0M1348.0 527.5a3.55 3.55 0 1 0 7.1 0a3.55 3.55 0 1 0 -7.1 0M1348.0 541.6a3.55 3.55 0 1 0 7.1 0a3.55 3.55 0 1 0 -7.1 0M1348.0 584.1a3.55 3.55 0 1 0 7.1 0a3.55 3.55 0 1 0 -7.1 0M1348.0 591.2a3.55 3.55 0 1 0 7.1 0a3.55 3.55 0 1 0 -7.1 0M1348.0 640.7a3.55 3.55 0 1 0 7.1 0a3.55 3.55 0 1 0 -7.1 0M1348.0 647.8a3.55 3.55 0 1 0 7.1 0a3.55 3.55 0 1 0 -7.1 0M1348.0 654.9a3.55 3.55 0 1 0 7.1 0a3.55 3.55 0 1 0 -7.1 0M1348.0 662.0a3.55 3.55 0 1 0 7.1 0a3.55 3.55 0 1 0 -7.1 0M1348.0 690.3a3.55 3.55 0 1 0 7.1 0a3.55 3.55 0 1 0 -7.1 0M1348.0 697.4a3.55 3.55 0 1 0 7.1 0a3.55 3.55 0 1 0 -7.1 0M1348.0 704.5a3.55 3.55 0 1 0 7.1 0a3.55 3.55 0 1 0 -7.1 0M1348.0 711.5a3.55 3.55 0 1 0 7.1 0a3.55 3.55 0 1 0 -7.1 0M1353.5 492.0a3.55 3.55 0 1 0 7.1 0a3.55 3.55 0 1 0 -7.1 0M1353.5 499.1a3.55 3.55 0 1 0 7.1 0a3.55 3.55 0 1 0 -7.1 0M1353.5 534.5a3.55 3.55 0 1 0 7.1 0a3.55 3.55 0 1 0 -7.1 0M1353.5 541.6a3.55 3.55 0 1 0 7.1 0a3.55 3.55 0 1 0 -7.1 0M1353.5 555.8a3.55 3.55 0 1 0 7.1 0a3.55 3.55 0 1 0 -7.1 0M1353.5 562.8a3.55 3.55 0 1 0 7.1 0a3.55 3.55 0 1 0 -7.1 0M1353.5 569.9a3.55 3.55 0 1 0 7.1 0a3.55 3.55 0 1 0 -7.1 0M1353.5 577.0a3.55 3.55 0 1 0 7.1 0a3.55 3.55 0 1 0 -7.1 0M1353.5 584.1a3.55 3.55 0 1 0 7.1 0a3.55 3.55 0 1 0 -7.1 0M1353.5 591.2a3.55 3.55 0 1 0 7.1 0a3.55 3.55 0 1 0 -7.1 0M1353.5 598.2a3.55 3.55 0 1 0 7.1 0a3.55 3.55 0 1 0 -7.1 0M1353.5 605.3a3.55 3.55 0 1 0 7.1 0a3.55 3.55 0 1 0 -7.1 0M1353.5 612.4a3.55 3.55 0 1 0 7.1 0a3.55 3.55 0 1 0 -7.1 0M1353.5 619.5a3.55 3.55 0 1 0 7.1 0a3.55 3.55 0 1 0 -7.1 0M1353.5 626.6a3.55 3.55 0 1 0 7.1 0a3.55 3.55 0 1 0 -7.1 0M1353.5 633.6a3.55 3.55 0 1 0 7.1 0a3.55 3.55 0 1 0 -7.1 0M1353.5 640.7a3.55 3.55 0 1 0 7.1 0a3.55 3.55 0 1 0 -7.1 0M1353.5 647.8a3.55 3.55 0 1 0 7.1 0a3.55 3.55 0 1 0 -7.1 0M1353.5 654.9a3.55 3.55 0 1 0 7.1 0a3.55 3.55 0 1 0 -7.1 0M1353.5 662.0a3.55 3.55 0 1 0 7.1 0a3.55 3.55 0 1 0 -7.1 0M1353.5 669.0a3.55 3.55 0 1 0 7.1 0a3.55 3.55 0 1 0 -7.1 0M1353.5 676.1a3.55 3.55 0 1 0 7.1 0a3.55 3.55 0 1 0 -7.1 0M1353.5 683.2a3.55 3.55 0 1 0 7.1 0a3.55 3.55 0 1 0 -7.1 0M1353.5 690.3a3.55 3.55 0 1 0 7.1 0a3.55 3.55 0 1 0 -7.1 0M1353.5 697.4a3.55 3.55 0 1 0 7.1 0a3.55 3.55 0 1 0 -7.1 0M1353.5 704.5a3.55 3.55 0 1 0 7.1 0a3.55 3.55 0 1 0 -7.1 0M1353.5 718.6a3.55 3.55 0 1 0 7.1 0a3.55 3.55 0 1 0 -7.1 0M1353.5 732.8a3.55 3.55 0 1 0 7.1 0a3.55 3.55 0 1 0 -7.1 0M1353.5 746.9a3.55 3.55 0 1 0 7.1 0a3.55 3.55 0 1 0 -7.1 0M1353.5 775.2a3.55 3.55 0 1 0 7.1 0a3.55 3.55 0 1 0 -7.1 0M1358.5 470.8a3.55 3.55 0 1 0 7.1 0a3.55 3.55 0 1 0 -7.1 0M1358.5 506.2a3.55 3.55 0 1 0 7.1 0a3.55 3.55 0 1 0 -7.1 0M1358.5 527.5a3.55 3.55 0 1 0 7.1 0a3.55 3.55 0 1 0 -7.1 0M1358.5 534.5a3.55 3.55 0 1 0 7.1 0a3.55 3.55 0 1 0 -7.1 0M1358.5 562.8a3.55 3.55 0 1 0 7.1 0a3.55 3.55 0 1 0 -7.1 0M1358.5 569.9a3.55 3.55 0 1 0 7.1 0a3.55 3.55 0 1 0 -7.1 0M1358.5 577.0a3.55 3.55 0 1 0 7.1 0a3.55 3.55 0 1 0 -7.1 0M1358.5 584.1a3.55 3.55 0 1 0 7.1 0a3.55 3.55 0 1 0 -7.1 0M1358.5 591.2a3.55 3.55 0 1 0 7.1 0a3.55 3.55 0 1 0 -7.1 0M1358.5 598.2a3.55 3.55 0 1 0 7.1 0a3.55 3.55 0 1 0 -7.1 0M1358.5 605.3a3.55 3.55 0 1 0 7.1 0a3.55 3.55 0 1 0 -7.1 0M1358.5 612.4a3.55 3.55 0 1 0 7.1 0a3.55 3.55 0 1 0 -7.1 0M1358.5 619.5a3.55 3.55 0 1 0 7.1 0a3.55 3.55 0 1 0 -7.1 0M1358.5 626.6a3.55 3.55 0 1 0 7.1 0a3.55 3.55 0 1 0 -7.1 0M1358.5 633.6a3.55 3.55 0 1 0 7.1 0a3.55 3.55 0 1 0 -7.1 0M1358.5 640.7a3.55 3.55 0 1 0 7.1 0a3.55 3.55 0 1 0 -7.1 0M1358.5 647.8a3.55 3.55 0 1 0 7.1 0a3.55 3.55 0 1 0 -7.1 0M1358.5 654.9a3.55 3.55 0 1 0 7.1 0a3.55 3.55 0 1 0 -7.1 0M1358.5 662.0a3.55 3.55 0 1 0 7.1 0a3.55 3.55 0 1 0 -7.1 0M1358.5 669.0a3.55 3.55 0 1 0 7.1 0a3.55 3.55 0 1 0 -7.1 0M1358.5 676.1a3.55 3.55 0 1 0 7.1 0a3.55 3.55 0 1 0 -7.1 0M1358.5 683.2a3.55 3.55 0 1 0 7.1 0a3.55 3.55 0 1 0 -7.1 0M1358.5 690.3a3.55 3.55 0 1 0 7.1 0a3.55 3.55 0 1 0 -7.1 0M1365.2 534.5a3.55 3.55 0 1 0 7.1 0a3.55 3.55 0 1 0 -7.1 0M1365.2 555.8a3.55 3.55 0 1 0 7.1 0a3.55 3.55 0 1 0 -7.1 0M1365.2 562.8a3.55 3.55 0 1 0 7.1 0a3.55 3.55 0 1 0 -7.1 0M1365.2 598.2a3.55 3.55 0 1 0 7.1 0a3.55 3.55 0 1 0 -7.1 0M1365.2 605.3a3.55 3.55 0 1 0 7.1 0a3.55 3.55 0 1 0 -7.1 0M1365.2 612.4a3.55 3.55 0 1 0 7.1 0a3.55 3.55 0 1 0 -7.1 0M1365.2 619.5a3.55 3.55 0 1 0 7.1 0a3.55 3.55 0 1 0 -7.1 0M1365.2 626.6a3.55 3.55 0 1 0 7.1 0a3.55 3.55 0 1 0 -7.1 0M1365.2 633.6a3.55 3.55 0 1 0 7.1 0a3.55 3.55 0 1 0 -7.1 0M1365.2 640.7a3.55 3.55 0 1 0 7.1 0a3.55 3.55 0 1 0 -7.1 0M1365.2 647.8a3.55 3.55 0 1 0 7.1 0a3.55 3.55 0 1 0 -7.1 0M1365.2 654.9a3.55 3.55 0 1 0 7.1 0a3.55 3.55 0 1 0 -7.1 0M1365.2 662.0a3.55 3.55 0 1 0 7.1 0a3.55 3.55 0 1 0 -7.1 0M1365.2 669.0a3.55 3.55 0 1 0 7.1 0a3.55 3.55 0 1 0 -7.1 0M1365.2 676.1a3.55 3.55 0 1 0 7.1 0a3.55 3.55 0 1 0 -7.1 0M1365.2 683.2a3.55 3.55 0 1 0 7.1 0a3.55 3.55 0 1 0 -7.1 0M1365.2 690.3a3.55 3.55 0 1 0 7.1 0a3.55 3.55 0 1 0 -7.1 0M1365.2 739.8a3.55 3.55 0 1 0 7.1 0a3.55 3.55 0 1 0 -7.1 0M1368.7 541.6a3.55 3.55 0 1 0 7.1 0a3.55 3.55 0 1 0 -7.1 0M1368.7 569.9a3.55 3.55 0 1 0 7.1 0a3.55 3.55 0 1 0 -7.1 0M1368.7 577.0a3.55 3.55 0 1 0 7.1 0a3.55 3.55 0 1 0 -7.1 0M1368.7 591.2a3.55 3.55 0 1 0 7.1 0a3.55 3.55 0 1 0 -7.1 0M1368.7 605.3a3.55 3.55 0 1 0 7.1 0a3.55 3.55 0 1 0 -7.1 0M1368.7 612.4a3.55 3.55 0 1 0 7.1 0a3.55 3.55 0 1 0 -7.1 0M1368.7 619.5a3.55 3.55 0 1 0 7.1 0a3.55 3.55 0 1 0 -7.1 0M1368.7 626.6a3.55 3.55 0 1 0 7.1 0a3.55 3.55 0 1 0 -7.1 0M1368.7 633.6a3.55 3.55 0 1 0 7.1 0a3.55 3.55 0 1 0 -7.1 0M1368.7 640.7a3.55 3.55 0 1 0 7.1 0a3.55 3.55 0 1 0 -7.1 0M1368.7 647.8a3.55 3.55 0 1 0 7.1 0a3.55 3.55 0 1 0 -7.1 0M1368.7 654.9a3.55 3.55 0 1 0 7.1 0a3.55 3.55 0 1 0 -7.1 0M1368.7 662.0a3.55 3.55 0 1 0 7.1 0a3.55 3.55 0 1 0 -7.1 0M1368.7 669.0a3.55 3.55 0 1 0 7.1 0a3.55 3.55 0 1 0 -7.1 0M1368.7 676.1a3.55 3.55 0 1 0 7.1 0a3.55 3.55 0 1 0 -7.1 0M1368.7 683.2a3.55 3.55 0 1 0 7.1 0a3.55 3.55 0 1 0 -7.1 0M1368.7 690.3a3.55 3.55 0 1 0 7.1 0a3.55 3.55 0 1 0 -7.1 0M1368.7 697.4a3.55 3.55 0 1 0 7.1 0a3.55 3.55 0 1 0 -7.1 0M1368.7 704.5a3.55 3.55 0 1 0 7.1 0a3.55 3.55 0 1 0 -7.1 0"/>
<path d="M277.2 999.6C299.4 1011.9 371.8 1052.6 410.4 1073.4C449.0 1094.2 475.9 1108.4 508.6 1124.2C541.3 1140.0 574.1 1154.7 606.8 1168.2C639.5 1181.7 679.5 1196.3 705.0 1205.0C730.5 1213.7 740.8 1215.3 760.0 1220.4C779.2 1225.5 803.3 1231.8 820.0 1235.4C836.7 1239.0 840.5 1239.5 860.0 1241.8C879.5 1244.1 910.3 1247.7 937.0 1249.5C963.7 1251.3 996.2 1252.5 1020.0 1252.7C1043.8 1253.0 1063.3 1252.5 1080.0 1251.0C1096.7 1249.5 1112.9 1245.2 1120.0 1244.0C1127.1 1242.8 1121.8 1243.7 1122.5 1243.5C1123.3 1243.4 1123.9 1243.3 1124.5 1243.1C1125.2 1243.0 1125.9 1242.9 1126.5 1242.7C1127.2 1242.6 1127.9 1242.5 1128.5 1242.3C1129.2 1242.2 1129.9 1242.1 1130.5 1241.9C1131.2 1241.8 1131.9 1241.7 1132.5 1241.5C1133.2 1241.4 1133.9 1241.3 1134.5 1241.1C1135.2 1241.0 1135.9 1240.8 1136.5 1240.7C1137.2 1240.6 1137.9 1240.4 1138.5 1240.3C1139.2 1240.2 1139.9 1240.0 1140.5 1239.9C1141.2 1239.8 1141.9 1239.6 1142.5 1239.5C1143.2 1239.4 1143.9 1239.2 1144.5 1239.1C1145.2 1239.0 1145.9 1238.8 1146.5 1238.7C1147.2 1238.6 1147.9 1238.4 1148.5 1238.3C1149.2 1238.2 1149.8 1238.0 1150.5 1237.9C1151.2 1237.8 1151.9 1237.6 1152.6 1237.5C1153.3 1237.3 1154.1 1237.2 1154.8 1237.1C1155.5 1237.0 1156.1 1236.9 1156.8 1236.8C1157.4 1236.7 1158.1 1236.5 1158.8 1236.4C1159.4 1236.3 1160.1 1236.2 1160.8 1236.1C1161.4 1236.0 1162.1 1235.9 1162.8 1235.8C1163.4 1235.6 1164.1 1235.5 1164.8 1235.4C1165.4 1235.3 1166.1 1235.2 1166.8 1235.1C1167.4 1235.0 1168.1 1234.9 1168.8 1234.8C1169.4 1234.6 1170.1 1234.5 1170.8 1234.4C1171.6 1234.3 1172.5 1234.2 1173.2 1234.1C1173.9 1234.0 1174.5 1234.0 1175.2 1233.9C1175.9 1233.8 1176.5 1233.8 1177.2 1233.7C1177.9 1233.6 1178.5 1233.5 1179.2 1233.5C1179.9 1233.4 1180.5 1233.3 1181.2 1233.3C1181.9 1233.2 1182.5 1233.1 1183.2 1233.0C1183.9 1233.0 1184.5 1232.9 1185.2 1232.8C1185.9 1232.8 1186.5 1232.7 1187.2 1232.6C1187.9 1232.6 1188.5 1232.5 1189.2 1232.4C1189.9 1232.3 1190.5 1232.3 1191.2 1232.2C1191.9 1232.1 1192.5 1232.1 1193.2 1232.0C1193.9 1231.9 1194.5 1231.9 1195.2 1231.8C1195.9 1231.7 1196.5 1231.6 1197.2 1231.6C1197.9 1231.5 1198.5 1231.4 1199.2 1231.4C1199.9 1231.3 1200.3 1231.2 1201.2 1231.1C1202.1 1231.1 1203.5 1231.1 1204.4 1231.1C1205.3 1231.1 1205.7 1231.1 1206.4 1231.2C1207.1 1231.2 1207.7 1231.3 1208.4 1231.3C1209.1 1231.3 1209.7 1231.4 1210.4 1231.4C1211.1 1231.4 1211.7 1231.5 1212.4 1231.5C1213.1 1231.5 1213.7 1231.6 1214.4 1231.6C1215.1 1231.7 1215.7 1231.7 1216.4 1231.7C1217.1 1231.8 1217.7 1231.8 1218.4 1231.8C1219.1 1231.9 1219.7 1231.9 1220.4 1232.0C1221.1 1232.0 1221.7 1232.0 1222.4 1232.1C1223.1 1232.1 1223.7 1232.1 1224.4 1232.2C1225.1 1232.2 1225.6 1232.2 1226.4 1232.3C1227.2 1232.3 1228.2 1232.3 1229.2 1232.5C1230.2 1232.7 1231.6 1233.2 1232.5 1233.4C1233.4 1233.7 1233.9 1233.9 1234.5 1234.2C1235.2 1234.4 1235.9 1234.6 1236.5 1234.9C1237.2 1235.1 1237.9 1235.4 1238.5 1235.6C1239.2 1235.8 1239.9 1236.1 1240.5 1236.3C1241.2 1236.6 1241.9 1236.8 1242.5 1237.0C1243.2 1237.3 1243.9 1237.5 1244.5 1237.7C1245.2 1238.0 1245.9 1238.2 1246.5 1238.5C1247.2 1238.7 1247.9 1238.9 1248.5 1239.2C1249.2 1239.4 1249.9 1239.7 1250.5 1239.9C1251.2 1240.1 1252.0 1240.4 1252.5 1240.6C1253.0 1240.8 1253.0 1240.8 1253.5 1240.9C1254.0 1241.0 1254.8 1241.1 1255.5 1241.3C1256.2 1241.4 1256.8 1241.5 1257.5 1241.7C1258.2 1241.8 1258.8 1242.0 1259.5 1242.1C1260.2 1242.2 1260.8 1242.4 1261.5 1242.5C1262.2 1242.6 1262.8 1242.8 1263.5 1242.9C1264.2 1243.0 1265.3 1243.2 1265.5 1243.3C1265.7 1243.4 1264.7 1243.5 1264.6 1243.5C1264.6 1243.5 1264.8 1243.3 1265.2 1243.1C1265.6 1242.9 1266.5 1242.6 1267.2 1242.3C1267.9 1242.0 1268.7 1241.7 1269.2 1241.5C1269.7 1241.3 1269.8 1241.3 1270.3 1241.0C1270.8 1240.7 1271.5 1240.3 1272.2 1239.9C1272.8 1239.5 1273.5 1239.1 1274.2 1238.7C1274.9 1238.3 1275.5 1237.9 1276.2 1237.5C1276.9 1237.1 1277.5 1236.7 1278.2 1236.3C1278.9 1236.0 1279.5 1235.6 1280.2 1235.2C1280.9 1234.8 1281.5 1234.4 1282.2 1234.0C1282.9 1233.6 1283.5 1233.2 1284.2 1232.8C1284.9 1232.4 1285.5 1232.0 1286.2 1231.6C1286.9 1231.2 1287.3 1230.9 1288.2 1230.4C1289.0 1230.0 1290.1 1229.2 1291.3 1228.7C1292.4 1228.3 1294.3 1228.1 1295.3 1228.0C1296.3 1227.8 1296.6 1227.8 1297.3 1227.8C1297.9 1227.7 1298.6 1227.6 1299.3 1227.6C1299.9 1227.5 1300.6 1227.4 1301.3 1227.4C1301.9 1227.3 1302.5 1227.2 1303.3 1227.2C1304.0 1227.1 1304.8 1226.9 1305.8 1227.0C1306.9 1227.0 1308.5 1227.2 1309.5 1227.4C1310.4 1227.5 1310.8 1227.6 1311.5 1227.8C1312.1 1227.9 1312.8 1228.0 1313.5 1228.2C1314.1 1228.3 1314.8 1228.4 1315.5 1228.6C1316.1 1228.7 1316.8 1228.8 1317.5 1229.0C1318.2 1229.1 1318.5 1229.0 1319.7 1229.4C1320.8 1229.8 1323.2 1230.9 1324.3 1231.5C1325.4 1232.1 1325.6 1232.5 1326.3 1232.9C1327.0 1233.4 1327.6 1233.9 1328.3 1234.3C1329.0 1234.8 1329.6 1235.3 1330.3 1235.7C1331.0 1236.2 1331.6 1236.6 1332.3 1237.1C1333.0 1237.6 1333.5 1237.9 1334.3 1238.5C1335.1 1239.1 1336.4 1240.2 1337.2 1240.9C1338.1 1241.7 1338.8 1242.4 1339.3 1243.0C1339.9 1243.6 1340.3 1244.1 1340.5 1244.3C1340.8 1244.5 1340.4 1244.1 1340.8 1244.3C1341.2 1244.4 1342.1 1244.8 1342.8 1245.0C1343.4 1245.3 1344.1 1245.6 1344.8 1245.8C1345.4 1246.1 1346.1 1246.4 1346.8 1246.6C1347.4 1246.9 1348.1 1247.2 1348.8 1247.4C1349.4 1247.7 1350.2 1248.0 1350.8 1248.2C1351.4 1248.5 1351.7 1248.7 1352.2 1248.8C1352.7 1249.0 1353.1 1249.0 1353.6 1249.1C1354.2 1249.2 1355.0 1249.4 1355.6 1249.6C1356.3 1249.7 1357.0 1249.9 1357.6 1250.0C1358.3 1250.2 1359.0 1250.3 1359.6 1250.5C1360.3 1250.6 1361.0 1250.8 1361.6 1250.9C1362.3 1251.0 1363.0 1251.2 1363.6 1251.3C1364.3 1251.5 1365.0 1251.6 1365.6 1251.8C1366.3 1251.9 1367.1 1252.1 1367.6 1252.2C1368.2 1252.4 1368.6 1252.5 1368.8 1252.5L1367.2 1267.5C1366.7 1267.4 1365.2 1267.0 1364.4 1266.9C1363.6 1266.7 1363.0 1266.6 1362.4 1266.4C1361.7 1266.3 1361.0 1266.1 1360.4 1266.0C1359.7 1265.8 1359.0 1265.7 1358.4 1265.5C1357.7 1265.4 1357.0 1265.2 1356.4 1265.1C1355.7 1265.0 1355.0 1264.8 1354.4 1264.7C1353.7 1264.5 1353.0 1264.4 1352.4 1264.2C1351.7 1264.1 1351.1 1263.9 1350.4 1263.8C1349.6 1263.6 1348.6 1263.4 1347.8 1263.2C1346.9 1262.9 1346.0 1262.5 1345.2 1262.2C1344.5 1261.9 1343.9 1261.6 1343.2 1261.4C1342.6 1261.1 1341.9 1260.8 1341.2 1260.6C1340.6 1260.3 1339.9 1260.0 1339.2 1259.8C1338.6 1259.5 1337.9 1259.2 1337.2 1259.0C1336.6 1258.7 1336.2 1258.6 1335.2 1258.2C1334.3 1257.7 1332.6 1257.0 1331.5 1256.3C1330.4 1255.5 1329.5 1254.4 1328.7 1253.6C1327.9 1252.8 1327.3 1252.1 1326.8 1251.7C1326.3 1251.2 1326.2 1251.2 1325.7 1250.8C1325.2 1250.4 1324.4 1249.9 1323.7 1249.4C1323.0 1248.9 1322.4 1248.5 1321.7 1248.0C1321.0 1247.5 1320.4 1247.1 1319.7 1246.6C1319.0 1246.1 1318.4 1245.7 1317.7 1245.2C1317.0 1244.7 1315.9 1244.0 1315.7 1243.8C1315.5 1243.6 1316.5 1244.1 1316.3 1244.0C1316.1 1244.0 1315.2 1243.8 1314.5 1243.7C1313.9 1243.5 1313.2 1243.4 1312.5 1243.3C1311.9 1243.1 1311.2 1243.0 1310.5 1242.9C1309.9 1242.7 1309.2 1242.6 1308.5 1242.5C1307.9 1242.3 1306.9 1242.1 1306.5 1242.1C1306.1 1242.0 1306.5 1241.9 1306.2 1241.9C1305.9 1242.0 1305.3 1242.0 1304.7 1242.1C1304.2 1242.2 1303.4 1242.2 1302.7 1242.3C1302.1 1242.4 1301.4 1242.4 1300.7 1242.5C1300.1 1242.6 1299.4 1242.6 1298.7 1242.7C1298.1 1242.8 1297.1 1242.9 1296.7 1242.9C1296.4 1242.9 1296.9 1242.6 1296.7 1242.7C1296.6 1242.8 1296.3 1243.1 1295.8 1243.4C1295.3 1243.7 1294.5 1244.1 1293.8 1244.5C1293.1 1244.9 1292.5 1245.3 1291.8 1245.7C1291.1 1246.1 1290.5 1246.5 1289.8 1246.9C1289.1 1247.3 1288.5 1247.7 1287.8 1248.1C1287.1 1248.5 1286.5 1248.9 1285.8 1249.3C1285.1 1249.7 1284.5 1250.0 1283.8 1250.4C1283.1 1250.8 1282.5 1251.2 1281.8 1251.6C1281.1 1252.0 1280.5 1252.4 1279.8 1252.8C1279.1 1253.2 1278.6 1253.6 1277.7 1254.0C1276.9 1254.5 1275.6 1255.1 1274.8 1255.4C1274.0 1255.8 1273.5 1256.0 1272.8 1256.2C1272.1 1256.5 1271.7 1256.7 1270.8 1257.0C1269.9 1257.4 1268.8 1258.1 1267.4 1258.2C1266.0 1258.4 1263.7 1258.1 1262.5 1258.0C1261.4 1257.9 1261.2 1257.7 1260.5 1257.6C1259.8 1257.5 1259.2 1257.3 1258.5 1257.2C1257.8 1257.1 1257.2 1256.9 1256.5 1256.8C1255.8 1256.7 1255.2 1256.5 1254.5 1256.4C1253.8 1256.2 1253.2 1256.1 1252.5 1256.0C1251.8 1255.8 1251.3 1255.8 1250.5 1255.6C1249.7 1255.4 1248.4 1255.0 1247.5 1254.8C1246.7 1254.5 1246.1 1254.3 1245.5 1254.0C1244.8 1253.8 1244.1 1253.5 1243.5 1253.3C1242.8 1253.1 1242.1 1252.8 1241.5 1252.6C1240.8 1252.3 1240.1 1252.1 1239.5 1251.9C1238.8 1251.6 1238.1 1251.4 1237.5 1251.2C1236.8 1250.9 1236.1 1250.7 1235.5 1250.4C1234.8 1250.2 1234.1 1250.0 1233.5 1249.7C1232.8 1249.5 1232.1 1249.2 1231.5 1249.0C1230.8 1248.8 1230.1 1248.5 1229.5 1248.3C1228.8 1248.0 1227.9 1247.7 1227.5 1247.6C1227.0 1247.4 1227.1 1247.3 1226.8 1247.3C1226.5 1247.2 1226.1 1247.3 1225.6 1247.3C1225.0 1247.2 1224.3 1247.2 1223.6 1247.2C1222.9 1247.1 1222.3 1247.1 1221.6 1247.0C1220.9 1247.0 1220.3 1247.0 1219.6 1246.9C1218.9 1246.9 1218.3 1246.9 1217.6 1246.8C1216.9 1246.8 1216.3 1246.7 1215.6 1246.7C1214.9 1246.7 1214.3 1246.6 1213.6 1246.6C1212.9 1246.6 1212.3 1246.5 1211.6 1246.5C1210.9 1246.4 1210.3 1246.4 1209.6 1246.4C1208.9 1246.3 1208.3 1246.3 1207.6 1246.3C1206.9 1246.2 1206.3 1246.2 1205.6 1246.2C1204.9 1246.1 1204.1 1246.1 1203.6 1246.0C1203.1 1246.0 1203.3 1246.0 1202.8 1246.1C1202.3 1246.1 1201.5 1246.2 1200.8 1246.3C1200.1 1246.3 1199.5 1246.4 1198.8 1246.5C1198.1 1246.6 1197.5 1246.6 1196.8 1246.7C1196.1 1246.8 1195.5 1246.8 1194.8 1246.9C1194.1 1247.0 1193.5 1247.0 1192.8 1247.1C1192.1 1247.2 1191.5 1247.3 1190.8 1247.3C1190.1 1247.4 1189.5 1247.5 1188.8 1247.5C1188.1 1247.6 1187.5 1247.7 1186.8 1247.8C1186.1 1247.8 1185.5 1247.9 1184.8 1248.0C1184.1 1248.0 1183.5 1248.1 1182.8 1248.2C1182.1 1248.2 1181.5 1248.3 1180.8 1248.4C1180.1 1248.5 1179.5 1248.5 1178.8 1248.6C1178.1 1248.7 1177.5 1248.7 1176.8 1248.8C1176.1 1248.9 1175.4 1249.0 1174.8 1249.0C1174.2 1249.1 1173.8 1249.1 1173.2 1249.2C1172.6 1249.3 1171.9 1249.4 1171.2 1249.5C1170.6 1249.7 1169.9 1249.8 1169.2 1249.9C1168.6 1250.0 1167.9 1250.1 1167.2 1250.2C1166.6 1250.3 1165.9 1250.4 1165.2 1250.6C1164.6 1250.7 1163.9 1250.8 1163.2 1250.9C1162.6 1251.0 1161.9 1251.1 1161.2 1251.2C1160.6 1251.3 1159.9 1251.4 1159.2 1251.6C1158.6 1251.7 1157.9 1251.8 1157.2 1251.9C1156.6 1252.0 1156.0 1252.1 1155.4 1252.2C1154.8 1252.3 1154.1 1252.5 1153.5 1252.6C1152.8 1252.7 1152.1 1252.9 1151.5 1253.0C1150.8 1253.1 1150.1 1253.3 1149.5 1253.4C1148.8 1253.5 1148.1 1253.7 1147.5 1253.8C1146.8 1253.9 1146.1 1254.1 1145.5 1254.2C1144.8 1254.3 1144.1 1254.5 1143.5 1254.6C1142.8 1254.7 1142.1 1254.9 1141.5 1255.0C1140.8 1255.1 1140.1 1255.3 1139.5 1255.4C1138.8 1255.6 1138.1 1255.7 1137.5 1255.8C1136.8 1256.0 1136.1 1256.1 1135.5 1256.2C1134.8 1256.4 1134.1 1256.5 1133.5 1256.6C1132.8 1256.8 1132.1 1256.9 1131.5 1257.0C1130.8 1257.2 1130.1 1257.3 1129.5 1257.4C1128.8 1257.6 1128.1 1257.7 1127.5 1257.8C1126.8 1258.0 1126.7 1257.5 1125.5 1258.2C1124.2 1258.9 1127.6 1260.4 1120.0 1262.0C1112.4 1263.6 1096.7 1265.2 1080.0 1268.0C1063.3 1270.8 1043.8 1276.7 1020.0 1279.0C996.2 1281.3 963.7 1282.2 937.0 1281.9C910.3 1281.6 879.5 1278.3 860.0 1277.0C840.5 1275.7 836.7 1276.1 820.0 1273.8C803.3 1271.5 779.2 1266.8 760.0 1263.3C740.8 1259.8 730.5 1258.2 705.0 1253.0C679.5 1247.8 639.5 1239.4 606.8 1232.4C574.1 1225.4 541.3 1218.8 508.6 1210.8C475.9 1202.8 449.0 1191.9 410.4 1184.3C371.8 1176.7 299.4 1168.6 277.2 1165.4Z" fill="#999999" fill-opacity="0.47"/>
<path d="M277.2 1083.0C288.2 1087.1 320.8 1099.5 343.0 1107.5C365.2 1115.5 382.8 1120.9 410.4 1131.1C438.0 1141.3 475.9 1157.0 508.6 1168.9C541.3 1180.8 574.1 1192.5 606.8 1202.5C639.5 1212.5 679.5 1222.3 705.0 1229.0C730.5 1235.7 744.2 1239.3 760.0 1242.7C775.8 1246.1 783.3 1246.6 800.0 1249.5C816.7 1252.4 837.2 1257.2 860.0 1259.9C882.8 1262.7 916.8 1264.7 937.0 1266.0C957.2 1267.3 967.2 1267.5 981.0 1267.6C994.8 1267.7 1008.5 1267.1 1020.0 1266.5C1031.5 1265.9 1040.0 1265.2 1050.0 1264.0C1060.0 1262.8 1070.9 1260.5 1080.0 1259.0C1089.1 1257.5 1096.5 1256.2 1104.7 1254.7C1112.9 1253.2 1121.2 1251.5 1129.4 1249.8C1137.7 1248.1 1147.0 1246.1 1154.2 1244.8C1161.4 1243.5 1164.6 1242.8 1172.7 1241.7C1180.8 1240.7 1193.7 1238.8 1203.0 1238.5C1212.3 1238.2 1220.3 1238.3 1228.3 1239.9C1236.3 1241.5 1244.7 1246.2 1250.9 1248.0C1257.1 1249.8 1262.0 1251.0 1265.7 1251.0C1269.4 1251.0 1268.5 1250.6 1273.2 1248.0C1278.0 1245.4 1288.7 1237.9 1294.2 1235.6C1299.8 1233.3 1302.4 1234.2 1306.5 1234.4C1310.6 1234.6 1314.8 1235.1 1318.9 1236.9C1323.0 1238.8 1328.3 1243.2 1331.2 1245.5C1334.1 1247.8 1333.1 1248.8 1336.2 1250.5C1339.3 1252.2 1344.7 1254.4 1350.0 1256.0C1355.3 1257.6 1365.0 1259.3 1368.0 1260.0" fill="none" stroke="#F8766D" stroke-width="5" stroke-linejoin="round"/>
<path d="M842.1 1146.3C848.4 1148.0 867.0 1154.2 880.0 1156.5C893.0 1158.8 908.3 1159.0 920.0 1160.4C931.7 1161.9 940.8 1162.4 950.0 1165.2C959.2 1168.0 967.2 1171.5 975.0 1177.0C982.8 1182.5 989.5 1190.8 997.0 1198.0C1004.5 1205.2 1012.8 1212.3 1020.0 1220.0C1027.2 1227.7 1033.3 1237.2 1040.0 1244.0C1046.7 1250.8 1051.7 1256.2 1060.0 1261.0C1068.3 1265.8 1082.3 1270.7 1090.0 1273.0C1097.7 1275.3 1100.5 1275.4 1106.0 1275.0C1111.5 1274.6 1117.3 1272.6 1123.0 1270.8C1128.7 1269.0 1133.8 1268.0 1140.0 1264.0C1146.2 1260.0 1154.7 1253.0 1160.0 1247.0C1165.3 1241.0 1167.0 1235.0 1172.0 1228.0C1177.0 1221.0 1184.8 1210.8 1190.0 1205.0C1195.2 1199.2 1198.0 1197.2 1203.0 1193.0C1208.0 1188.8 1213.2 1183.5 1220.0 1180.0C1226.8 1176.5 1236.5 1172.5 1244.0 1172.0C1251.5 1171.5 1258.2 1174.0 1265.0 1177.0C1271.8 1180.0 1279.8 1187.2 1285.0 1190.0C1290.2 1192.8 1290.8 1195.3 1296.0 1194.0C1301.2 1192.7 1310.3 1187.7 1316.0 1182.0C1321.7 1176.3 1326.5 1166.5 1330.0 1160.0C1333.5 1153.5 1335.8 1145.8 1337.0 1143.0L1337.0 1335.0C1335.7 1335.1 1331.8 1338.2 1329.0 1335.7C1326.2 1333.2 1323.8 1324.3 1320.0 1320.0C1316.2 1315.7 1312.0 1311.2 1306.0 1310.0C1300.0 1308.8 1290.0 1309.7 1284.0 1313.0C1278.0 1316.3 1275.2 1322.5 1270.0 1330.0C1264.8 1337.5 1257.9 1351.0 1253.0 1358.0C1248.1 1365.0 1246.9 1367.8 1240.7 1372.2C1234.5 1376.6 1224.3 1382.2 1216.0 1384.5C1207.7 1386.8 1201.3 1386.1 1191.0 1385.7C1180.7 1385.3 1166.3 1383.6 1154.0 1382.0C1141.7 1380.4 1125.6 1377.7 1117.0 1376.0C1108.4 1374.3 1107.1 1373.6 1102.6 1372.0C1098.1 1370.4 1093.9 1368.6 1090.0 1366.4C1086.1 1364.2 1082.7 1362.2 1079.0 1358.7C1075.3 1355.2 1071.7 1350.1 1068.0 1345.5C1064.3 1340.9 1060.7 1336.0 1057.0 1331.2C1053.3 1326.5 1049.7 1321.8 1046.0 1317.0C1042.3 1312.2 1040.4 1307.8 1035.0 1302.6C1029.6 1297.4 1021.0 1290.7 1013.8 1285.7C1006.6 1280.7 999.2 1276.3 991.9 1272.5C984.6 1268.7 977.3 1265.5 970.0 1262.6C962.7 1259.7 955.3 1257.0 948.0 1255.0C940.7 1253.0 933.7 1251.8 926.0 1250.5C918.3 1249.2 909.5 1246.7 901.8 1247.3C894.1 1247.9 887.0 1251.1 880.0 1254.0C873.0 1256.9 866.3 1261.2 860.0 1264.8C853.7 1268.4 845.1 1274.0 842.1 1275.8Z" fill="#999999" fill-opacity="0.47"/>
<path d="M842.1 1214.2C845.1 1213.5 851.5 1211.7 860.0 1209.9C868.5 1208.1 883.8 1204.2 893.0 1203.3C902.2 1202.4 905.8 1202.6 915.0 1204.4C924.2 1206.2 937.0 1210.1 948.0 1214.3C959.0 1218.5 971.8 1224.8 980.9 1229.7C990.0 1234.7 997.5 1240.6 1002.9 1244.0C1008.2 1247.4 1009.5 1247.5 1013.0 1250.0C1016.5 1252.5 1020.3 1255.0 1024.0 1258.7C1027.7 1262.4 1031.3 1267.3 1035.0 1271.9C1038.7 1276.5 1042.3 1281.8 1046.0 1286.2C1049.7 1290.6 1053.3 1294.6 1057.0 1298.2C1060.7 1301.8 1064.3 1305.2 1068.0 1308.1C1071.7 1311.0 1075.3 1313.6 1079.0 1315.8C1082.7 1318.0 1086.3 1319.9 1090.0 1321.3C1093.7 1322.7 1097.2 1323.3 1100.9 1324.0C1104.6 1324.7 1108.1 1325.0 1111.9 1325.2C1115.8 1325.4 1119.8 1325.5 1124.0 1325.3C1128.2 1325.1 1132.7 1325.2 1137.0 1324.3C1141.3 1323.4 1145.2 1322.2 1150.0 1320.0C1154.8 1317.8 1161.0 1314.2 1166.0 1311.3C1171.0 1308.3 1175.8 1304.9 1180.0 1302.3C1184.2 1299.7 1187.3 1297.8 1191.2 1295.5C1195.1 1293.2 1199.5 1290.8 1203.6 1288.6C1207.7 1286.4 1211.9 1284.7 1216.0 1282.5C1220.1 1280.3 1224.2 1278.0 1228.3 1275.7C1232.4 1273.4 1236.6 1270.8 1240.7 1268.9C1244.8 1267.0 1249.2 1265.7 1253.0 1264.5C1256.8 1263.3 1256.4 1263.5 1263.3 1261.6C1270.2 1259.7 1285.3 1255.4 1294.2 1252.9C1303.1 1250.4 1309.4 1248.5 1316.4 1246.7C1323.4 1245.0 1332.9 1243.1 1336.2 1242.4" fill="none" stroke="#00BA38" stroke-width="5" stroke-linejoin="round"/>
<path d="M768.0 1428.5C775.0 1427.6 791.5 1425.9 810.1 1423.0C828.7 1420.1 859.8 1414.6 879.8 1411.0C899.8 1407.4 913.5 1404.7 930.3 1401.3C947.1 1397.9 963.3 1393.8 980.8 1390.5C998.2 1387.2 1016.8 1384.3 1035.0 1381.8C1053.2 1379.2 1072.5 1376.5 1090.0 1375.2C1107.5 1373.9 1126.7 1373.5 1140.0 1374.0C1153.3 1374.5 1160.0 1376.0 1170.0 1378.0C1180.0 1380.0 1188.3 1383.4 1200.0 1386.2C1211.7 1389.0 1226.7 1391.7 1240.0 1395.0C1253.3 1398.3 1266.7 1403.0 1280.0 1406.0C1293.3 1409.0 1305.8 1411.5 1320.0 1413.0C1334.2 1414.5 1357.5 1414.4 1365.0 1414.7L1365.0 1467.5C1357.5 1466.0 1334.2 1462.0 1320.0 1458.7C1305.8 1455.4 1293.3 1452.1 1280.0 1447.7C1266.7 1443.3 1253.3 1436.9 1240.0 1432.3C1226.7 1427.7 1213.3 1423.5 1200.0 1420.2C1186.7 1416.9 1176.7 1414.5 1160.0 1412.5C1143.3 1410.5 1113.3 1409.2 1100.0 1408.5C1086.7 1407.8 1090.2 1407.3 1080.0 1408.1C1069.8 1408.9 1055.0 1410.8 1038.5 1413.3C1022.0 1415.8 998.8 1419.0 980.8 1423.0C962.8 1427.0 947.1 1432.0 930.3 1437.4C913.5 1442.8 899.8 1447.2 879.8 1455.4C859.8 1463.6 828.7 1478.2 810.1 1486.6C791.5 1495.0 775.0 1502.7 768.0 1505.9Z" fill="#999999" fill-opacity="0.47"/>
<path d="M768.0 1466.2C775.0 1463.4 791.5 1455.6 810.1 1449.4C828.7 1443.2 859.8 1434.6 879.8 1429.0C899.8 1423.4 913.5 1419.7 930.3 1415.7C947.1 1411.7 962.8 1408.2 980.8 1404.9C998.8 1401.6 1021.6 1398.2 1038.0 1396.0C1054.4 1393.8 1068.7 1392.4 1079.0 1391.5C1089.3 1390.6 1091.5 1390.6 1100.0 1390.5C1108.5 1390.4 1120.0 1390.2 1130.0 1391.0C1140.0 1391.8 1148.3 1393.2 1160.0 1395.0C1171.7 1396.8 1186.7 1399.0 1200.0 1401.5C1213.3 1404.0 1226.7 1407.0 1240.0 1410.3C1253.3 1413.6 1266.7 1417.8 1280.0 1421.3C1293.3 1424.8 1305.8 1427.9 1320.0 1431.2C1334.2 1434.5 1357.5 1439.4 1365.0 1441.1" fill="none" stroke="#619CFF" stroke-width="5" stroke-linejoin="round"/>
<path fill="#F8766D" d="M273.6 1059.3a3.55 3.55 0 1 0 7.1 0a3.55 3.55 0 1 0 -7.1 0M273.6 1099.9a3.55 3.55 0 1 0 7.1 0a3.55 3.55 0 1 0 -7.1 0M302.8 1127.0a3.55 3.55 0 1 0 7.1 0a3.55 3.55 0 1 0 -7.1 0M634.9 1226.3a3.55 3.55 0 1 0 7.1 0a3.55 3.55 0 1 0 -7.1 0M764.0 1099.9a3.55 3.55 0 1 0 7.1 0a3.55 3.55 0 1 0 -7.1 0M764.0 1167.6a3.55 3.55 0 1 0 7.1 0a3.55 3.55 0 1 0 -7.1 0M806.1 1122.5a3.55 3.55 0 1 0 7.1 0a3.55 3.55 0 1 0 -7.1 0M806.1 1145.0a3.55 3.55 0 1 0 7.1 0a3.55 3.55 0 1 0 -7.1 0M806.1 1167.6a3.55 3.55 0 1 0 7.1 0a3.55 3.55 0 1 0 -7.1 0M838.7 1190.2a3.55 3.55 0 1 0 7.1 0a3.55 3.55 0 1 0 -7.1 0M876.6 1127.0a3.55 3.55 0 1 0 7.1 0a3.55 3.55 0 1 0 -7.1 0M878.5 1127.0a3.55 3.55 0 1 0 7.1 0a3.55 3.55 0 1 0 -7.1 0M876.1 1181.1a3.55 3.55 0 1 0 7.1 0a3.55 3.55 0 1 0 -7.1 0M876.1 1221.8a3.55 3.55 0 1 0 7.1 0a3.55 3.55 0 1 0 -7.1 0M876.1 1248.8a3.55 3.55 0 1 0 7.1 0a3.55 3.55 0 1 0 -7.1 0M866.2 1235.3a3.55 3.55 0 1 0 7.1 0a3.55 3.55 0 1 0 -7.1 0M894.0 1239.8a3.55 3.55 0 1 0 7.1 0a3.55 3.55 0 1 0 -7.1 0M901.9 1212.7a3.55 3.55 0 1 0 7.1 0a3.55 3.55 0 1 0 -7.1 0M901.9 1217.2a3.55 3.55 0 1 0 7.1 0a3.55 3.55 0 1 0 -7.1 0M901.9 1226.3a3.55 3.55 0 1 0 7.1 0a3.55 3.55 0 1 0 -7.1 0M909.6 1221.8a3.55 3.55 0 1 0 7.1 0a3.55 3.55 0 1 0 -7.1 0M909.6 1167.6a3.55 3.55 0 1 0 7.1 0a3.55 3.55 0 1 0 -7.1 0M899.1 1230.8a3.55 3.55 0 1 0 7.1 0a3.55 3.55 0 1 0 -7.1 0M907.7 1230.8a3.55 3.55 0 1 0 7.1 0a3.55 3.55 0 1 0 -7.1 0M912.2 1230.8a3.55 3.55 0 1 0 7.1 0a3.55 3.55 0 1 0 -7.1 0M916.9 1230.8a3.55 3.55 0 1 0 7.1 0a3.55 3.55 0 1 0 -7.1 0M916.9 1140.5a3.55 3.55 0 1 0 7.1 0a3.55 3.55 0 1 0 -7.1 0M916.9 1158.6a3.55 3.55 0 1 0 7.1 0a3.55 3.55 0 1 0 -7.1 0M936.1 1208.2a3.55 3.55 0 1 0 7.1 0a3.55 3.55 0 1 0 -7.1 0M970.6 1185.7a3.55 3.55 0 1 0 7.1 0a3.55 3.55 0 1 0 -7.1 0M978.2 1158.6a3.55 3.55 0 1 0 7.1 0a3.55 3.55 0 1 0 -7.1 0M977.9 1199.2a3.55 3.55 0 1 0 7.1 0a3.55 3.55 0 1 0 -7.1 0M991.1 1239.8a3.55 3.55 0 1 0 7.1 0a3.55 3.55 0 1 0 -7.1 0M781.1 1253.4a3.55 3.55 0 1 0 7.1 0a3.55 3.55 0 1 0 -7.1 0M781.1 1294.0a3.55 3.55 0 1 0 7.1 0a3.55 3.55 0 1 0 -7.1 0M836.2 1325.6a3.55 3.55 0 1 0 7.1 0a3.55 3.55 0 1 0 -7.1 0M889.0 1253.4a3.55 3.55 0 1 0 7.1 0a3.55 3.55 0 1 0 -7.1 0M909.4 1253.4a3.55 3.55 0 1 0 7.1 0a3.55 3.55 0 1 0 -7.1 0M876.1 1266.9a3.55 3.55 0 1 0 7.1 0a3.55 3.55 0 1 0 -7.1 0M876.1 1284.9a3.55 3.55 0 1 0 7.1 0a3.55 3.55 0 1 0 -7.1 0M886.7 1284.9a3.55 3.55 0 1 0 7.1 0a3.55 3.55 0 1 0 -7.1 0M907.2 1289.5a3.55 3.55 0 1 0 7.1 0a3.55 3.55 0 1 0 -7.1 0M917.2 1275.9a3.55 3.55 0 1 0 7.1 0a3.55 3.55 0 1 0 -7.1 0M917.2 1284.9a3.55 3.55 0 1 0 7.1 0a3.55 3.55 0 1 0 -7.1 0M978.2 1262.4a3.55 3.55 0 1 0 7.1 0a3.55 3.55 0 1 0 -7.1 0M978.2 1294.0a3.55 3.55 0 1 0 7.1 0a3.55 3.55 0 1 0 -7.1 0M991.8 1284.9a3.55 3.55 0 1 0 7.1 0a3.55 3.55 0 1 0 -7.1 0M991.8 1361.7a3.55 3.55 0 1 0 7.1 0a3.55 3.55 0 1 0 -7.1 0M1052.2 1108.9a3.55 3.55 0 1 0 7.1 0a3.55 3.55 0 1 0 -7.1 0M1099.7 1086.4a3.55 3.55 0 1 0 7.1 0a3.55 3.55 0 1 0 -7.1 0M1099.7 1099.9a3.55 3.55 0 1 0 7.1 0a3.55 3.55 0 1 0 -7.1 0M1099.7 1108.9a3.55 3.55 0 1 0 7.1 0a3.55 3.55 0 1 0 -7.1 0M1099.7 1117.9a3.55 3.55 0 1 0 7.1 0a3.55 3.55 0 1 0 -7.1 0M1095.0 1131.5a3.55 3.55 0 1 0 7.1 0a3.55 3.55 0 1 0 -7.1 0M1008.8 1145.0a3.55 3.55 0 1 0 7.1 0a3.55 3.55 0 1 0 -7.1 0M1008.8 1149.5a3.55 3.55 0 1 0 7.1 0a3.55 3.55 0 1 0 -7.1 0M1008.8 1208.2a3.55 3.55 0 1 0 7.1 0a3.55 3.55 0 1 0 -7.1 0M1082.2 1158.6a3.55 3.55 0 1 0 7.1 0a3.55 3.55 0 1 0 -7.1 0M1082.2 1176.6a3.55 3.55 0 1 0 7.1 0a3.55 3.55 0 1 0 -7.1 0M1082.2 1217.2a3.55 3.55 0 1 0 7.1 0a3.55 3.55 0 1 0 -7.1 0M1082.2 1235.3a3.55 3.55 0 1 0 7.1 0a3.55 3.55 0 1 0 -7.1 0M1098.4 1154.1a3.55 3.55 0 1 0 7.1 0a3.55 3.55 0 1 0 -7.1 0M1098.4 1172.1a3.55 3.55 0 1 0 7.1 0a3.55 3.55 0 1 0 -7.1 0M1101.2 1172.1a3.55 3.55 0 1 0 7.1 0a3.55 3.55 0 1 0 -7.1 0M1101.2 1221.8a3.55 3.55 0 1 0 7.1 0a3.55 3.55 0 1 0 -7.1 0M1101.2 1248.8a3.55 3.55 0 1 0 7.1 0a3.55 3.55 0 1 0 -7.1 0M1090.2 1185.7a3.55 3.55 0 1 0 7.1 0a3.55 3.55 0 1 0 -7.1 0M1005.0 1217.2a3.55 3.55 0 1 0 7.1 0a3.55 3.55 0 1 0 -7.1 0M1105.0 1212.7a3.55 3.55 0 1 0 7.1 0a3.55 3.55 0 1 0 -7.1 0M1093.7 1199.2a3.55 3.55 0 1 0 7.1 0a3.55 3.55 0 1 0 -7.1 0M1093.7 1203.7a3.55 3.55 0 1 0 7.1 0a3.55 3.55 0 1 0 -7.1 0M1093.7 1208.2a3.55 3.55 0 1 0 7.1 0a3.55 3.55 0 1 0 -7.1 0M1093.7 1212.7a3.55 3.55 0 1 0 7.1 0a3.55 3.55 0 1 0 -7.1 0M1093.7 1217.2a3.55 3.55 0 1 0 7.1 0a3.55 3.55 0 1 0 -7.1 0M1093.7 1221.8a3.55 3.55 0 1 0 7.1 0a3.55 3.55 0 1 0 -7.1 0M1093.7 1226.3a3.55 3.55 0 1 0 7.1 0a3.55 3.55 0 1 0 -7.1 0M1093.7 1230.8a3.55 3.55 0 1 0 7.1 0a3.55 3.55 0 1 0 -7.1 0M1093.7 1235.3a3.55 3.55 0 1 0 7.1 0a3.55 3.55 0 1 0 -7.1 0M1093.7 1239.8a3.55 3.55 0 1 0 7.1 0a3.55 3.55 0 1 0 -7.1 0M1093.7 1244.3a3.55 3.55 0 1 0 7.1 0a3.55 3.55 0 1 0 -7.1 0M1093.7 1248.8a3.55 3.55 0 1 0 7.1 0a3.55 3.55 0 1 0 -7.1 0M1093.7 1253.4a3.55 3.55 0 1 0 7.1 0a3.55 3.55 0 1 0 -7.1 0M1093.7 1257.9a3.55 3.55 0 1 0 7.1 0a3.55 3.55 0 1 0 -7.1 0M1093.7 1262.4a3.55 3.55 0 1 0 7.1 0a3.55 3.55 0 1 0 -7.1 0M1093.7 1266.9a3.55 3.55 0 1 0 7.1 0a3.55 3.55 0 1 0 -7.1 0M1093.7 1271.4a3.55 3.55 0 1 0 7.1 0a3.55 3.55 0 1 0 -7.1 0M1093.7 1275.9a3.55 3.55 0 1 0 7.1 0a3.55 3.55 0 1 0 -7.1 0M1093.7 1280.4a3.55 3.55 0 1 0 7.1 0a3.55 3.55 0 1 0 -7.1 0M1093.7 1284.9a3.55 3.55 0 1 0 7.1 0a3.55 3.55 0 1 0 -7.1 0M1093.7 1289.5a3.55 3.55 0 1 0 7.1 0a3.55 3.55 0 1 0 -7.1 0M1093.7 1294.0a3.55 3.55 0 1 0 7.1 0a3.55 3.55 0 1 0 -7.1 0M1093.7 1298.5a3.55 3.55 0 1 0 7.1 0a3.55 3.55 0 1 0 -7.1 0M1093.7 1303.0a3.55 3.55 0 1 0 7.1 0a3.55 3.55 0 1 0 -7.1 0M1093.7 1307.5a3.55 3.55 0 1 0 7.1 0a3.55 3.55 0 1 0 -7.1 0M1093.7 1312.0a3.55 3.55 0 1 0 7.1 0a3.55 3.55 0 1 0 -7.1 0M1093.7 1316.5a3.55 3.55 0 1 0 7.1 0a3.55 3.55 0 1 0 -7.1 0M1093.7 1321.1a3.55 3.55 0 1 0 7.1 0a3.55 3.55 0 1 0 -7.1 0M1093.7 1325.6a3.55 3.55 0 1 0 7.1 0a3.55 3.55 0 1 0 -7.1 0M1093.7 1330.1a3.55 3.55 0 1 0 7.1 0a3.55 3.55 0 1 0 -7.1 0M1093.7 1334.6a3.55 3.55 0 1 0 7.1 0a3.55 3.55 0 1 0 -7.1 0M1093.7 1339.1a3.55 3.55 0 1 0 7.1 0a3.55 3.55 0 1 0 -7.1 0M1093.7 1343.6a3.55 3.55 0 1 0 7.1 0a3.55 3.55 0 1 0 -7.1 0M1093.7 1348.1a3.55 3.55 0 1 0 7.1 0a3.55 3.55 0 1 0 -7.1 0M1093.7 1352.7a3.55 3.55 0 1 0 7.1 0a3.55 3.55 0 1 0 -7.1 0M1093.7 1357.2a3.55 3.55 0 1 0 7.1 0a3.55 3.55 0 1 0 -7.1 0M1093.7 1361.7a3.55 3.55 0 1 0 7.1 0a3.55 3.55 0 1 0 -7.1 0M1093.7 1366.2a3.55 3.55 0 1 0 7.1 0a3.55 3.55 0 1 0 -7.1 0M1093.7 1370.7a3.55 3.55 0 1 0 7.1 0a3.55 3.55 0 1 0 -7.1 0M1093.7 1375.2a3.55 3.55 0 1 0 7.1 0a3.55 3.55 0 1 0 -7.1 0M1093.7 1379.7a3.55 3.55 0 1 0 7.1 0a3.55 3.55 0 1 0 -7.1 0M1093.7 1402.3a3.55 3.55 0 1 0 7.1 0a3.55 3.55 0 1 0 -7.1 0M1093.7 1429.4a3.55 3.55 0 1 0 7.1 0a3.55 3.55 0 1 0 -7.1 0M1091.0 1208.2a3.55 3.55 0 1 0 7.1 0a3.55 3.55 0 1 0 -7.1 0M1091.0 1212.7a3.55 3.55 0 1 0 7.1 0a3.55 3.55 0 1 0 -7.1 0M1091.0 1217.2a3.55 3.55 0 1 0 7.1 0a3.55 3.55 0 1 0 -7.1 0M1091.0 1221.8a3.55 3.55 0 1 0 7.1 0a3.55 3.55 0 1 0 -7.1 0M1091.0 1226.3a3.55 3.55 0 1 0 7.1 0a3.55 3.55 0 1 0 -7.1 0M1091.0 1230.8a3.55 3.55 0 1 0 7.1 0a3.55 3.55 0 1 0 -7.1 0M1091.0 1235.3a3.55 3.55 0 1 0 7.1 0a3.55 3.55 0 1 0 -7.1 0M1091.0 1239.8a3.55 3.55 0 1 0 7.1 0a3.55 3.55 0 1 0 -7.1 0M1091.0 1244.3a3.55 3.55 0 1 0 7.1 0a3.55 3.55 0 1 0 -7.1 0M1091.0 1248.8a3.55 3.55 0 1 0 7.1 0a3.55 3.55 0 1 0 -7.1 0M1091.0 1253.4a3.55 3.55 0 1 0 7.1 0a3.55 3.55 0 1 0 -7.1 0M1091.0 1257.9a3.55 3.55 0 1 0 7.1 0a3.55 3.55 0 1 0 -7.1 0M1091.0 1262.4a3.55 3.55 0 1 0 7.1 0a3.55 3.55 0 1 0 -7.1 0M1091.0 1266.9a3.55 3.55 0 1 0 7.1 0a3.55 3.55 0 1 0 -7.1 0M1091.0 1271.4a3.55 3.55 0 1 0 7.1 0a3.55 3.55 0 1 0 -7.1 0M1091.0 1275.9a3.55 3.55 0 1 0 7.1 0a3.55 3.55 0 1 0 -7.1 0M1091.0 1280.4a3.55 3.55 0 1 0 7.1 0a3.55 3.55 0 1 0 -7.1 0M1091.0 1312.0a3.55 3.55 0 1 0 7.1 0a3.55 3.55 0 1 0 -7.1 0M1091.0 1316.5a3.55 3.55 0 1 0 7.1 0a3.55 3.55 0 1 0 -7.1 0M1091.0 1321.1a3.55 3.55 0 1 0 7.1 0a3.55 3.55 0 1 0 -7.1 0M1091.0 1325.6a3.55 3.55 0 1 0 7.1 0a3.55 3.55 0 1 0 -7.1 0M1091.0 1330.1a3.55 3.55 0 1 0 7.1 0a3.55 3.55 0 1 0 -7.1 0M1091.0 1334.6a3.55 3.55 0 1 0 7.1 0a3.55 3.55 0 1 0 -7.1 0M1091.0 1339.1a3.55 3.55 0 1 0 7.1 0a3.55 3.55 0 1 0 -7.1 0M1091.0 1343.6a3.55 3.55 0 1 0 7.1 0a3.55 3.55 0 1 0 -7.1 0M1074.4 1253.4a3.55 3.55 0 1 0 7.1 0a3.55 3.55 0 1 0 -7.1 0M1074.4 1262.4a3.55 3.55 0 1 0 7.1 0a3.55 3.55 0 1 0 -7.1 0M1074.4 1266.9a3.55 3.55 0 1 0 7.1 0a3.55 3.55 0 1 0 -7.1 0M1074.4 1271.4a3.55 3.55 0 1 0 7.1 0a3.55 3.55 0 1 0 -7.1 0M1074.4 1275.9a3.55 3.55 0 1 0 7.1 0a3.55 3.55 0 1 0 -7.1 0M1082.0 1253.4a3.55 3.55 0 1 0 7.1 0a3.55 3.55 0 1 0 -7.1 0M1082.0 1266.9a3.55 3.55 0 1 0 7.1 0a3.55 3.55 0 1 0 -7.1 0M1053.0 1257.9a3.55 3.55 0 1 0 7.1 0a3.55 3.55 0 1 0 -7.1 0M1053.0 1271.4a3.55 3.55 0 1 0 7.1 0a3.55 3.55 0 1 0 -7.1 0M1040.8 1275.9a3.55 3.55 0 1 0 7.1 0a3.55 3.55 0 1 0 -7.1 0M1040.2 1294.0a3.55 3.55 0 1 0 7.1 0a3.55 3.55 0 1 0 -7.1 0M1078.5 1307.5a3.55 3.55 0 1 0 7.1 0a3.55 3.55 0 1 0 -7.1 0M1085.2 1325.6a3.55 3.55 0 1 0 7.1 0a3.55 3.55 0 1 0 -7.1 0M1024.4 1352.7a3.55 3.55 0 1 0 7.1 0a3.55 3.55 0 1 0 -7.1 0M1005.0 1366.2a3.55 3.55 0 1 0 7.1 0a3.55 3.55 0 1 0 -7.1 0M1000.2 1321.1a3.55 3.55 0 1 0 7.1 0a3.55 3.55 0 1 0 -7.1 0M1111.0 1050.2a3.55 3.55 0 1 0 7.1 0a3.55 3.55 0 1 0 -7.1 0M1111.0 1063.8a3.55 3.55 0 1 0 7.1 0a3.55 3.55 0 1 0 -7.1 0M1111.0 1077.3a3.55 3.55 0 1 0 7.1 0a3.55 3.55 0 1 0 -7.1 0M1111.0 1090.9a3.55 3.55 0 1 0 7.1 0a3.55 3.55 0 1 0 -7.1 0M1111.0 1099.9a3.55 3.55 0 1 0 7.1 0a3.55 3.55 0 1 0 -7.1 0M1111.0 1104.4a3.55 3.55 0 1 0 7.1 0a3.55 3.55 0 1 0 -7.1 0M1111.0 1117.9a3.55 3.55 0 1 0 7.1 0a3.55 3.55 0 1 0 -7.1 0M1111.0 1122.5a3.55 3.55 0 1 0 7.1 0a3.55 3.55 0 1 0 -7.1 0M1111.0 1149.5a3.55 3.55 0 1 0 7.1 0a3.55 3.55 0 1 0 -7.1 0M1111.0 1199.2a3.55 3.55 0 1 0 7.1 0a3.55 3.55 0 1 0 -7.1 0M1099.9 1086.4a3.55 3.55 0 1 0 7.1 0a3.55 3.55 0 1 0 -7.1 0M1099.9 1099.9a3.55 3.55 0 1 0 7.1 0a3.55 3.55 0 1 0 -7.1 0M1099.9 1108.9a3.55 3.55 0 1 0 7.1 0a3.55 3.55 0 1 0 -7.1 0M1099.9 1117.9a3.55 3.55 0 1 0 7.1 0a3.55 3.55 0 1 0 -7.1 0M1099.9 1131.5a3.55 3.55 0 1 0 7.1 0a3.55 3.55 0 1 0 -7.1 0M1099.9 1154.1a3.55 3.55 0 1 0 7.1 0a3.55 3.55 0 1 0 -7.1 0M1099.9 1172.1a3.55 3.55 0 1 0 7.1 0a3.55 3.55 0 1 0 -7.1 0M1102.0 1172.1a3.55 3.55 0 1 0 7.1 0a3.55 3.55 0 1 0 -7.1 0M1118.0 1140.5a3.55 3.55 0 1 0 7.1 0a3.55 3.55 0 1 0 -7.1 0M1105.9 1212.7a3.55 3.55 0 1 0 7.1 0a3.55 3.55 0 1 0 -7.1 0M1100.8 1221.8a3.55 3.55 0 1 0 7.1 0a3.55 3.55 0 1 0 -7.1 0M1112.8 1226.3a3.55 3.55 0 1 0 7.1 0a3.55 3.55 0 1 0 -7.1 0M1132.5 1217.2a3.55 3.55 0 1 0 7.1 0a3.55 3.55 0 1 0 -7.1 0M1132.5 1221.8a3.55 3.55 0 1 0 7.1 0a3.55 3.55 0 1 0 -7.1 0M1132.5 1226.3a3.55 3.55 0 1 0 7.1 0a3.55 3.55 0 1 0 -7.1 0M1132.5 1235.3a3.55 3.55 0 1 0 7.1 0a3.55 3.55 0 1 0 -7.1 0M1159.0 1199.2a3.55 3.55 0 1 0 7.1 0a3.55 3.55 0 1 0 -7.1 0M1159.0 1212.7a3.55 3.55 0 1 0 7.1 0a3.55 3.55 0 1 0 -7.1 0M1159.0 1230.8a3.55 3.55 0 1 0 7.1 0a3.55 3.55 0 1 0 -7.1 0M1159.0 1239.8a3.55 3.55 0 1 0 7.1 0a3.55 3.55 0 1 0 -7.1 0M1159.0 1244.3a3.55 3.55 0 1 0 7.1 0a3.55 3.55 0 1 0 -7.1 0M1180.5 1145.0a3.55 3.55 0 1 0 7.1 0a3.55 3.55 0 1 0 -7.1 0M1173.7 1158.6a3.55 3.55 0 1 0 7.1 0a3.55 3.55 0 1 0 -7.1 0M1173.7 1163.1a3.55 3.55 0 1 0 7.1 0a3.55 3.55 0 1 0 -7.1 0M1184.9 1158.6a3.55 3.55 0 1 0 7.1 0a3.55 3.55 0 1 0 -7.1 0M1184.9 1185.7a3.55 3.55 0 1 0 7.1 0a3.55 3.55 0 1 0 -7.1 0M1184.9 1212.7a3.55 3.55 0 1 0 7.1 0a3.55 3.55 0 1 0 -7.1 0M1184.9 1221.8a3.55 3.55 0 1 0 7.1 0a3.55 3.55 0 1 0 -7.1 0M1184.9 1226.3a3.55 3.55 0 1 0 7.1 0a3.55 3.55 0 1 0 -7.1 0M1192.5 1158.6a3.55 3.55 0 1 0 7.1 0a3.55 3.55 0 1 0 -7.1 0M1196.0 1172.1a3.55 3.55 0 1 0 7.1 0a3.55 3.55 0 1 0 -7.1 0M1179.7 1217.2a3.55 3.55 0 1 0 7.1 0a3.55 3.55 0 1 0 -7.1 0M1153.0 1239.8a3.55 3.55 0 1 0 7.1 0a3.55 3.55 0 1 0 -7.1 0M1172.9 1235.3a3.55 3.55 0 1 0 7.1 0a3.55 3.55 0 1 0 -7.1 0M1172.9 1244.3a3.55 3.55 0 1 0 7.1 0a3.55 3.55 0 1 0 -7.1 0M1195.2 1230.8a3.55 3.55 0 1 0 7.1 0a3.55 3.55 0 1 0 -7.1 0M1195.2 1248.8a3.55 3.55 0 1 0 7.1 0a3.55 3.55 0 1 0 -7.1 0M1101.5 1244.3a3.55 3.55 0 1 0 7.1 0a3.55 3.55 0 1 0 -7.1 0M1101.5 1253.4a3.55 3.55 0 1 0 7.1 0a3.55 3.55 0 1 0 -7.1 0M1101.5 1271.4a3.55 3.55 0 1 0 7.1 0a3.55 3.55 0 1 0 -7.1 0M1101.5 1275.9a3.55 3.55 0 1 0 7.1 0a3.55 3.55 0 1 0 -7.1 0M1101.5 1312.0a3.55 3.55 0 1 0 7.1 0a3.55 3.55 0 1 0 -7.1 0M1101.5 1321.1a3.55 3.55 0 1 0 7.1 0a3.55 3.55 0 1 0 -7.1 0M1101.5 1330.1a3.55 3.55 0 1 0 7.1 0a3.55 3.55 0 1 0 -7.1 0M1101.5 1339.1a3.55 3.55 0 1 0 7.1 0a3.55 3.55 0 1 0 -7.1 0M1124.5 1262.4a3.55 3.55 0 1 0 7.1 0a3.55 3.55 0 1 0 -7.1 0M1124.5 1266.9a3.55 3.55 0 1 0 7.1 0a3.55 3.55 0 1 0 -7.1 0M1124.5 1271.4a3.55 3.55 0 1 0 7.1 0a3.55 3.55 0 1 0 -7.1 0M1124.5 1275.9a3.55 3.55 0 1 0 7.1 0a3.55 3.55 0 1 0 -7.1 0M1124.5 1280.4a3.55 3.55 0 1 0 7.1 0a3.55 3.55 0 1 0 -7.1 0M1124.5 1294.0a3.55 3.55 0 1 0 7.1 0a3.55 3.55 0 1 0 -7.1 0M1124.5 1298.5a3.55 3.55 0 1 0 7.1 0a3.55 3.55 0 1 0 -7.1 0M1124.5 1303.0a3.55 3.55 0 1 0 7.1 0a3.55 3.55 0 1 0 -7.1 0M1124.5 1307.5a3.55 3.55 0 1 0 7.1 0a3.55 3.55 0 1 0 -7.1 0M1124.5 1321.1a3.55 3.55 0 1 0 7.1 0a3.55 3.55 0 1 0 -7.1 0M1130.5 1253.4a3.55 3.55 0 1 0 7.1 0a3.55 3.55 0 1 0 -7.1 0M1130.5 1257.9a3.55 3.55 0 1 0 7.1 0a3.55 3.55 0 1 0 -7.1 0M1130.5 1262.4a3.55 3.55 0 1 0 7.1 0a3.55 3.55 0 1 0 -7.1 0M1130.5 1266.9a3.55 3.55 0 1 0 7.1 0a3.55 3.55 0 1 0 -7.1 0M1130.5 1298.5a3.55 3.55 0 1 0 7.1 0a3.55 3.55 0 1 0 -7.1 0M1130.5 1303.0a3.55 3.55 0 1 0 7.1 0a3.55 3.55 0 1 0 -7.1 0M1130.5 1307.5a3.55 3.55 0 1 0 7.1 0a3.55 3.55 0 1 0 -7.1 0M1130.5 1312.0a3.55 3.55 0 1 0 7.1 0a3.55 3.55 0 1 0 -7.1 0M1127.5 1325.6a3.55 3.55 0 1 0 7.1 0a3.55 3.55 0 1 0 -7.1 0M1144.5 1257.9a3.55 3.55 0 1 0 7.1 0a3.55 3.55 0 1 0 -7.1 0M1144.5 1275.9a3.55 3.55 0 1 0 7.1 0a3.55 3.55 0 1 0 -7.1 0M1138.5 1294.0a3.55 3.55 0 1 0 7.1 0a3.55 3.55 0 1 0 -7.1 0M1138.5 1312.0a3.55 3.55 0 1 0 7.1 0a3.55 3.55 0 1 0 -7.1 0M1159.5 1253.4a3.55 3.55 0 1 0 7.1 0a3.55 3.55 0 1 0 -7.1 0M1159.5 1257.9a3.55 3.55 0 1 0 7.1 0a3.55 3.55 0 1 0 -7.1 0M1159.5 1262.4a3.55 3.55 0 1 0 7.1 0a3.55 3.55 0 1 0 -7.1 0M1159.5 1280.4a3.55 3.55 0 1 0 7.1 0a3.55 3.55 0 1 0 -7.1 0M1159.5 1284.9a3.55 3.55 0 1 0 7.1 0a3.55 3.55 0 1 0 -7.1 0M1159.5 1289.5a3.55 3.55 0 1 0 7.1 0a3.55 3.55 0 1 0 -7.1 0M1159.5 1294.0a3.55 3.55 0 1 0 7.1 0a3.55 3.55 0 1 0 -7.1 0M1159.5 1298.5a3.55 3.55 0 1 0 7.1 0a3.55 3.55 0 1 0 -7.1 0M1159.5 1325.6a3.55 3.55 0 1 0 7.1 0a3.55 3.55 0 1 0 -7.1 0M1159.5 1334.6a3.55 3.55 0 1 0 7.1 0a3.55 3.55 0 1 0 -7.1 0M1174.0 1248.8a3.55 3.55 0 1 0 7.1 0a3.55 3.55 0 1 0 -7.1 0M1174.0 1257.9a3.55 3.55 0 1 0 7.1 0a3.55 3.55 0 1 0 -7.1 0M1174.0 1266.9a3.55 3.55 0 1 0 7.1 0a3.55 3.55 0 1 0 -7.1 0M1174.0 1275.9a3.55 3.55 0 1 0 7.1 0a3.55 3.55 0 1 0 -7.1 0M1174.0 1284.9a3.55 3.55 0 1 0 7.1 0a3.55 3.55 0 1 0 -7.1 0M1174.0 1294.0a3.55 3.55 0 1 0 7.1 0a3.55 3.55 0 1 0 -7.1 0M1174.0 1307.5a3.55 3.55 0 1 0 7.1 0a3.55 3.55 0 1 0 -7.1 0M1174.0 1321.1a3.55 3.55 0 1 0 7.1 0a3.55 3.55 0 1 0 -7.1 0M1174.0 1325.6a3.55 3.55 0 1 0 7.1 0a3.55 3.55 0 1 0 -7.1 0M1174.0 1330.1a3.55 3.55 0 1 0 7.1 0a3.55 3.55 0 1 0 -7.1 0M1174.0 1334.6a3.55 3.55 0 1 0 7.1 0a3.55 3.55 0 1 0 -7.1 0M1174.0 1339.1a3.55 3.55 0 1 0 7.1 0a3.55 3.55 0 1 0 -7.1 0M1184.5 1244.3a3.55 3.55 0 1 0 7.1 0a3.55 3.55 0 1 0 -7.1 0M1184.5 1253.4a3.55 3.55 0 1 0 7.1 0a3.55 3.55 0 1 0 -7.1 0M1184.5 1262.4a3.55 3.55 0 1 0 7.1 0a3.55 3.55 0 1 0 -7.1 0M1184.5 1271.4a3.55 3.55 0 1 0 7.1 0a3.55 3.55 0 1 0 -7.1 0M1184.5 1289.5a3.55 3.55 0 1 0 7.1 0a3.55 3.55 0 1 0 -7.1 0M1184.5 1330.1a3.55 3.55 0 1 0 7.1 0a3.55 3.55 0 1 0 -7.1 0M1197.0 1059.3a3.55 3.55 0 1 0 7.1 0a3.55 3.55 0 1 0 -7.1 0M1197.0 1063.8a3.55 3.55 0 1 0 7.1 0a3.55 3.55 0 1 0 -7.1 0M1197.0 1072.8a3.55 3.55 0 1 0 7.1 0a3.55 3.55 0 1 0 -7.1 0M1197.0 1086.4a3.55 3.55 0 1 0 7.1 0a3.55 3.55 0 1 0 -7.1 0M1197.0 1099.9a3.55 3.55 0 1 0 7.1 0a3.55 3.55 0 1 0 -7.1 0M1197.0 1113.4a3.55 3.55 0 1 0 7.1 0a3.55 3.55 0 1 0 -7.1 0M1197.0 1122.5a3.55 3.55 0 1 0 7.1 0a3.55 3.55 0 1 0 -7.1 0M1197.0 1131.5a3.55 3.55 0 1 0 7.1 0a3.55 3.55 0 1 0 -7.1 0M1197.0 1136.0a3.55 3.55 0 1 0 7.1 0a3.55 3.55 0 1 0 -7.1 0M1197.0 1140.5a3.55 3.55 0 1 0 7.1 0a3.55 3.55 0 1 0 -7.1 0M1197.0 1145.0a3.55 3.55 0 1 0 7.1 0a3.55 3.55 0 1 0 -7.1 0M1203.0 1081.8a3.55 3.55 0 1 0 7.1 0a3.55 3.55 0 1 0 -7.1 0M1203.0 1086.4a3.55 3.55 0 1 0 7.1 0a3.55 3.55 0 1 0 -7.1 0M1203.0 1090.9a3.55 3.55 0 1 0 7.1 0a3.55 3.55 0 1 0 -7.1 0M1203.0 1095.4a3.55 3.55 0 1 0 7.1 0a3.55 3.55 0 1 0 -7.1 0M1203.0 1099.9a3.55 3.55 0 1 0 7.1 0a3.55 3.55 0 1 0 -7.1 0M1203.0 1104.4a3.55 3.55 0 1 0 7.1 0a3.55 3.55 0 1 0 -7.1 0M1203.0 1108.9a3.55 3.55 0 1 0 7.1 0a3.55 3.55 0 1 0 -7.1 0M1203.0 1113.4a3.55 3.55 0 1 0 7.1 0a3.55 3.55 0 1 0 -7.1 0M1203.0 1117.9a3.55 3.55 0 1 0 7.1 0a3.55 3.55 0 1 0 -7.1 0M1203.0 1122.5a3.55 3.55 0 1 0 7.1 0a3.55 3.55 0 1 0 -7.1 0M1203.0 1127.0a3.55 3.55 0 1 0 7.1 0a3.55 3.55 0 1 0 -7.1 0M1203.0 1131.5a3.55 3.55 0 1 0 7.1 0a3.55 3.55 0 1 0 -7.1 0M1203.0 1136.0a3.55 3.55 0 1 0 7.1 0a3.55 3.55 0 1 0 -7.1 0M1203.0 1140.5a3.55 3.55 0 1 0 7.1 0a3.55 3.55 0 1 0 -7.1 0M1203.0 1145.0a3.55 3.55 0 1 0 7.1 0a3.55 3.55 0 1 0 -7.1 0M1203.0 1149.5a3.55 3.55 0 1 0 7.1 0a3.55 3.55 0 1 0 -7.1 0M1203.0 1154.1a3.55 3.55 0 1 0 7.1 0a3.55 3.55 0 1 0 -7.1 0M1203.0 1158.6a3.55 3.55 0 1 0 7.1 0a3.55 3.55 0 1 0 -7.1 0M1203.0 1163.1a3.55 3.55 0 1 0 7.1 0a3.55 3.55 0 1 0 -7.1 0M1203.0 1167.6a3.55 3.55 0 1 0 7.1 0a3.55 3.55 0 1 0 -7.1 0M1203.0 1172.1a3.55 3.55 0 1 0 7.1 0a3.55 3.55 0 1 0 -7.1 0M1203.0 1176.6a3.55 3.55 0 1 0 7.1 0a3.55 3.55 0 1 0 -7.1 0M1203.0 1181.1a3.55 3.55 0 1 0 7.1 0a3.55 3.55 0 1 0 -7.1 0M1203.0 1185.7a3.55 3.55 0 1 0 7.1 0a3.55 3.55 0 1 0 -7.1 0M1203.0 1190.2a3.55 3.55 0 1 0 7.1 0a3.55 3.55 0 1 0 -7.1 0M1203.0 1194.7a3.55 3.55 0 1 0 7.1 0a3.55 3.55 0 1 0 -7.1 0M1203.0 1199.2a3.55 3.55 0 1 0 7.1 0a3.55 3.55 0 1 0 -7.1 0M1203.0 1203.7a3.55 3.55 0 1 0 7.1 0a3.55 3.55 0 1 0 -7.1 0M1203.0 1208.2a3.55 3.55 0 1 0 7.1 0a3.55 3.55 0 1 0 -7.1 0M1203.0 1212.7a3.55 3.55 0 1 0 7.1 0a3.55 3.55 0 1 0 -7.1 0M1203.0 1217.2a3.55 3.55 0 1 0 7.1 0a3.55 3.55 0 1 0 -7.1 0M1203.0 1221.8a3.55 3.55 0 1 0 7.1 0a3.55 3.55 0 1 0 -7.1 0M1203.0 1226.3a3.55 3.55 0 1 0 7.1 0a3.55 3.55 0 1 0 -7.1 0M1203.0 1230.8a3.55 3.55 0 1 0 7.1 0a3.55 3.55 0 1 0 -7.1 0M1203.0 1235.3a3.55 3.55 0 1 0 7.1 0a3.55 3.55 0 1 0 -7.1 0M1203.0 1239.8a3.55 3.55 0 1 0 7.1 0a3.55 3.55 0 1 0 -7.1 0M1203.0 1244.3a3.55 3.55 0 1 0 7.1 0a3.55 3.55 0 1 0 -7.1 0M1203.0 1248.8a3.55 3.55 0 1 0 7.1 0a3.55 3.55 0 1 0 -7.1 0M1203.0 1253.4a3.55 3.55 0 1 0 7.1 0a3.55 3.55 0 1 0 -7.1 0M1203.0 1257.9a3.55 3.55 0 1 0 7.1 0a3.55 3.55 0 1 0 -7.1 0M1203.0 1262.4a3.55 3.55 0 1 0 7.1 0a3.55 3.55 0 1 0 -7.1 0M1203.0 1266.9a3.55 3.55 0 1 0 7.1 0a3.55 3.55 0 1 0 -7.1 0M1203.0 1271.4a3.55 3.55 0 1 0 7.1 0a3.55 3.55 0 1 0 -7.1 0M1203.0 1275.9a3.55 3.55 0 1 0 7.1 0a3.55 3.55 0 1 0 -7.1 0M1203.0 1280.4a3.55 3.55 0 1 0 7.1 0a3.55 3.55 0 1 0 -7.1 0M1203.0 1284.9a3.55 3.55 0 1 0 7.1 0a3.55 3.55 0 1 0 -7.1 0M1203.0 1289.5a3.55 3.55 0 1 0 7.1 0a3.55 3.55 0 1 0 -7.1 0M1203.0 1294.0a3.55 3.55 0 1 0 7.1 0a3.55 3.55 0 1 0 -7.1 0M1203.0 1298.5a3.55 3.55 0 1 0 7.1 0a3.55 3.55 0 1 0 -7.1 0M1203.0 1303.0a3.55 3.55 0 1 0 7.1 0a3.55 3.55 0 1 0 -7.1 0M1203.0 1307.5a3.55 3.55 0 1 0 7.1 0a3.55 3.55 0 1 0 -7.1 0M1203.0 1312.0a3.55 3.55 0 1 0 7.1 0a3.55 3.55 0 1 0 -7.1 0M1203.0 1316.5a3.55 3.55 0 1 0 7.1 0a3.55 3.55 0 1 0 -7.1 0M1203.0 1321.1a3.55 3.55 0 1 0 7.1 0a3.55 3.55 0 1 0 -7.1 0M1203.0 1325.6a3.55 3.55 0 1 0 7.1 0a3.55 3.55 0 1 0 -7.1 0M1203.0 1330.1a3.55 3.55 0 1 0 7.1 0a3.55 3.55 0 1 0 -7.1 0M1203.0 1334.6a3.55 3.55 0 1 0 7.1 0a3.55 3.55 0 1 0 -7.1 0M1203.0 1339.1a3.55 3.55 0 1 0 7.1 0a3.55 3.55 0 1 0 -7.1 0M1213.4 910.3a3.55 3.55 0 1 0 7.1 0a3.55 3.55 0 1 0 -7.1 0M1196.2 941.9a3.55 3.55 0 1 0 7.1 0a3.55 3.55 0 1 0 -7.1 0M1196.2 946.4a3.55 3.55 0 1 0 7.1 0a3.55 3.55 0 1 0 -7.1 0M1196.2 950.9a3.55 3.55 0 1 0 7.1 0a3.55 3.55 0 1 0 -7.1 0M1196.2 960.0a3.55 3.55 0 1 0 7.1 0a3.55 3.55 0 1 0 -7.1 0M1196.2 964.5a3.55 3.55 0 1 0 7.1 0a3.55 3.55 0 1 0 -7.1 0M1196.2 969.0a3.55 3.55 0 1 0 7.1 0a3.55 3.55 0 1 0 -7.1 0M1196.2 982.5a3.55 3.55 0 1 0 7.1 0a3.55 3.55 0 1 0 -7.1 0M1196.2 991.6a3.55 3.55 0 1 0 7.1 0a3.55 3.55 0 1 0 -7.1 0M1196.2 996.1a3.55 3.55 0 1 0 7.1 0a3.55 3.55 0 1 0 -7.1 0M1196.2 1000.6a3.55 3.55 0 1 0 7.1 0a3.55 3.55 0 1 0 -7.1 0M1196.2 1027.7a3.55 3.55 0 1 0 7.1 0a3.55 3.55 0 1 0 -7.1 0M1196.2 1032.2a3.55 3.55 0 1 0 7.1 0a3.55 3.55 0 1 0 -7.1 0M1196.2 1036.7a3.55 3.55 0 1 0 7.1 0a3.55 3.55 0 1 0 -7.1 0M1196.2 1063.8a3.55 3.55 0 1 0 7.1 0a3.55 3.55 0 1 0 -7.1 0M1196.2 1068.3a3.55 3.55 0 1 0 7.1 0a3.55 3.55 0 1 0 -7.1 0M1196.2 1099.9a3.55 3.55 0 1 0 7.1 0a3.55 3.55 0 1 0 -7.1 0M1196.2 1122.5a3.55 3.55 0 1 0 7.1 0a3.55 3.55 0 1 0 -7.1 0M1196.2 1172.1a3.55 3.55 0 1 0 7.1 0a3.55 3.55 0 1 0 -7.1 0M1200.0 960.0a3.55 3.55 0 1 0 7.1 0a3.55 3.55 0 1 0 -7.1 0M1200.0 969.0a3.55 3.55 0 1 0 7.1 0a3.55 3.55 0 1 0 -7.1 0M1200.0 978.0a3.55 3.55 0 1 0 7.1 0a3.55 3.55 0 1 0 -7.1 0M1200.0 991.6a3.55 3.55 0 1 0 7.1 0a3.55 3.55 0 1 0 -7.1 0M1200.0 996.1a3.55 3.55 0 1 0 7.1 0a3.55 3.55 0 1 0 -7.1 0M1200.0 1000.6a3.55 3.55 0 1 0 7.1 0a3.55 3.55 0 1 0 -7.1 0M1200.0 1009.6a3.55 3.55 0 1 0 7.1 0a3.55 3.55 0 1 0 -7.1 0M1200.0 1018.7a3.55 3.55 0 1 0 7.1 0a3.55 3.55 0 1 0 -7.1 0M1200.0 1027.7a3.55 3.55 0 1 0 7.1 0a3.55 3.55 0 1 0 -7.1 0M1200.0 1032.2a3.55 3.55 0 1 0 7.1 0a3.55 3.55 0 1 0 -7.1 0M1200.0 1036.7a3.55 3.55 0 1 0 7.1 0a3.55 3.55 0 1 0 -7.1 0M1200.0 1059.3a3.55 3.55 0 1 0 7.1 0a3.55 3.55 0 1 0 -7.1 0M1200.0 1063.8a3.55 3.55 0 1 0 7.1 0a3.55 3.55 0 1 0 -7.1 0M1200.0 1072.8a3.55 3.55 0 1 0 7.1 0a3.55 3.55 0 1 0 -7.1 0M1200.0 1086.4a3.55 3.55 0 1 0 7.1 0a3.55 3.55 0 1 0 -7.1 0M1200.0 1099.9a3.55 3.55 0 1 0 7.1 0a3.55 3.55 0 1 0 -7.1 0M1200.0 1113.4a3.55 3.55 0 1 0 7.1 0a3.55 3.55 0 1 0 -7.1 0M1200.0 1131.5a3.55 3.55 0 1 0 7.1 0a3.55 3.55 0 1 0 -7.1 0M1214.5 1095.4a3.55 3.55 0 1 0 7.1 0a3.55 3.55 0 1 0 -7.1 0M1255.0 1095.4a3.55 3.55 0 1 0 7.1 0a3.55 3.55 0 1 0 -7.1 0M1255.0 1149.5a3.55 3.55 0 1 0 7.1 0a3.55 3.55 0 1 0 -7.1 0M1204.0 1113.4a3.55 3.55 0 1 0 7.1 0a3.55 3.55 0 1 0 -7.1 0M1204.0 1131.5a3.55 3.55 0 1 0 7.1 0a3.55 3.55 0 1 0 -7.1 0M1207.9 1122.5a3.55 3.55 0 1 0 7.1 0a3.55 3.55 0 1 0 -7.1 0M1221.5 1122.5a3.55 3.55 0 1 0 7.1 0a3.55 3.55 0 1 0 -7.1 0M1221.5 1136.0a3.55 3.55 0 1 0 7.1 0a3.55 3.55 0 1 0 -7.1 0M1221.5 1149.5a3.55 3.55 0 1 0 7.1 0a3.55 3.55 0 1 0 -7.1 0M1228.5 1131.5a3.55 3.55 0 1 0 7.1 0a3.55 3.55 0 1 0 -7.1 0M1180.8 1145.0a3.55 3.55 0 1 0 7.1 0a3.55 3.55 0 1 0 -7.1 0M1184.2 1158.6a3.55 3.55 0 1 0 7.1 0a3.55 3.55 0 1 0 -7.1 0M1192.8 1158.6a3.55 3.55 0 1 0 7.1 0a3.55 3.55 0 1 0 -7.1 0M1198.5 1140.5a3.55 3.55 0 1 0 7.1 0a3.55 3.55 0 1 0 -7.1 0M1198.5 1145.0a3.55 3.55 0 1 0 7.1 0a3.55 3.55 0 1 0 -7.1 0M1198.5 1149.5a3.55 3.55 0 1 0 7.1 0a3.55 3.55 0 1 0 -7.1 0M1198.5 1154.1a3.55 3.55 0 1 0 7.1 0a3.55 3.55 0 1 0 -7.1 0M1198.5 1158.6a3.55 3.55 0 1 0 7.1 0a3.55 3.55 0 1 0 -7.1 0M1198.5 1163.1a3.55 3.55 0 1 0 7.1 0a3.55 3.55 0 1 0 -7.1 0M1198.5 1167.6a3.55 3.55 0 1 0 7.1 0a3.55 3.55 0 1 0 -7.1 0M1198.5 1172.1a3.55 3.55 0 1 0 7.1 0a3.55 3.55 0 1 0 -7.1 0M1198.5 1176.6a3.55 3.55 0 1 0 7.1 0a3.55 3.55 0 1 0 -7.1 0M1198.5 1181.1a3.55 3.55 0 1 0 7.1 0a3.55 3.55 0 1 0 -7.1 0M1204.5 1145.0a3.55 3.55 0 1 0 7.1 0a3.55 3.55 0 1 0 -7.1 0M1204.5 1149.5a3.55 3.55 0 1 0 7.1 0a3.55 3.55 0 1 0 -7.1 0M1204.5 1154.1a3.55 3.55 0 1 0 7.1 0a3.55 3.55 0 1 0 -7.1 0M1204.5 1158.6a3.55 3.55 0 1 0 7.1 0a3.55 3.55 0 1 0 -7.1 0M1204.5 1163.1a3.55 3.55 0 1 0 7.1 0a3.55 3.55 0 1 0 -7.1 0M1204.5 1167.6a3.55 3.55 0 1 0 7.1 0a3.55 3.55 0 1 0 -7.1 0M1204.5 1172.1a3.55 3.55 0 1 0 7.1 0a3.55 3.55 0 1 0 -7.1 0M1204.5 1176.6a3.55 3.55 0 1 0 7.1 0a3.55 3.55 0 1 0 -7.1 0M1204.5 1181.1a3.55 3.55 0 1 0 7.1 0a3.55 3.55 0 1 0 -7.1 0M1209.5 1149.5a3.55 3.55 0 1 0 7.1 0a3.55 3.55 0 1 0 -7.1 0M1209.5 1154.1a3.55 3.55 0 1 0 7.1 0a3.55 3.55 0 1 0 -7.1 0M1209.5 1158.6a3.55 3.55 0 1 0 7.1 0a3.55 3.55 0 1 0 -7.1 0M1209.5 1163.1a3.55 3.55 0 1 0 7.1 0a3.55 3.55 0 1 0 -7.1 0M1209.5 1167.6a3.55 3.55 0 1 0 7.1 0a3.55 3.55 0 1 0 -7.1 0M1224.5 1158.6a3.55 3.55 0 1 0 7.1 0a3.55 3.55 0 1 0 -7.1 0M1224.5 1163.1a3.55 3.55 0 1 0 7.1 0a3.55 3.55 0 1 0 -7.1 0M1224.5 1167.6a3.55 3.55 0 1 0 7.1 0a3.55 3.55 0 1 0 -7.1 0M1224.5 1172.1a3.55 3.55 0 1 0 7.1 0a3.55 3.55 0 1 0 -7.1 0M1224.5 1176.6a3.55 3.55 0 1 0 7.1 0a3.55 3.55 0 1 0 -7.1 0M1224.5 1181.1a3.55 3.55 0 1 0 7.1 0a3.55 3.55 0 1 0 -7.1 0M1229.5 1158.6a3.55 3.55 0 1 0 7.1 0a3.55 3.55 0 1 0 -7.1 0M1229.5 1163.1a3.55 3.55 0 1 0 7.1 0a3.55 3.55 0 1 0 -7.1 0M1234.8 1167.6a3.55 3.55 0 1 0 7.1 0a3.55 3.55 0 1 0 -7.1 0M1234.8 1172.1a3.55 3.55 0 1 0 7.1 0a3.55 3.55 0 1 0 -7.1 0M1234.8 1176.6a3.55 3.55 0 1 0 7.1 0a3.55 3.55 0 1 0 -7.1 0M1234.8 1181.1a3.55 3.55 0 1 0 7.1 0a3.55 3.55 0 1 0 -7.1 0M1200.5 1172.1a3.55 3.55 0 1 0 7.1 0a3.55 3.55 0 1 0 -7.1 0M1200.5 1176.6a3.55 3.55 0 1 0 7.1 0a3.55 3.55 0 1 0 -7.1 0M1200.5 1181.1a3.55 3.55 0 1 0 7.1 0a3.55 3.55 0 1 0 -7.1 0M1200.5 1185.7a3.55 3.55 0 1 0 7.1 0a3.55 3.55 0 1 0 -7.1 0M1200.5 1190.2a3.55 3.55 0 1 0 7.1 0a3.55 3.55 0 1 0 -7.1 0M1200.5 1194.7a3.55 3.55 0 1 0 7.1 0a3.55 3.55 0 1 0 -7.1 0M1200.5 1199.2a3.55 3.55 0 1 0 7.1 0a3.55 3.55 0 1 0 -7.1 0M1200.5 1203.7a3.55 3.55 0 1 0 7.1 0a3.55 3.55 0 1 0 -7.1 0M1200.5 1208.2a3.55 3.55 0 1 0 7.1 0a3.55 3.55 0 1 0 -7.1 0M1200.5 1212.7a3.55 3.55 0 1 0 7.1 0a3.55 3.55 0 1 0 -7.1 0M1200.5 1217.2a3.55 3.55 0 1 0 7.1 0a3.55 3.55 0 1 0 -7.1 0M1200.5 1221.8a3.55 3.55 0 1 0 7.1 0a3.55 3.55 0 1 0 -7.1 0M1200.5 1226.3a3.55 3.55 0 1 0 7.1 0a3.55 3.55 0 1 0 -7.1 0M1200.5 1230.8a3.55 3.55 0 1 0 7.1 0a3.55 3.55 0 1 0 -7.1 0M1200.5 1235.3a3.55 3.55 0 1 0 7.1 0a3.55 3.55 0 1 0 -7.1 0M1200.5 1239.8a3.55 3.55 0 1 0 7.1 0a3.55 3.55 0 1 0 -7.1 0M1200.5 1244.3a3.55 3.55 0 1 0 7.1 0a3.55 3.55 0 1 0 -7.1 0M1200.5 1248.8a3.55 3.55 0 1 0 7.1 0a3.55 3.55 0 1 0 -7.1 0M1200.5 1253.4a3.55 3.55 0 1 0 7.1 0a3.55 3.55 0 1 0 -7.1 0M1200.5 1257.9a3.55 3.55 0 1 0 7.1 0a3.55 3.55 0 1 0 -7.1 0M1200.5 1262.4a3.55 3.55 0 1 0 7.1 0a3.55 3.55 0 1 0 -7.1 0M1200.5 1266.9a3.55 3.55 0 1 0 7.1 0a3.55 3.55 0 1 0 -7.1 0M1206.0 1172.1a3.55 3.55 0 1 0 7.1 0a3.55 3.55 0 1 0 -7.1 0M1206.0 1181.1a3.55 3.55 0 1 0 7.1 0a3.55 3.55 0 1 0 -7.1 0M1206.0 1190.2a3.55 3.55 0 1 0 7.1 0a3.55 3.55 0 1 0 -7.1 0M1206.0 1199.2a3.55 3.55 0 1 0 7.1 0a3.55 3.55 0 1 0 -7.1 0M1206.0 1208.2a3.55 3.55 0 1 0 7.1 0a3.55 3.55 0 1 0 -7.1 0M1206.0 1217.2a3.55 3.55 0 1 0 7.1 0a3.55 3.55 0 1 0 -7.1 0M1206.0 1226.3a3.55 3.55 0 1 0 7.1 0a3.55 3.55 0 1 0 -7.1 0M1206.0 1235.3a3.55 3.55 0 1 0 7.1 0a3.55 3.55 0 1 0 -7.1 0M1206.0 1244.3a3.55 3.55 0 1 0 7.1 0a3.55 3.55 0 1 0 -7.1 0M1206.0 1253.4a3.55 3.55 0 1 0 7.1 0a3.55 3.55 0 1 0 -7.1 0M1206.0 1262.4a3.55 3.55 0 1 0 7.1 0a3.55 3.55 0 1 0 -7.1 0M1206.0 1271.4a3.55 3.55 0 1 0 7.1 0a3.55 3.55 0 1 0 -7.1 0M1211.0 1176.6a3.55 3.55 0 1 0 7.1 0a3.55 3.55 0 1 0 -7.1 0M1211.0 1190.2a3.55 3.55 0 1 0 7.1 0a3.55 3.55 0 1 0 -7.1 0M1211.0 1203.7a3.55 3.55 0 1 0 7.1 0a3.55 3.55 0 1 0 -7.1 0M1211.0 1217.2a3.55 3.55 0 1 0 7.1 0a3.55 3.55 0 1 0 -7.1 0M1211.0 1253.4a3.55 3.55 0 1 0 7.1 0a3.55 3.55 0 1 0 -7.1 0M1211.0 1262.4a3.55 3.55 0 1 0 7.1 0a3.55 3.55 0 1 0 -7.1 0M1215.5 1181.1a3.55 3.55 0 1 0 7.1 0a3.55 3.55 0 1 0 -7.1 0M1215.5 1199.2a3.55 3.55 0 1 0 7.1 0a3.55 3.55 0 1 0 -7.1 0M1215.5 1217.2a3.55 3.55 0 1 0 7.1 0a3.55 3.55 0 1 0 -7.1 0M1215.5 1244.3a3.55 3.55 0 1 0 7.1 0a3.55 3.55 0 1 0 -7.1 0M1220.5 1190.2a3.55 3.55 0 1 0 7.1 0a3.55 3.55 0 1 0 -7.1 0M1220.5 1208.2a3.55 3.55 0 1 0 7.1 0a3.55 3.55 0 1 0 -7.1 0M1220.5 1230.8a3.55 3.55 0 1 0 7.1 0a3.55 3.55 0 1 0 -7.1 0M1225.5 1194.7a3.55 3.55 0 1 0 7.1 0a3.55 3.55 0 1 0 -7.1 0M1225.5 1217.2a3.55 3.55 0 1 0 7.1 0a3.55 3.55 0 1 0 -7.1 0M1225.5 1235.3a3.55 3.55 0 1 0 7.1 0a3.55 3.55 0 1 0 -7.1 0M1208.5 1275.9a3.55 3.55 0 1 0 7.1 0a3.55 3.55 0 1 0 -7.1 0M1208.5 1280.4a3.55 3.55 0 1 0 7.1 0a3.55 3.55 0 1 0 -7.1 0M1234.8 1199.2a3.55 3.55 0 1 0 7.1 0a3.55 3.55 0 1 0 -7.1 0M1234.8 1212.7a3.55 3.55 0 1 0 7.1 0a3.55 3.55 0 1 0 -7.1 0M1234.8 1217.2a3.55 3.55 0 1 0 7.1 0a3.55 3.55 0 1 0 -7.1 0M1234.8 1221.8a3.55 3.55 0 1 0 7.1 0a3.55 3.55 0 1 0 -7.1 0M1234.8 1226.3a3.55 3.55 0 1 0 7.1 0a3.55 3.55 0 1 0 -7.1 0M1234.8 1230.8a3.55 3.55 0 1 0 7.1 0a3.55 3.55 0 1 0 -7.1 0M1234.8 1262.4a3.55 3.55 0 1 0 7.1 0a3.55 3.55 0 1 0 -7.1 0M1234.8 1280.4a3.55 3.55 0 1 0 7.1 0a3.55 3.55 0 1 0 -7.1 0M1234.8 1298.5a3.55 3.55 0 1 0 7.1 0a3.55 3.55 0 1 0 -7.1 0M1234.8 1303.0a3.55 3.55 0 1 0 7.1 0a3.55 3.55 0 1 0 -7.1 0M1234.8 1307.5a3.55 3.55 0 1 0 7.1 0a3.55 3.55 0 1 0 -7.1 0M1234.8 1312.0a3.55 3.55 0 1 0 7.1 0a3.55 3.55 0 1 0 -7.1 0M1234.8 1316.5a3.55 3.55 0 1 0 7.1 0a3.55 3.55 0 1 0 -7.1 0M1234.8 1321.1a3.55 3.55 0 1 0 7.1 0a3.55 3.55 0 1 0 -7.1 0M1234.8 1325.6a3.55 3.55 0 1 0 7.1 0a3.55 3.55 0 1 0 -7.1 0M1234.8 1330.1a3.55 3.55 0 1 0 7.1 0a3.55 3.55 0 1 0 -7.1 0M1234.8 1334.6a3.55 3.55 0 1 0 7.1 0a3.55 3.55 0 1 0 -7.1 0M1234.8 1339.1a3.55 3.55 0 1 0 7.1 0a3.55 3.55 0 1 0 -7.1 0M1234.8 1343.6a3.55 3.55 0 1 0 7.1 0a3.55 3.55 0 1 0 -7.1 0M1234.8 1348.1a3.55 3.55 0 1 0 7.1 0a3.55 3.55 0 1 0 -7.1 0M1234.8 1352.7a3.55 3.55 0 1 0 7.1 0a3.55 3.55 0 1 0 -7.1 0M1234.8 1357.2a3.55 3.55 0 1 0 7.1 0a3.55 3.55 0 1 0 -7.1 0M1234.8 1366.2a3.55 3.55 0 1 0 7.1 0a3.55 3.55 0 1 0 -7.1 0M1234.8 1370.7a3.55 3.55 0 1 0 7.1 0a3.55 3.55 0 1 0 -7.1 0M1234.8 1375.2a3.55 3.55 0 1 0 7.1 0a3.55 3.55 0 1 0 -7.1 0M1228.0 1185.7a3.55 3.55 0 1 0 7.1 0a3.55 3.55 0 1 0 -7.1 0M1228.0 1248.8a3.55 3.55 0 1 0 7.1 0a3.55 3.55 0 1 0 -7.1 0M1184.2 1185.7a3.55 3.55 0 1 0 7.1 0a3.55 3.55 0 1 0 -7.1 0M1184.2 1212.7a3.55 3.55 0 1 0 7.1 0a3.55 3.55 0 1 0 -7.1 0M1184.2 1221.8a3.55 3.55 0 1 0 7.1 0a3.55 3.55 0 1 0 -7.1 0M1184.2 1226.3a3.55 3.55 0 1 0 7.1 0a3.55 3.55 0 1 0 -7.1 0M1184.2 1244.3a3.55 3.55 0 1 0 7.1 0a3.55 3.55 0 1 0 -7.1 0M1184.2 1248.8a3.55 3.55 0 1 0 7.1 0a3.55 3.55 0 1 0 -7.1 0M1184.2 1253.4a3.55 3.55 0 1 0 7.1 0a3.55 3.55 0 1 0 -7.1 0M1184.2 1257.9a3.55 3.55 0 1 0 7.1 0a3.55 3.55 0 1 0 -7.1 0M1184.2 1262.4a3.55 3.55 0 1 0 7.1 0a3.55 3.55 0 1 0 -7.1 0M1184.2 1266.9a3.55 3.55 0 1 0 7.1 0a3.55 3.55 0 1 0 -7.1 0M1184.2 1271.4a3.55 3.55 0 1 0 7.1 0a3.55 3.55 0 1 0 -7.1 0M1184.2 1289.5a3.55 3.55 0 1 0 7.1 0a3.55 3.55 0 1 0 -7.1 0M1184.2 1307.5a3.55 3.55 0 1 0 7.1 0a3.55 3.55 0 1 0 -7.1 0M1184.2 1325.6a3.55 3.55 0 1 0 7.1 0a3.55 3.55 0 1 0 -7.1 0M1184.2 1330.1a3.55 3.55 0 1 0 7.1 0a3.55 3.55 0 1 0 -7.1 0M1184.2 1343.6a3.55 3.55 0 1 0 7.1 0a3.55 3.55 0 1 0 -7.1 0M1184.2 1348.1a3.55 3.55 0 1 0 7.1 0a3.55 3.55 0 1 0 -7.1 0M1184.2 1361.7a3.55 3.55 0 1 0 7.1 0a3.55 3.55 0 1 0 -7.1 0M1184.2 1366.2a3.55 3.55 0 1 0 7.1 0a3.55 3.55 0 1 0 -7.1 0M1184.2 1375.2a3.55 3.55 0 1 0 7.1 0a3.55 3.55 0 1 0 -7.1 0M1184.2 1379.7a3.55 3.55 0 1 0 7.1 0a3.55 3.55 0 1 0 -7.1 0M1184.2 1393.3a3.55 3.55 0 1 0 7.1 0a3.55 3.55 0 1 0 -7.1 0M1184.2 1415.8a3.55 3.55 0 1 0 7.1 0a3.55 3.55 0 1 0 -7.1 0M1178.2 1217.2a3.55 3.55 0 1 0 7.1 0a3.55 3.55 0 1 0 -7.1 0M1178.2 1244.3a3.55 3.55 0 1 0 7.1 0a3.55 3.55 0 1 0 -7.1 0M1178.2 1248.8a3.55 3.55 0 1 0 7.1 0a3.55 3.55 0 1 0 -7.1 0M1178.2 1253.4a3.55 3.55 0 1 0 7.1 0a3.55 3.55 0 1 0 -7.1 0M1178.2 1257.9a3.55 3.55 0 1 0 7.1 0a3.55 3.55 0 1 0 -7.1 0M1178.2 1262.4a3.55 3.55 0 1 0 7.1 0a3.55 3.55 0 1 0 -7.1 0M1178.2 1266.9a3.55 3.55 0 1 0 7.1 0a3.55 3.55 0 1 0 -7.1 0M1178.2 1271.4a3.55 3.55 0 1 0 7.1 0a3.55 3.55 0 1 0 -7.1 0M1178.2 1307.5a3.55 3.55 0 1 0 7.1 0a3.55 3.55 0 1 0 -7.1 0M1178.2 1325.6a3.55 3.55 0 1 0 7.1 0a3.55 3.55 0 1 0 -7.1 0M1178.2 1330.1a3.55 3.55 0 1 0 7.1 0a3.55 3.55 0 1 0 -7.1 0M1178.2 1343.6a3.55 3.55 0 1 0 7.1 0a3.55 3.55 0 1 0 -7.1 0M1178.2 1348.1a3.55 3.55 0 1 0 7.1 0a3.55 3.55 0 1 0 -7.1 0M1178.2 1366.2a3.55 3.55 0 1 0 7.1 0a3.55 3.55 0 1 0 -7.1 0M1178.2 1375.2a3.55 3.55 0 1 0 7.1 0a3.55 3.55 0 1 0 -7.1 0M1195.4 1230.8a3.55 3.55 0 1 0 7.1 0a3.55 3.55 0 1 0 -7.1 0M1195.4 1248.8a3.55 3.55 0 1 0 7.1 0a3.55 3.55 0 1 0 -7.1 0M1195.4 1348.1a3.55 3.55 0 1 0 7.1 0a3.55 3.55 0 1 0 -7.1 0M1205.7 1280.4a3.55 3.55 0 1 0 7.1 0a3.55 3.55 0 1 0 -7.1 0M1205.7 1289.5a3.55 3.55 0 1 0 7.1 0a3.55 3.55 0 1 0 -7.1 0M1205.7 1294.0a3.55 3.55 0 1 0 7.1 0a3.55 3.55 0 1 0 -7.1 0M1205.7 1303.0a3.55 3.55 0 1 0 7.1 0a3.55 3.55 0 1 0 -7.1 0M1205.7 1316.5a3.55 3.55 0 1 0 7.1 0a3.55 3.55 0 1 0 -7.1 0M1216.0 1271.4a3.55 3.55 0 1 0 7.1 0a3.55 3.55 0 1 0 -7.1 0M1216.0 1307.5a3.55 3.55 0 1 0 7.1 0a3.55 3.55 0 1 0 -7.1 0M1216.0 1384.2a3.55 3.55 0 1 0 7.1 0a3.55 3.55 0 1 0 -7.1 0M1225.4 1289.5a3.55 3.55 0 1 0 7.1 0a3.55 3.55 0 1 0 -7.1 0M1225.4 1294.0a3.55 3.55 0 1 0 7.1 0a3.55 3.55 0 1 0 -7.1 0M1229.7 1303.0a3.55 3.55 0 1 0 7.1 0a3.55 3.55 0 1 0 -7.1 0M1229.7 1357.2a3.55 3.55 0 1 0 7.1 0a3.55 3.55 0 1 0 -7.1 0M1241.7 1284.9a3.55 3.55 0 1 0 7.1 0a3.55 3.55 0 1 0 -7.1 0M1241.7 1307.5a3.55 3.55 0 1 0 7.1 0a3.55 3.55 0 1 0 -7.1 0M1241.7 1321.1a3.55 3.55 0 1 0 7.1 0a3.55 3.55 0 1 0 -7.1 0M1241.7 1343.6a3.55 3.55 0 1 0 7.1 0a3.55 3.55 0 1 0 -7.1 0M1254.5 1176.6a3.55 3.55 0 1 0 7.1 0a3.55 3.55 0 1 0 -7.1 0M1254.5 1181.1a3.55 3.55 0 1 0 7.1 0a3.55 3.55 0 1 0 -7.1 0M1254.5 1185.7a3.55 3.55 0 1 0 7.1 0a3.55 3.55 0 1 0 -7.1 0M1254.5 1199.2a3.55 3.55 0 1 0 7.1 0a3.55 3.55 0 1 0 -7.1 0M1254.5 1203.7a3.55 3.55 0 1 0 7.1 0a3.55 3.55 0 1 0 -7.1 0M1254.5 1208.2a3.55 3.55 0 1 0 7.1 0a3.55 3.55 0 1 0 -7.1 0M1254.5 1212.7a3.55 3.55 0 1 0 7.1 0a3.55 3.55 0 1 0 -7.1 0M1254.5 1217.2a3.55 3.55 0 1 0 7.1 0a3.55 3.55 0 1 0 -7.1 0M1254.5 1221.8a3.55 3.55 0 1 0 7.1 0a3.55 3.55 0 1 0 -7.1 0M1254.5 1226.3a3.55 3.55 0 1 0 7.1 0a3.55 3.55 0 1 0 -7.1 0M1254.5 1230.8a3.55 3.55 0 1 0 7.1 0a3.55 3.55 0 1 0 -7.1 0M1254.5 1235.3a3.55 3.55 0 1 0 7.1 0a3.55 3.55 0 1 0 -7.1 0M1254.5 1239.8a3.55 3.55 0 1 0 7.1 0a3.55 3.55 0 1 0 -7.1 0M1254.5 1244.3a3.55 3.55 0 1 0 7.1 0a3.55 3.55 0 1 0 -7.1 0M1254.5 1248.8a3.55 3.55 0 1 0 7.1 0a3.55 3.55 0 1 0 -7.1 0M1254.5 1253.4a3.55 3.55 0 1 0 7.1 0a3.55 3.55 0 1 0 -7.1 0M1254.5 1257.9a3.55 3.55 0 1 0 7.1 0a3.55 3.55 0 1 0 -7.1 0M1254.5 1262.4a3.55 3.55 0 1 0 7.1 0a3.55 3.55 0 1 0 -7.1 0M1254.5 1266.9a3.55 3.55 0 1 0 7.1 0a3.55 3.55 0 1 0 -7.1 0M1254.5 1271.4a3.55 3.55 0 1 0 7.1 0a3.55 3.55 0 1 0 -7.1 0M1254.5 1275.9a3.55 3.55 0 1 0 7.1 0a3.55 3.55 0 1 0 -7.1 0M1254.5 1280.4a3.55 3.55 0 1 0 7.1 0a3.55 3.55 0 1 0 -7.1 0M1254.5 1284.9a3.55 3.55 0 1 0 7.1 0a3.55 3.55 0 1 0 -7.1 0M1254.5 1289.5a3.55 3.55 0 1 0 7.1 0a3.55 3.55 0 1 0 -7.1 0M1254.5 1294.0a3.55 3.55 0 1 0 7.1 0a3.55 3.55 0 1 0 -7.1 0M1254.5 1298.5a3.55 3.55 0 1 0 7.1 0a3.55 3.55 0 1 0 -7.1 0M1254.5 1303.0a3.55 3.55 0 1 0 7.1 0a3.55 3.55 0 1 0 -7.1 0M1254.5 1307.5a3.55 3.55 0 1 0 7.1 0a3.55 3.55 0 1 0 -7.1 0M1254.5 1312.0a3.55 3.55 0 1 0 7.1 0a3.55 3.55 0 1 0 -7.1 0M1254.5 1316.5a3.55 3.55 0 1 0 7.1 0a3.55 3.55 0 1 0 -7.1 0M1254.5 1321.1a3.55 3.55 0 1 0 7.1 0a3.55 3.55 0 1 0 -7.1 0M1254.5 1325.6a3.55 3.55 0 1 0 7.1 0a3.55 3.55 0 1 0 -7.1 0M1254.5 1330.1a3.55 3.55 0 1 0 7.1 0a3.55 3.55 0 1 0 -7.1 0M1254.5 1334.6a3.55 3.55 0 1 0 7.1 0a3.55 3.55 0 1 0 -7.1 0M1254.5 1339.1a3.55 3.55 0 1 0 7.1 0a3.55 3.55 0 1 0 -7.1 0M1254.5 1343.6a3.55 3.55 0 1 0 7.1 0a3.55 3.55 0 1 0 -7.1 0M1254.5 1348.1a3.55 3.55 0 1 0 7.1 0a3.55 3.55 0 1 0 -7.1 0M1254.5 1352.7a3.55 3.55 0 1 0 7.1 0a3.55 3.55 0 1 0 -7.1 0M1254.5 1357.2a3.55 3.55 0 1 0 7.1 0a3.55 3.55 0 1 0 -7.1 0M1254.5 1361.7a3.55 3.55 0 1 0 7.1 0a3.55 3.55 0 1 0 -7.1 0M1254.5 1366.2a3.55 3.55 0 1 0 7.1 0a3.55 3.55 0 1 0 -7.1 0M1254.5 1370.7a3.55 3.55 0 1 0 7.1 0a3.55 3.55 0 1 0 -7.1 0M1254.5 1375.2a3.55 3.55 0 1 0 7.1 0a3.55 3.55 0 1 0 -7.1 0M1254.5 1379.7a3.55 3.55 0 1 0 7.1 0a3.55 3.55 0 1 0 -7.1 0M1254.5 1384.2a3.55 3.55 0 1 0 7.1 0a3.55 3.55 0 1 0 -7.1 0M1254.5 1388.8a3.55 3.55 0 1 0 7.1 0a3.55 3.55 0 1 0 -7.1 0M1254.5 1393.3a3.55 3.55 0 1 0 7.1 0a3.55 3.55 0 1 0 -7.1 0M1254.5 1397.8a3.55 3.55 0 1 0 7.1 0a3.55 3.55 0 1 0 -7.1 0M1254.5 1402.3a3.55 3.55 0 1 0 7.1 0a3.55 3.55 0 1 0 -7.1 0M1254.5 1406.8a3.55 3.55 0 1 0 7.1 0a3.55 3.55 0 1 0 -7.1 0M1254.5 1411.3a3.55 3.55 0 1 0 7.1 0a3.55 3.55 0 1 0 -7.1 0M1251.0 1217.2a3.55 3.55 0 1 0 7.1 0a3.55 3.55 0 1 0 -7.1 0M1251.0 1221.8a3.55 3.55 0 1 0 7.1 0a3.55 3.55 0 1 0 -7.1 0M1251.0 1226.3a3.55 3.55 0 1 0 7.1 0a3.55 3.55 0 1 0 -7.1 0M1251.0 1230.8a3.55 3.55 0 1 0 7.1 0a3.55 3.55 0 1 0 -7.1 0M1251.0 1235.3a3.55 3.55 0 1 0 7.1 0a3.55 3.55 0 1 0 -7.1 0M1251.0 1239.8a3.55 3.55 0 1 0 7.1 0a3.55 3.55 0 1 0 -7.1 0M1251.0 1244.3a3.55 3.55 0 1 0 7.1 0a3.55 3.55 0 1 0 -7.1 0M1251.0 1248.8a3.55 3.55 0 1 0 7.1 0a3.55 3.55 0 1 0 -7.1 0M1251.0 1253.4a3.55 3.55 0 1 0 7.1 0a3.55 3.55 0 1 0 -7.1 0M1251.0 1257.9a3.55 3.55 0 1 0 7.1 0a3.55 3.55 0 1 0 -7.1 0M1251.0 1262.4a3.55 3.55 0 1 0 7.1 0a3.55 3.55 0 1 0 -7.1 0M1251.0 1266.9a3.55 3.55 0 1 0 7.1 0a3.55 3.55 0 1 0 -7.1 0M1251.0 1271.4a3.55 3.55 0 1 0 7.1 0a3.55 3.55 0 1 0 -7.1 0M1251.0 1275.9a3.55 3.55 0 1 0 7.1 0a3.55 3.55 0 1 0 -7.1 0M1251.0 1280.4a3.55 3.55 0 1 0 7.1 0a3.55 3.55 0 1 0 -7.1 0M1251.0 1284.9a3.55 3.55 0 1 0 7.1 0a3.55 3.55 0 1 0 -7.1 0M1251.0 1289.5a3.55 3.55 0 1 0 7.1 0a3.55 3.55 0 1 0 -7.1 0M1251.0 1294.0a3.55 3.55 0 1 0 7.1 0a3.55 3.55 0 1 0 -7.1 0M1251.0 1298.5a3.55 3.55 0 1 0 7.1 0a3.55 3.55 0 1 0 -7.1 0M1251.0 1303.0a3.55 3.55 0 1 0 7.1 0a3.55 3.55 0 1 0 -7.1 0M1251.0 1307.5a3.55 3.55 0 1 0 7.1 0a3.55 3.55 0 1 0 -7.1 0M1251.0 1312.0a3.55 3.55 0 1 0 7.1 0a3.55 3.55 0 1 0 -7.1 0M1251.0 1316.5a3.55 3.55 0 1 0 7.1 0a3.55 3.55 0 1 0 -7.1 0M1251.0 1321.1a3.55 3.55 0 1 0 7.1 0a3.55 3.55 0 1 0 -7.1 0M1251.0 1325.6a3.55 3.55 0 1 0 7.1 0a3.55 3.55 0 1 0 -7.1 0M1251.0 1330.1a3.55 3.55 0 1 0 7.1 0a3.55 3.55 0 1 0 -7.1 0M1251.0 1334.6a3.55 3.55 0 1 0 7.1 0a3.55 3.55 0 1 0 -7.1 0M1251.0 1339.1a3.55 3.55 0 1 0 7.1 0a3.55 3.55 0 1 0 -7.1 0M1251.0 1343.6a3.55 3.55 0 1 0 7.1 0a3.55 3.55 0 1 0 -7.1 0M1251.0 1348.1a3.55 3.55 0 1 0 7.1 0a3.55 3.55 0 1 0 -7.1 0M1251.0 1352.7a3.55 3.55 0 1 0 7.1 0a3.55 3.55 0 1 0 -7.1 0M1251.0 1357.2a3.55 3.55 0 1 0 7.1 0a3.55 3.55 0 1 0 -7.1 0M1251.0 1361.7a3.55 3.55 0 1 0 7.1 0a3.55 3.55 0 1 0 -7.1 0M1251.0 1366.2a3.55 3.55 0 1 0 7.1 0a3.55 3.55 0 1 0 -7.1 0M1251.0 1370.7a3.55 3.55 0 1 0 7.1 0a3.55 3.55 0 1 0 -7.1 0M1247.7 1230.8a3.55 3.55 0 1 0 7.1 0a3.55 3.55 0 1 0 -7.1 0M1247.7 1257.9a3.55 3.55 0 1 0 7.1 0a3.55 3.55 0 1 0 -7.1 0M1247.7 1280.4a3.55 3.55 0 1 0 7.1 0a3.55 3.55 0 1 0 -7.1 0M1247.7 1289.5a3.55 3.55 0 1 0 7.1 0a3.55 3.55 0 1 0 -7.1 0M1247.7 1339.1a3.55 3.55 0 1 0 7.1 0a3.55 3.55 0 1 0 -7.1 0M1247.7 1352.7a3.55 3.55 0 1 0 7.1 0a3.55 3.55 0 1 0 -7.1 0M1247.7 1370.7a3.55 3.55 0 1 0 7.1 0a3.55 3.55 0 1 0 -7.1 0M1262.2 1298.5a3.55 3.55 0 1 0 7.1 0a3.55 3.55 0 1 0 -7.1 0M1172.9 1321.1a3.55 3.55 0 1 0 7.1 0a3.55 3.55 0 1 0 -7.1 0M1172.9 1325.6a3.55 3.55 0 1 0 7.1 0a3.55 3.55 0 1 0 -7.1 0M1172.9 1330.1a3.55 3.55 0 1 0 7.1 0a3.55 3.55 0 1 0 -7.1 0M1172.9 1334.6a3.55 3.55 0 1 0 7.1 0a3.55 3.55 0 1 0 -7.1 0M1172.9 1339.1a3.55 3.55 0 1 0 7.1 0a3.55 3.55 0 1 0 -7.1 0M1172.9 1348.1a3.55 3.55 0 1 0 7.1 0a3.55 3.55 0 1 0 -7.1 0M1172.9 1352.7a3.55 3.55 0 1 0 7.1 0a3.55 3.55 0 1 0 -7.1 0M1172.9 1357.2a3.55 3.55 0 1 0 7.1 0a3.55 3.55 0 1 0 -7.1 0M1176.0 1325.6a3.55 3.55 0 1 0 7.1 0a3.55 3.55 0 1 0 -7.1 0M1176.0 1330.1a3.55 3.55 0 1 0 7.1 0a3.55 3.55 0 1 0 -7.1 0M1176.0 1334.6a3.55 3.55 0 1 0 7.1 0a3.55 3.55 0 1 0 -7.1 0M1176.0 1339.1a3.55 3.55 0 1 0 7.1 0a3.55 3.55 0 1 0 -7.1 0M1176.0 1343.6a3.55 3.55 0 1 0 7.1 0a3.55 3.55 0 1 0 -7.1 0M1176.0 1348.1a3.55 3.55 0 1 0 7.1 0a3.55 3.55 0 1 0 -7.1 0M1176.0 1352.7a3.55 3.55 0 1 0 7.1 0a3.55 3.55 0 1 0 -7.1 0M1180.0 1325.6a3.55 3.55 0 1 0 7.1 0a3.55 3.55 0 1 0 -7.1 0M1180.0 1330.1a3.55 3.55 0 1 0 7.1 0a3.55 3.55 0 1 0 -7.1 0M1180.0 1343.6a3.55 3.55 0 1 0 7.1 0a3.55 3.55 0 1 0 -7.1 0M1180.0 1348.1a3.55 3.55 0 1 0 7.1 0a3.55 3.55 0 1 0 -7.1 0M1180.0 1366.2a3.55 3.55 0 1 0 7.1 0a3.55 3.55 0 1 0 -7.1 0M1180.0 1375.2a3.55 3.55 0 1 0 7.1 0a3.55 3.55 0 1 0 -7.1 0M1180.0 1379.7a3.55 3.55 0 1 0 7.1 0a3.55 3.55 0 1 0 -7.1 0M1184.7 1361.7a3.55 3.55 0 1 0 7.1 0a3.55 3.55 0 1 0 -7.1 0M1184.7 1375.2a3.55 3.55 0 1 0 7.1 0a3.55 3.55 0 1 0 -7.1 0M1184.7 1379.7a3.55 3.55 0 1 0 7.1 0a3.55 3.55 0 1 0 -7.1 0M1184.7 1393.3a3.55 3.55 0 1 0 7.1 0a3.55 3.55 0 1 0 -7.1 0M1184.7 1415.8a3.55 3.55 0 1 0 7.1 0a3.55 3.55 0 1 0 -7.1 0M1129.0 1348.1a3.55 3.55 0 1 0 7.1 0a3.55 3.55 0 1 0 -7.1 0M1129.0 1366.2a3.55 3.55 0 1 0 7.1 0a3.55 3.55 0 1 0 -7.1 0M1135.2 1361.7a3.55 3.55 0 1 0 7.1 0a3.55 3.55 0 1 0 -7.1 0M1128.0 1406.8a3.55 3.55 0 1 0 7.1 0a3.55 3.55 0 1 0 -7.1 0M1133.2 1330.1a3.55 3.55 0 1 0 7.1 0a3.55 3.55 0 1 0 -7.1 0M1133.2 1334.6a3.55 3.55 0 1 0 7.1 0a3.55 3.55 0 1 0 -7.1 0M1100.2 1348.1a3.55 3.55 0 1 0 7.1 0a3.55 3.55 0 1 0 -7.1 0M1100.2 1357.2a3.55 3.55 0 1 0 7.1 0a3.55 3.55 0 1 0 -7.1 0M1100.2 1379.7a3.55 3.55 0 1 0 7.1 0a3.55 3.55 0 1 0 -7.1 0M1094.0 1357.2a3.55 3.55 0 1 0 7.1 0a3.55 3.55 0 1 0 -7.1 0M1094.0 1370.7a3.55 3.55 0 1 0 7.1 0a3.55 3.55 0 1 0 -7.1 0M1094.0 1375.2a3.55 3.55 0 1 0 7.1 0a3.55 3.55 0 1 0 -7.1 0M1094.0 1402.3a3.55 3.55 0 1 0 7.1 0a3.55 3.55 0 1 0 -7.1 0M1094.0 1429.4a3.55 3.55 0 1 0 7.1 0a3.55 3.55 0 1 0 -7.1 0M1106.9 1330.1a3.55 3.55 0 1 0 7.1 0a3.55 3.55 0 1 0 -7.1 0M1316.0 960.0a3.55 3.55 0 1 0 7.1 0a3.55 3.55 0 1 0 -7.1 0M1316.0 996.1a3.55 3.55 0 1 0 7.1 0a3.55 3.55 0 1 0 -7.1 0M1316.0 1000.6a3.55 3.55 0 1 0 7.1 0a3.55 3.55 0 1 0 -7.1 0M1316.0 1005.1a3.55 3.55 0 1 0 7.1 0a3.55 3.55 0 1 0 -7.1 0M1316.0 1014.1a3.55 3.55 0 1 0 7.1 0a3.55 3.55 0 1 0 -7.1 0M1316.0 1023.2a3.55 3.55 0 1 0 7.1 0a3.55 3.55 0 1 0 -7.1 0M1316.0 1032.2a3.55 3.55 0 1 0 7.1 0a3.55 3.55 0 1 0 -7.1 0M1316.0 1050.2a3.55 3.55 0 1 0 7.1 0a3.55 3.55 0 1 0 -7.1 0M1316.0 1054.8a3.55 3.55 0 1 0 7.1 0a3.55 3.55 0 1 0 -7.1 0M1316.0 1059.3a3.55 3.55 0 1 0 7.1 0a3.55 3.55 0 1 0 -7.1 0M1316.0 1063.8a3.55 3.55 0 1 0 7.1 0a3.55 3.55 0 1 0 -7.1 0M1316.0 1068.3a3.55 3.55 0 1 0 7.1 0a3.55 3.55 0 1 0 -7.1 0M1316.0 1077.3a3.55 3.55 0 1 0 7.1 0a3.55 3.55 0 1 0 -7.1 0M1316.0 1099.9a3.55 3.55 0 1 0 7.1 0a3.55 3.55 0 1 0 -7.1 0M1316.0 1104.4a3.55 3.55 0 1 0 7.1 0a3.55 3.55 0 1 0 -7.1 0M1316.0 1108.9a3.55 3.55 0 1 0 7.1 0a3.55 3.55 0 1 0 -7.1 0M1316.0 1113.4a3.55 3.55 0 1 0 7.1 0a3.55 3.55 0 1 0 -7.1 0M1316.0 1117.9a3.55 3.55 0 1 0 7.1 0a3.55 3.55 0 1 0 -7.1 0M1316.0 1122.5a3.55 3.55 0 1 0 7.1 0a3.55 3.55 0 1 0 -7.1 0M1316.0 1127.0a3.55 3.55 0 1 0 7.1 0a3.55 3.55 0 1 0 -7.1 0M1316.0 1131.5a3.55 3.55 0 1 0 7.1 0a3.55 3.55 0 1 0 -7.1 0M1316.0 1136.0a3.55 3.55 0 1 0 7.1 0a3.55 3.55 0 1 0 -7.1 0M1316.0 1140.5a3.55 3.55 0 1 0 7.1 0a3.55 3.55 0 1 0 -7.1 0M1316.0 1145.0a3.55 3.55 0 1 0 7.1 0a3.55 3.55 0 1 0 -7.1 0M1316.0 1149.5a3.55 3.55 0 1 0 7.1 0a3.55 3.55 0 1 0 -7.1 0M1316.0 1154.1a3.55 3.55 0 1 0 7.1 0a3.55 3.55 0 1 0 -7.1 0M1316.0 1158.6a3.55 3.55 0 1 0 7.1 0a3.55 3.55 0 1 0 -7.1 0M1316.0 1163.1a3.55 3.55 0 1 0 7.1 0a3.55 3.55 0 1 0 -7.1 0M1316.0 1167.6a3.55 3.55 0 1 0 7.1 0a3.55 3.55 0 1 0 -7.1 0M1316.0 1172.1a3.55 3.55 0 1 0 7.1 0a3.55 3.55 0 1 0 -7.1 0M1316.0 1176.6a3.55 3.55 0 1 0 7.1 0a3.55 3.55 0 1 0 -7.1 0M1316.0 1181.1a3.55 3.55 0 1 0 7.1 0a3.55 3.55 0 1 0 -7.1 0M1316.0 1185.7a3.55 3.55 0 1 0 7.1 0a3.55 3.55 0 1 0 -7.1 0M1316.0 1190.2a3.55 3.55 0 1 0 7.1 0a3.55 3.55 0 1 0 -7.1 0M1316.0 1194.7a3.55 3.55 0 1 0 7.1 0a3.55 3.55 0 1 0 -7.1 0M1316.0 1199.2a3.55 3.55 0 1 0 7.1 0a3.55 3.55 0 1 0 -7.1 0M1316.0 1203.7a3.55 3.55 0 1 0 7.1 0a3.55 3.55 0 1 0 -7.1 0M1316.0 1208.2a3.55 3.55 0 1 0 7.1 0a3.55 3.55 0 1 0 -7.1 0M1316.0 1212.7a3.55 3.55 0 1 0 7.1 0a3.55 3.55 0 1 0 -7.1 0M1316.0 1217.2a3.55 3.55 0 1 0 7.1 0a3.55 3.55 0 1 0 -7.1 0M1316.0 1221.8a3.55 3.55 0 1 0 7.1 0a3.55 3.55 0 1 0 -7.1 0M1316.0 1226.3a3.55 3.55 0 1 0 7.1 0a3.55 3.55 0 1 0 -7.1 0M1316.0 1230.8a3.55 3.55 0 1 0 7.1 0a3.55 3.55 0 1 0 -7.1 0M1316.0 1235.3a3.55 3.55 0 1 0 7.1 0a3.55 3.55 0 1 0 -7.1 0M1316.0 1239.8a3.55 3.55 0 1 0 7.1 0a3.55 3.55 0 1 0 -7.1 0M1318.2 1041.2a3.55 3.55 0 1 0 7.1 0a3.55 3.55 0 1 0 -7.1 0M1318.2 1077.3a3.55 3.55 0 1 0 7.1 0a3.55 3.55 0 1 0 -7.1 0M1318.2 1090.9a3.55 3.55 0 1 0 7.1 0a3.55 3.55 0 1 0 -7.1 0M1318.2 1095.4a3.55 3.55 0 1 0 7.1 0a3.55 3.55 0 1 0 -7.1 0M1318.2 1099.9a3.55 3.55 0 1 0 7.1 0a3.55 3.55 0 1 0 -7.1 0M1318.2 1104.4a3.55 3.55 0 1 0 7.1 0a3.55 3.55 0 1 0 -7.1 0M1318.2 1108.9a3.55 3.55 0 1 0 7.1 0a3.55 3.55 0 1 0 -7.1 0M1318.2 1113.4a3.55 3.55 0 1 0 7.1 0a3.55 3.55 0 1 0 -7.1 0M1318.2 1117.9a3.55 3.55 0 1 0 7.1 0a3.55 3.55 0 1 0 -7.1 0M1318.2 1122.5a3.55 3.55 0 1 0 7.1 0a3.55 3.55 0 1 0 -7.1 0M1318.2 1127.0a3.55 3.55 0 1 0 7.1 0a3.55 3.55 0 1 0 -7.1 0M1318.2 1131.5a3.55 3.55 0 1 0 7.1 0a3.55 3.55 0 1 0 -7.1 0M1318.2 1136.0a3.55 3.55 0 1 0 7.1 0a3.55 3.55 0 1 0 -7.1 0M1318.2 1140.5a3.55 3.55 0 1 0 7.1 0a3.55 3.55 0 1 0 -7.1 0M1318.2 1145.0a3.55 3.55 0 1 0 7.1 0a3.55 3.55 0 1 0 -7.1 0M1318.2 1149.5a3.55 3.55 0 1 0 7.1 0a3.55 3.55 0 1 0 -7.1 0M1318.2 1154.1a3.55 3.55 0 1 0 7.1 0a3.55 3.55 0 1 0 -7.1 0M1318.2 1158.6a3.55 3.55 0 1 0 7.1 0a3.55 3.55 0 1 0 -7.1 0M1318.2 1163.1a3.55 3.55 0 1 0 7.1 0a3.55 3.55 0 1 0 -7.1 0M1318.2 1167.6a3.55 3.55 0 1 0 7.1 0a3.55 3.55 0 1 0 -7.1 0M1318.2 1172.1a3.55 3.55 0 1 0 7.1 0a3.55 3.55 0 1 0 -7.1 0M1318.2 1176.6a3.55 3.55 0 1 0 7.1 0a3.55 3.55 0 1 0 -7.1 0M1318.2 1181.1a3.55 3.55 0 1 0 7.1 0a3.55 3.55 0 1 0 -7.1 0M1318.2 1185.7a3.55 3.55 0 1 0 7.1 0a3.55 3.55 0 1 0 -7.1 0M1318.2 1190.2a3.55 3.55 0 1 0 7.1 0a3.55 3.55 0 1 0 -7.1 0M1318.2 1194.7a3.55 3.55 0 1 0 7.1 0a3.55 3.55 0 1 0 -7.1 0M1318.2 1199.2a3.55 3.55 0 1 0 7.1 0a3.55 3.55 0 1 0 -7.1 0M1318.2 1203.7a3.55 3.55 0 1 0 7.1 0a3.55 3.55 0 1 0 -7.1 0M1318.2 1208.2a3.55 3.55 0 1 0 7.1 0a3.55 3.55 0 1 0 -7.1 0M1318.2 1212.7a3.55 3.55 0 1 0 7.1 0a3.55 3.55 0 1 0 -7.1 0M1318.2 1217.2a3.55 3.55 0 1 0 7.1 0a3.55 3.55 0 1 0 -7.1 0M1318.2 1221.8a3.55 3.55 0 1 0 7.1 0a3.55 3.55 0 1 0 -7.1 0M1318.2 1226.3a3.55 3.55 0 1 0 7.1 0a3.55 3.55 0 1 0 -7.1 0M1318.2 1230.8a3.55 3.55 0 1 0 7.1 0a3.55 3.55 0 1 0 -7.1 0M1318.2 1235.3a3.55 3.55 0 1 0 7.1 0a3.55 3.55 0 1 0 -7.1 0M1318.2 1239.8a3.55 3.55 0 1 0 7.1 0a3.55 3.55 0 1 0 -7.1 0M1312.5 1108.9a3.55 3.55 0 1 0 7.1 0a3.55 3.55 0 1 0 -7.1 0M1312.5 1113.4a3.55 3.55 0 1 0 7.1 0a3.55 3.55 0 1 0 -7.1 0M1312.5 1117.9a3.55 3.55 0 1 0 7.1 0a3.55 3.55 0 1 0 -7.1 0M1312.5 1122.5a3.55 3.55 0 1 0 7.1 0a3.55 3.55 0 1 0 -7.1 0M1312.5 1127.0a3.55 3.55 0 1 0 7.1 0a3.55 3.55 0 1 0 -7.1 0M1312.5 1131.5a3.55 3.55 0 1 0 7.1 0a3.55 3.55 0 1 0 -7.1 0M1312.5 1136.0a3.55 3.55 0 1 0 7.1 0a3.55 3.55 0 1 0 -7.1 0M1312.5 1140.5a3.55 3.55 0 1 0 7.1 0a3.55 3.55 0 1 0 -7.1 0M1312.5 1145.0a3.55 3.55 0 1 0 7.1 0a3.55 3.55 0 1 0 -7.1 0M1312.5 1149.5a3.55 3.55 0 1 0 7.1 0a3.55 3.55 0 1 0 -7.1 0M1312.5 1154.1a3.55 3.55 0 1 0 7.1 0a3.55 3.55 0 1 0 -7.1 0M1312.5 1158.6a3.55 3.55 0 1 0 7.1 0a3.55 3.55 0 1 0 -7.1 0M1312.5 1163.1a3.55 3.55 0 1 0 7.1 0a3.55 3.55 0 1 0 -7.1 0M1312.5 1167.6a3.55 3.55 0 1 0 7.1 0a3.55 3.55 0 1 0 -7.1 0M1312.5 1172.1a3.55 3.55 0 1 0 7.1 0a3.55 3.55 0 1 0 -7.1 0M1312.5 1176.6a3.55 3.55 0 1 0 7.1 0a3.55 3.55 0 1 0 -7.1 0M1312.5 1181.1a3.55 3.55 0 1 0 7.1 0a3.55 3.55 0 1 0 -7.1 0M1312.5 1185.7a3.55 3.55 0 1 0 7.1 0a3.55 3.55 0 1 0 -7.1 0M1312.5 1190.2a3.55 3.55 0 1 0 7.1 0a3.55 3.55 0 1 0 -7.1 0M1312.5 1194.7a3.55 3.55 0 1 0 7.1 0a3.55 3.55 0 1 0 -7.1 0M1312.5 1199.2a3.55 3.55 0 1 0 7.1 0a3.55 3.55 0 1 0 -7.1 0M1312.5 1203.7a3.55 3.55 0 1 0 7.1 0a3.55 3.55 0 1 0 -7.1 0M1312.5 1208.2a3.55 3.55 0 1 0 7.1 0a3.55 3.55 0 1 0 -7.1 0M1312.5 1212.7a3.55 3.55 0 1 0 7.1 0a3.55 3.55 0 1 0 -7.1 0M1312.5 1217.2a3.55 3.55 0 1 0 7.1 0a3.55 3.55 0 1 0 -7.1 0M1312.5 1221.8a3.55 3.55 0 1 0 7.1 0a3.55 3.55 0 1 0 -7.1 0M1312.5 1226.3a3.55 3.55 0 1 0 7.1 0a3.55 3.55 0 1 0 -7.1 0M1312.5 1230.8a3.55 3.55 0 1 0 7.1 0a3.55 3.55 0 1 0 -7.1 0M1312.5 1235.3a3.55 3.55 0 1 0 7.1 0a3.55 3.55 0 1 0 -7.1 0M1312.5 1239.8a3.55 3.55 0 1 0 7.1 0a3.55 3.55 0 1 0 -7.1 0M1322.5 1090.9a3.55 3.55 0 1 0 7.1 0a3.55 3.55 0 1 0 -7.1 0M1322.5 1095.4a3.55 3.55 0 1 0 7.1 0a3.55 3.55 0 1 0 -7.1 0M1322.5 1117.9a3.55 3.55 0 1 0 7.1 0a3.55 3.55 0 1 0 -7.1 0M1322.5 1122.5a3.55 3.55 0 1 0 7.1 0a3.55 3.55 0 1 0 -7.1 0M1322.5 1127.0a3.55 3.55 0 1 0 7.1 0a3.55 3.55 0 1 0 -7.1 0M1322.5 1131.5a3.55 3.55 0 1 0 7.1 0a3.55 3.55 0 1 0 -7.1 0M1322.5 1136.0a3.55 3.55 0 1 0 7.1 0a3.55 3.55 0 1 0 -7.1 0M1322.5 1140.5a3.55 3.55 0 1 0 7.1 0a3.55 3.55 0 1 0 -7.1 0M1322.5 1145.0a3.55 3.55 0 1 0 7.1 0a3.55 3.55 0 1 0 -7.1 0M1322.5 1149.5a3.55 3.55 0 1 0 7.1 0a3.55 3.55 0 1 0 -7.1 0M1322.5 1154.1a3.55 3.55 0 1 0 7.1 0a3.55 3.55 0 1 0 -7.1 0M1322.5 1158.6a3.55 3.55 0 1 0 7.1 0a3.55 3.55 0 1 0 -7.1 0M1322.5 1163.1a3.55 3.55 0 1 0 7.1 0a3.55 3.55 0 1 0 -7.1 0M1322.5 1167.6a3.55 3.55 0 1 0 7.1 0a3.55 3.55 0 1 0 -7.1 0M1322.5 1172.1a3.55 3.55 0 1 0 7.1 0a3.55 3.55 0 1 0 -7.1 0M1322.5 1176.6a3.55 3.55 0 1 0 7.1 0a3.55 3.55 0 1 0 -7.1 0M1322.5 1181.1a3.55 3.55 0 1 0 7.1 0a3.55 3.55 0 1 0 -7.1 0M1322.5 1185.7a3.55 3.55 0 1 0 7.1 0a3.55 3.55 0 1 0 -7.1 0M1322.5 1190.2a3.55 3.55 0 1 0 7.1 0a3.55 3.55 0 1 0 -7.1 0M1322.5 1194.7a3.55 3.55 0 1 0 7.1 0a3.55 3.55 0 1 0 -7.1 0M1322.5 1199.2a3.55 3.55 0 1 0 7.1 0a3.55 3.55 0 1 0 -7.1 0M1322.5 1203.7a3.55 3.55 0 1 0 7.1 0a3.55 3.55 0 1 0 -7.1 0M1322.5 1208.2a3.55 3.55 0 1 0 7.1 0a3.55 3.55 0 1 0 -7.1 0M1322.5 1212.7a3.55 3.55 0 1 0 7.1 0a3.55 3.55 0 1 0 -7.1 0M1322.5 1217.2a3.55 3.55 0 1 0 7.1 0a3.55 3.55 0 1 0 -7.1 0M1322.5 1221.8a3.55 3.55 0 1 0 7.1 0a3.55 3.55 0 1 0 -7.1 0M1322.5 1226.3a3.55 3.55 0 1 0 7.1 0a3.55 3.55 0 1 0 -7.1 0M1322.5 1230.8a3.55 3.55 0 1 0 7.1 0a3.55 3.55 0 1 0 -7.1 0M1322.5 1235.3a3.55 3.55 0 1 0 7.1 0a3.55 3.55 0 1 0 -7.1 0M1322.5 1239.8a3.55 3.55 0 1 0 7.1 0a3.55 3.55 0 1 0 -7.1 0M1337.5 1113.4a3.55 3.55 0 1 0 7.1 0a3.55 3.55 0 1 0 -7.1 0M1337.5 1131.5a3.55 3.55 0 1 0 7.1 0a3.55 3.55 0 1 0 -7.1 0M1337.5 1136.0a3.55 3.55 0 1 0 7.1 0a3.55 3.55 0 1 0 -7.1 0M1337.5 1145.0a3.55 3.55 0 1 0 7.1 0a3.55 3.55 0 1 0 -7.1 0M1337.5 1158.6a3.55 3.55 0 1 0 7.1 0a3.55 3.55 0 1 0 -7.1 0M1337.5 1167.6a3.55 3.55 0 1 0 7.1 0a3.55 3.55 0 1 0 -7.1 0M1337.5 1172.1a3.55 3.55 0 1 0 7.1 0a3.55 3.55 0 1 0 -7.1 0M1337.5 1176.6a3.55 3.55 0 1 0 7.1 0a3.55 3.55 0 1 0 -7.1 0M1337.5 1181.1a3.55 3.55 0 1 0 7.1 0a3.55 3.55 0 1 0 -7.1 0M1337.5 1185.7a3.55 3.55 0 1 0 7.1 0a3.55 3.55 0 1 0 -7.1 0M1337.5 1190.2a3.55 3.55 0 1 0 7.1 0a3.55 3.55 0 1 0 -7.1 0M1337.5 1194.7a3.55 3.55 0 1 0 7.1 0a3.55 3.55 0 1 0 -7.1 0M1337.5 1199.2a3.55 3.55 0 1 0 7.1 0a3.55 3.55 0 1 0 -7.1 0M1337.5 1203.7a3.55 3.55 0 1 0 7.1 0a3.55 3.55 0 1 0 -7.1 0M1337.5 1208.2a3.55 3.55 0 1 0 7.1 0a3.55 3.55 0 1 0 -7.1 0M1337.5 1212.7a3.55 3.55 0 1 0 7.1 0a3.55 3.55 0 1 0 -7.1 0M1337.5 1217.2a3.55 3.55 0 1 0 7.1 0a3.55 3.55 0 1 0 -7.1 0M1337.5 1221.8a3.55 3.55 0 1 0 7.1 0a3.55 3.55 0 1 0 -7.1 0M1337.5 1226.3a3.55 3.55 0 1 0 7.1 0a3.55 3.55 0 1 0 -7.1 0M1337.5 1230.8a3.55 3.55 0 1 0 7.1 0a3.55 3.55 0 1 0 -7.1 0M1337.5 1235.3a3.55 3.55 0 1 0 7.1 0a3.55 3.55 0 1 0 -7.1 0M1337.5 1239.8a3.55 3.55 0 1 0 7.1 0a3.55 3.55 0 1 0 -7.1 0M1337.5 1244.3a3.55 3.55 0 1 0 7.1 0a3.55 3.55 0 1 0 -7.1 0M1334.5 1176.6a3.55 3.55 0 1 0 7.1 0a3.55 3.55 0 1 0 -7.1 0M1334.5 1190.2a3.55 3.55 0 1 0 7.1 0a3.55 3.55 0 1 0 -7.1 0M1334.5 1203.7a3.55 3.55 0 1 0 7.1 0a3.55 3.55 0 1 0 -7.1 0M1334.5 1217.2a3.55 3.55 0 1 0 7.1 0a3.55 3.55 0 1 0 -7.1 0M1334.5 1230.8a3.55 3.55 0 1 0 7.1 0a3.55 3.55 0 1 0 -7.1 0M1334.5 1244.3a3.55 3.55 0 1 0 7.1 0a3.55 3.55 0 1 0 -7.1 0M1343.0 1136.0a3.55 3.55 0 1 0 7.1 0a3.55 3.55 0 1 0 -7.1 0M1343.0 1140.5a3.55 3.55 0 1 0 7.1 0a3.55 3.55 0 1 0 -7.1 0M1343.0 1154.1a3.55 3.55 0 1 0 7.1 0a3.55 3.55 0 1 0 -7.1 0M1343.0 1190.2a3.55 3.55 0 1 0 7.1 0a3.55 3.55 0 1 0 -7.1 0M1343.0 1199.2a3.55 3.55 0 1 0 7.1 0a3.55 3.55 0 1 0 -7.1 0M1343.0 1208.2a3.55 3.55 0 1 0 7.1 0a3.55 3.55 0 1 0 -7.1 0M1343.0 1217.2a3.55 3.55 0 1 0 7.1 0a3.55 3.55 0 1 0 -7.1 0M1343.0 1226.3a3.55 3.55 0 1 0 7.1 0a3.55 3.55 0 1 0 -7.1 0M1343.0 1235.3a3.55 3.55 0 1 0 7.1 0a3.55 3.55 0 1 0 -7.1 0M1343.0 1244.3a3.55 3.55 0 1 0 7.1 0a3.55 3.55 0 1 0 -7.1 0M1350.0 1149.5a3.55 3.55 0 1 0 7.1 0a3.55 3.55 0 1 0 -7.1 0M1350.0 1154.1a3.55 3.55 0 1 0 7.1 0a3.55 3.55 0 1 0 -7.1 0M1350.0 1158.6a3.55 3.55 0 1 0 7.1 0a3.55 3.55 0 1 0 -7.1 0M1350.0 1163.1a3.55 3.55 0 1 0 7.1 0a3.55 3.55 0 1 0 -7.1 0M1350.0 1167.6a3.55 3.55 0 1 0 7.1 0a3.55 3.55 0 1 0 -7.1 0M1350.0 1172.1a3.55 3.55 0 1 0 7.1 0a3.55 3.55 0 1 0 -7.1 0M1350.0 1181.1a3.55 3.55 0 1 0 7.1 0a3.55 3.55 0 1 0 -7.1 0M1350.0 1190.2a3.55 3.55 0 1 0 7.1 0a3.55 3.55 0 1 0 -7.1 0M1350.0 1199.2a3.55 3.55 0 1 0 7.1 0a3.55 3.55 0 1 0 -7.1 0M1350.0 1208.2a3.55 3.55 0 1 0 7.1 0a3.55 3.55 0 1 0 -7.1 0M1350.0 1217.2a3.55 3.55 0 1 0 7.1 0a3.55 3.55 0 1 0 -7.1 0M1350.0 1226.3a3.55 3.55 0 1 0 7.1 0a3.55 3.55 0 1 0 -7.1 0M1350.0 1235.3a3.55 3.55 0 1 0 7.1 0a3.55 3.55 0 1 0 -7.1 0M1350.0 1244.3a3.55 3.55 0 1 0 7.1 0a3.55 3.55 0 1 0 -7.1 0M1352.5 1108.9a3.55 3.55 0 1 0 7.1 0a3.55 3.55 0 1 0 -7.1 0M1355.0 1136.0a3.55 3.55 0 1 0 7.1 0a3.55 3.55 0 1 0 -7.1 0M1355.0 1163.1a3.55 3.55 0 1 0 7.1 0a3.55 3.55 0 1 0 -7.1 0M1355.0 1181.1a3.55 3.55 0 1 0 7.1 0a3.55 3.55 0 1 0 -7.1 0M1355.0 1185.7a3.55 3.55 0 1 0 7.1 0a3.55 3.55 0 1 0 -7.1 0M1355.0 1190.2a3.55 3.55 0 1 0 7.1 0a3.55 3.55 0 1 0 -7.1 0M1355.0 1194.7a3.55 3.55 0 1 0 7.1 0a3.55 3.55 0 1 0 -7.1 0M1355.0 1199.2a3.55 3.55 0 1 0 7.1 0a3.55 3.55 0 1 0 -7.1 0M1355.0 1203.7a3.55 3.55 0 1 0 7.1 0a3.55 3.55 0 1 0 -7.1 0M1355.0 1208.2a3.55 3.55 0 1 0 7.1 0a3.55 3.55 0 1 0 -7.1 0M1355.0 1212.7a3.55 3.55 0 1 0 7.1 0a3.55 3.55 0 1 0 -7.1 0M1355.0 1217.2a3.55 3.55 0 1 0 7.1 0a3.55 3.55 0 1 0 -7.1 0M1355.0 1221.8a3.55 3.55 0 1 0 7.1 0a3.55 3.55 0 1 0 -7.1 0M1355.0 1226.3a3.55 3.55 0 1 0 7.1 0a3.55 3.55 0 1 0 -7.1 0M1355.0 1230.8a3.55 3.55 0 1 0 7.1 0a3.55 3.55 0 1 0 -7.1 0M1355.0 1235.3a3.55 3.55 0 1 0 7.1 0a3.55 3.55 0 1 0 -7.1 0M1355.0 1239.8a3.55 3.55 0 1 0 7.1 0a3.55 3.55 0 1 0 -7.1 0M1355.0 1244.3a3.55 3.55 0 1 0 7.1 0a3.55 3.55 0 1 0 -7.1 0M1361.0 1122.5a3.55 3.55 0 1 0 7.1 0a3.55 3.55 0 1 0 -7.1 0M1361.0 1212.7a3.55 3.55 0 1 0 7.1 0a3.55 3.55 0 1 0 -7.1 0M1361.0 1217.2a3.55 3.55 0 1 0 7.1 0a3.55 3.55 0 1 0 -7.1 0M1361.0 1221.8a3.55 3.55 0 1 0 7.1 0a3.55 3.55 0 1 0 -7.1 0M1361.0 1226.3a3.55 3.55 0 1 0 7.1 0a3.55 3.55 0 1 0 -7.1 0M1361.0 1230.8a3.55 3.55 0 1 0 7.1 0a3.55 3.55 0 1 0 -7.1 0M1361.0 1235.3a3.55 3.55 0 1 0 7.1 0a3.55 3.55 0 1 0 -7.1 0M1361.0 1239.8a3.55 3.55 0 1 0 7.1 0a3.55 3.55 0 1 0 -7.1 0M1361.0 1244.3a3.55 3.55 0 1 0 7.1 0a3.55 3.55 0 1 0 -7.1 0M1364.5 1104.4a3.55 3.55 0 1 0 7.1 0a3.55 3.55 0 1 0 -7.1 0M1364.5 1149.5a3.55 3.55 0 1 0 7.1 0a3.55 3.55 0 1 0 -7.1 0M1364.5 1185.7a3.55 3.55 0 1 0 7.1 0a3.55 3.55 0 1 0 -7.1 0M1364.5 1199.2a3.55 3.55 0 1 0 7.1 0a3.55 3.55 0 1 0 -7.1 0M1364.5 1203.7a3.55 3.55 0 1 0 7.1 0a3.55 3.55 0 1 0 -7.1 0M1364.5 1221.8a3.55 3.55 0 1 0 7.1 0a3.55 3.55 0 1 0 -7.1 0M1364.5 1226.3a3.55 3.55 0 1 0 7.1 0a3.55 3.55 0 1 0 -7.1 0M1364.5 1230.8a3.55 3.55 0 1 0 7.1 0a3.55 3.55 0 1 0 -7.1 0M1364.5 1235.3a3.55 3.55 0 1 0 7.1 0a3.55 3.55 0 1 0 -7.1 0M1364.5 1239.8a3.55 3.55 0 1 0 7.1 0a3.55 3.55 0 1 0 -7.1 0M1364.5 1244.3a3.55 3.55 0 1 0 7.1 0a3.55 3.55 0 1 0 -7.1 0M1312.5 1244.3a3.55 3.55 0 1 0 7.1 0a3.55 3.55 0 1 0 -7.1 0M1312.5 1248.8a3.55 3.55 0 1 0 7.1 0a3.55 3.55 0 1 0 -7.1 0M1312.5 1253.4a3.55 3.55 0 1 0 7.1 0a3.55 3.55 0 1 0 -7.1 0M1312.5 1257.9a3.55 3.55 0 1 0 7.1 0a3.55 3.55 0 1 0 -7.1 0M1312.5 1262.4a3.55 3.55 0 1 0 7.1 0a3.55 3.55 0 1 0 -7.1 0M1312.5 1266.9a3.55 3.55 0 1 0 7.1 0a3.55 3.55 0 1 0 -7.1 0M1312.5 1271.4a3.55 3.55 0 1 0 7.1 0a3.55 3.55 0 1 0 -7.1 0M1312.5 1275.9a3.55 3.55 0 1 0 7.1 0a3.55 3.55 0 1 0 -7.1 0M1312.5 1280.4a3.55 3.55 0 1 0 7.1 0a3.55 3.55 0 1 0 -7.1 0M1312.5 1284.9a3.55 3.55 0 1 0 7.1 0a3.55 3.55 0 1 0 -7.1 0M1312.5 1289.5a3.55 3.55 0 1 0 7.1 0a3.55 3.55 0 1 0 -7.1 0M1312.5 1294.0a3.55 3.55 0 1 0 7.1 0a3.55 3.55 0 1 0 -7.1 0M1312.5 1298.5a3.55 3.55 0 1 0 7.1 0a3.55 3.55 0 1 0 -7.1 0M1312.5 1303.0a3.55 3.55 0 1 0 7.1 0a3.55 3.55 0 1 0 -7.1 0M1312.5 1307.5a3.55 3.55 0 1 0 7.1 0a3.55 3.55 0 1 0 -7.1 0M1312.5 1312.0a3.55 3.55 0 1 0 7.1 0a3.55 3.55 0 1 0 -7.1 0M1312.5 1316.5a3.55 3.55 0 1 0 7.1 0a3.55 3.55 0 1 0 -7.1 0M1312.5 1321.1a3.55 3.55 0 1 0 7.1 0a3.55 3.55 0 1 0 -7.1 0M1312.5 1325.6a3.55 3.55 0 1 0 7.1 0a3.55 3.55 0 1 0 -7.1 0M1312.5 1330.1a3.55 3.55 0 1 0 7.1 0a3.55 3.55 0 1 0 -7.1 0M1312.5 1334.6a3.55 3.55 0 1 0 7.1 0a3.55 3.55 0 1 0 -7.1 0M1312.5 1339.1a3.55 3.55 0 1 0 7.1 0a3.55 3.55 0 1 0 -7.1 0M1312.5 1343.6a3.55 3.55 0 1 0 7.1 0a3.55 3.55 0 1 0 -7.1 0M1312.5 1348.1a3.55 3.55 0 1 0 7.1 0a3.55 3.55 0 1 0 -7.1 0M1312.5 1352.7a3.55 3.55 0 1 0 7.1 0a3.55 3.55 0 1 0 -7.1 0M1312.5 1357.2a3.55 3.55 0 1 0 7.1 0a3.55 3.55 0 1 0 -7.1 0M1312.5 1361.7a3.55 3.55 0 1 0 7.1 0a3.55 3.55 0 1 0 -7.1 0M1312.5 1366.2a3.55 3.55 0 1 0 7.1 0a3.55 3.55 0 1 0 -7.1 0M1312.5 1370.7a3.55 3.55 0 1 0 7.1 0a3.55 3.55 0 1 0 -7.1 0M1312.5 1375.2a3.55 3.55 0 1 0 7.1 0a3.55 3.55 0 1 0 -7.1 0M1312.5 1379.7a3.55 3.55 0 1 0 7.1 0a3.55 3.55 0 1 0 -7.1 0M1312.5 1384.2a3.55 3.55 0 1 0 7.1 0a3.55 3.55 0 1 0 -7.1 0M1312.5 1388.8a3.55 3.55 0 1 0 7.1 0a3.55 3.55 0 1 0 -7.1 0M1312.5 1393.3a3.55 3.55 0 1 0 7.1 0a3.55 3.55 0 1 0 -7.1 0M1312.5 1397.8a3.55 3.55 0 1 0 7.1 0a3.55 3.55 0 1 0 -7.1 0M1312.5 1402.3a3.55 3.55 0 1 0 7.1 0a3.55 3.55 0 1 0 -7.1 0M1317.0 1230.8a3.55 3.55 0 1 0 7.1 0a3.55 3.55 0 1 0 -7.1 0M1317.0 1235.3a3.55 3.55 0 1 0 7.1 0a3.55 3.55 0 1 0 -7.1 0M1317.0 1239.8a3.55 3.55 0 1 0 7.1 0a3.55 3.55 0 1 0 -7.1 0M1317.0 1244.3a3.55 3.55 0 1 0 7.1 0a3.55 3.55 0 1 0 -7.1 0M1317.0 1248.8a3.55 3.55 0 1 0 7.1 0a3.55 3.55 0 1 0 -7.1 0M1317.0 1253.4a3.55 3.55 0 1 0 7.1 0a3.55 3.55 0 1 0 -7.1 0M1317.0 1257.9a3.55 3.55 0 1 0 7.1 0a3.55 3.55 0 1 0 -7.1 0M1317.0 1262.4a3.55 3.55 0 1 0 7.1 0a3.55 3.55 0 1 0 -7.1 0M1317.0 1266.9a3.55 3.55 0 1 0 7.1 0a3.55 3.55 0 1 0 -7.1 0M1317.0 1271.4a3.55 3.55 0 1 0 7.1 0a3.55 3.55 0 1 0 -7.1 0M1317.0 1275.9a3.55 3.55 0 1 0 7.1 0a3.55 3.55 0 1 0 -7.1 0M1317.0 1280.4a3.55 3.55 0 1 0 7.1 0a3.55 3.55 0 1 0 -7.1 0M1317.0 1284.9a3.55 3.55 0 1 0 7.1 0a3.55 3.55 0 1 0 -7.1 0M1317.0 1289.5a3.55 3.55 0 1 0 7.1 0a3.55 3.55 0 1 0 -7.1 0M1317.0 1294.0a3.55 3.55 0 1 0 7.1 0a3.55 3.55 0 1 0 -7.1 0M1317.0 1298.5a3.55 3.55 0 1 0 7.1 0a3.55 3.55 0 1 0 -7.1 0M1317.0 1303.0a3.55 3.55 0 1 0 7.1 0a3.55 3.55 0 1 0 -7.1 0M1317.0 1307.5a3.55 3.55 0 1 0 7.1 0a3.55 3.55 0 1 0 -7.1 0M1317.0 1312.0a3.55 3.55 0 1 0 7.1 0a3.55 3.55 0 1 0 -7.1 0M1317.0 1316.5a3.55 3.55 0 1 0 7.1 0a3.55 3.55 0 1 0 -7.1 0M1317.0 1321.1a3.55 3.55 0 1 0 7.1 0a3.55 3.55 0 1 0 -7.1 0M1317.0 1325.6a3.55 3.55 0 1 0 7.1 0a3.55 3.55 0 1 0 -7.1 0M1317.0 1330.1a3.55 3.55 0 1 0 7.1 0a3.55 3.55 0 1 0 -7.1 0M1317.0 1334.6a3.55 3.55 0 1 0 7.1 0a3.55 3.55 0 1 0 -7.1 0M1317.0 1339.1a3.55 3.55 0 1 0 7.1 0a3.55 3.55 0 1 0 -7.1 0M1317.0 1343.6a3.55 3.55 0 1 0 7.1 0a3.55 3.55 0 1 0 -7.1 0M1317.0 1348.1a3.55 3.55 0 1 0 7.1 0a3.55 3.55 0 1 0 -7.1 0M1317.0 1352.7a3.55 3.55 0 1 0 7.1 0a3.55 3.55 0 1 0 -7.1 0M1317.0 1357.2a3.55 3.55 0 1 0 7.1 0a3.55 3.55 0 1 0 -7.1 0M1317.0 1361.7a3.55 3.55 0 1 0 7.1 0a3.55 3.55 0 1 0 -7.1 0M1317.0 1366.2a3.55 3.55 0 1 0 7.1 0a3.55 3.55 0 1 0 -7.1 0M1317.0 1370.7a3.55 3.55 0 1 0 7.1 0a3.55 3.55 0 1 0 -7.1 0M1317.0 1375.2a3.55 3.55 0 1 0 7.1 0a3.55 3.55 0 1 0 -7.1 0M1317.0 1379.7a3.55 3.55 0 1 0 7.1 0a3.55 3.55 0 1 0 -7.1 0M1317.0 1384.2a3.55 3.55 0 1 0 7.1 0a3.55 3.55 0 1 0 -7.1 0M1317.0 1388.8a3.55 3.55 0 1 0 7.1 0a3.55 3.55 0 1 0 -7.1 0M1317.0 1393.3a3.55 3.55 0 1 0 7.1 0a3.55 3.55 0 1 0 -7.1 0M1317.0 1397.8a3.55 3.55 0 1 0 7.1 0a3.55 3.55 0 1 0 -7.1 0M1317.0 1402.3a3.55 3.55 0 1 0 7.1 0a3.55 3.55 0 1 0 -7.1 0M1320.8 1230.8a3.55 3.55 0 1 0 7.1 0a3.55 3.55 0 1 0 -7.1 0M1320.8 1235.3a3.55 3.55 0 1 0 7.1 0a3.55 3.55 0 1 0 -7.1 0M1320.8 1239.8a3.55 3.55 0 1 0 7.1 0a3.55 3.55 0 1 0 -7.1 0M1320.8 1244.3a3.55 3.55 0 1 0 7.1 0a3.55 3.55 0 1 0 -7.1 0M1320.8 1248.8a3.55 3.55 0 1 0 7.1 0a3.55 3.55 0 1 0 -7.1 0M1320.8 1253.4a3.55 3.55 0 1 0 7.1 0a3.55 3.55 0 1 0 -7.1 0M1320.8 1257.9a3.55 3.55 0 1 0 7.1 0a3.55 3.55 0 1 0 -7.1 0M1320.8 1262.4a3.55 3.55 0 1 0 7.1 0a3.55 3.55 0 1 0 -7.1 0M1320.8 1266.9a3.55 3.55 0 1 0 7.1 0a3.55 3.55 0 1 0 -7.1 0M1320.8 1271.4a3.55 3.55 0 1 0 7.1 0a3.55 3.55 0 1 0 -7.1 0M1320.8 1275.9a3.55 3.55 0 1 0 7.1 0a3.55 3.55 0 1 0 -7.1 0M1320.8 1280.4a3.55 3.55 0 1 0 7.1 0a3.55 3.55 0 1 0 -7.1 0M1320.8 1284.9a3.55 3.55 0 1 0 7.1 0a3.55 3.55 0 1 0 -7.1 0M1320.8 1289.5a3.55 3.55 0 1 0 7.1 0a3.55 3.55 0 1 0 -7.1 0M1320.8 1294.0a3.55 3.55 0 1 0 7.1 0a3.55 3.55 0 1 0 -7.1 0M1320.8 1298.5a3.55 3.55 0 1 0 7.1 0a3.55 3.55 0 1 0 -7.1 0M1320.8 1303.0a3.55 3.55 0 1 0 7.1 0a3.55 3.55 0 1 0 -7.1 0M1320.8 1307.5a3.55 3.55 0 1 0 7.1 0a3.55 3.55 0 1 0 -7.1 0M1320.8 1312.0a3.55 3.55 0 1 0 7.1 0a3.55 3.55 0 1 0 -7.1 0M1320.8 1316.5a3.55 3.55 0 1 0 7.1 0a3.55 3.55 0 1 0 -7.1 0M1320.8 1321.1a3.55 3.55 0 1 0 7.1 0a3.55 3.55 0 1 0 -7.1 0M1320.8 1325.6a3.55 3.55 0 1 0 7.1 0a3.55 3.55 0 1 0 -7.1 0M1320.8 1330.1a3.55 3.55 0 1 0 7.1 0a3.55 3.55 0 1 0 -7.1 0M1320.8 1334.6a3.55 3.55 0 1 0 7.1 0a3.55 3.55 0 1 0 -7.1 0M1319.5 1339.1a3.55 3.55 0 1 0 7.1 0a3.55 3.55 0 1 0 -7.1 0M1319.5 1343.6a3.55 3.55 0 1 0 7.1 0a3.55 3.55 0 1 0 -7.1 0M1319.5 1348.1a3.55 3.55 0 1 0 7.1 0a3.55 3.55 0 1 0 -7.1 0M1319.5 1352.7a3.55 3.55 0 1 0 7.1 0a3.55 3.55 0 1 0 -7.1 0M1319.5 1357.2a3.55 3.55 0 1 0 7.1 0a3.55 3.55 0 1 0 -7.1 0M1319.5 1361.7a3.55 3.55 0 1 0 7.1 0a3.55 3.55 0 1 0 -7.1 0M1319.5 1366.2a3.55 3.55 0 1 0 7.1 0a3.55 3.55 0 1 0 -7.1 0M1319.5 1370.7a3.55 3.55 0 1 0 7.1 0a3.55 3.55 0 1 0 -7.1 0M1319.5 1375.2a3.55 3.55 0 1 0 7.1 0a3.55 3.55 0 1 0 -7.1 0M1319.5 1379.7a3.55 3.55 0 1 0 7.1 0a3.55 3.55 0 1 0 -7.1 0M1319.5 1384.2a3.55 3.55 0 1 0 7.1 0a3.55 3.55 0 1 0 -7.1 0M1319.5 1388.8a3.55 3.55 0 1 0 7.1 0a3.55 3.55 0 1 0 -7.1 0M1335.5 1230.8a3.55 3.55 0 1 0 7.1 0a3.55 3.55 0 1 0 -7.1 0M1335.5 1235.3a3.55 3.55 0 1 0 7.1 0a3.55 3.55 0 1 0 -7.1 0M1335.5 1239.8a3.55 3.55 0 1 0 7.1 0a3.55 3.55 0 1 0 -7.1 0M1335.5 1244.3a3.55 3.55 0 1 0 7.1 0a3.55 3.55 0 1 0 -7.1 0M1335.5 1248.8a3.55 3.55 0 1 0 7.1 0a3.55 3.55 0 1 0 -7.1 0M1335.5 1253.4a3.55 3.55 0 1 0 7.1 0a3.55 3.55 0 1 0 -7.1 0M1335.5 1257.9a3.55 3.55 0 1 0 7.1 0a3.55 3.55 0 1 0 -7.1 0M1335.5 1262.4a3.55 3.55 0 1 0 7.1 0a3.55 3.55 0 1 0 -7.1 0M1335.5 1266.9a3.55 3.55 0 1 0 7.1 0a3.55 3.55 0 1 0 -7.1 0M1335.5 1271.4a3.55 3.55 0 1 0 7.1 0a3.55 3.55 0 1 0 -7.1 0M1335.5 1275.9a3.55 3.55 0 1 0 7.1 0a3.55 3.55 0 1 0 -7.1 0M1335.5 1280.4a3.55 3.55 0 1 0 7.1 0a3.55 3.55 0 1 0 -7.1 0M1335.5 1284.9a3.55 3.55 0 1 0 7.1 0a3.55 3.55 0 1 0 -7.1 0M1335.5 1289.5a3.55 3.55 0 1 0 7.1 0a3.55 3.55 0 1 0 -7.1 0M1335.5 1294.0a3.55 3.55 0 1 0 7.1 0a3.55 3.55 0 1 0 -7.1 0M1335.5 1298.5a3.55 3.55 0 1 0 7.1 0a3.55 3.55 0 1 0 -7.1 0M1335.5 1303.0a3.55 3.55 0 1 0 7.1 0a3.55 3.55 0 1 0 -7.1 0M1335.5 1307.5a3.55 3.55 0 1 0 7.1 0a3.55 3.55 0 1 0 -7.1 0M1335.5 1312.0a3.55 3.55 0 1 0 7.1 0a3.55 3.55 0 1 0 -7.1 0M1335.5 1316.5a3.55 3.55 0 1 0 7.1 0a3.55 3.55 0 1 0 -7.1 0M1335.5 1321.1a3.55 3.55 0 1 0 7.1 0a3.55 3.55 0 1 0 -7.1 0M1335.5 1325.6a3.55 3.55 0 1 0 7.1 0a3.55 3.55 0 1 0 -7.1 0M1335.5 1330.1a3.55 3.55 0 1 0 7.1 0a3.55 3.55 0 1 0 -7.1 0M1335.5 1334.6a3.55 3.55 0 1 0 7.1 0a3.55 3.55 0 1 0 -7.1 0M1335.5 1339.1a3.55 3.55 0 1 0 7.1 0a3.55 3.55 0 1 0 -7.1 0M1335.5 1343.6a3.55 3.55 0 1 0 7.1 0a3.55 3.55 0 1 0 -7.1 0M1335.5 1348.1a3.55 3.55 0 1 0 7.1 0a3.55 3.55 0 1 0 -7.1 0M1335.5 1352.7a3.55 3.55 0 1 0 7.1 0a3.55 3.55 0 1 0 -7.1 0M1335.5 1357.2a3.55 3.55 0 1 0 7.1 0a3.55 3.55 0 1 0 -7.1 0M1335.5 1361.7a3.55 3.55 0 1 0 7.1 0a3.55 3.55 0 1 0 -7.1 0M1335.5 1366.2a3.55 3.55 0 1 0 7.1 0a3.55 3.55 0 1 0 -7.1 0M1335.5 1370.7a3.55 3.55 0 1 0 7.1 0a3.55 3.55 0 1 0 -7.1 0M1340.0 1230.8a3.55 3.55 0 1 0 7.1 0a3.55 3.55 0 1 0 -7.1 0M1340.0 1239.8a3.55 3.55 0 1 0 7.1 0a3.55 3.55 0 1 0 -7.1 0M1340.0 1248.8a3.55 3.55 0 1 0 7.1 0a3.55 3.55 0 1 0 -7.1 0M1340.0 1257.9a3.55 3.55 0 1 0 7.1 0a3.55 3.55 0 1 0 -7.1 0M1340.0 1266.9a3.55 3.55 0 1 0 7.1 0a3.55 3.55 0 1 0 -7.1 0M1340.0 1275.9a3.55 3.55 0 1 0 7.1 0a3.55 3.55 0 1 0 -7.1 0M1340.0 1284.9a3.55 3.55 0 1 0 7.1 0a3.55 3.55 0 1 0 -7.1 0M1340.0 1294.0a3.55 3.55 0 1 0 7.1 0a3.55 3.55 0 1 0 -7.1 0M1340.0 1303.0a3.55 3.55 0 1 0 7.1 0a3.55 3.55 0 1 0 -7.1 0M1340.0 1312.0a3.55 3.55 0 1 0 7.1 0a3.55 3.55 0 1 0 -7.1 0M1340.0 1334.6a3.55 3.55 0 1 0 7.1 0a3.55 3.55 0 1 0 -7.1 0M1340.0 1343.6a3.55 3.55 0 1 0 7.1 0a3.55 3.55 0 1 0 -7.1 0M1340.0 1352.7a3.55 3.55 0 1 0 7.1 0a3.55 3.55 0 1 0 -7.1 0M1340.0 1393.3a3.55 3.55 0 1 0 7.1 0a3.55 3.55 0 1 0 -7.1 0M1340.0 1397.8a3.55 3.55 0 1 0 7.1 0a3.55 3.55 0 1 0 -7.1 0M1342.5 1370.7a3.55 3.55 0 1 0 7.1 0a3.55 3.55 0 1 0 -7.1 0M1342.5 1379.7a3.55 3.55 0 1 0 7.1 0a3.55 3.55 0 1 0 -7.1 0M1346.5 1235.3a3.55 3.55 0 1 0 7.1 0a3.55 3.55 0 1 0 -7.1 0M1346.5 1248.8a3.55 3.55 0 1 0 7.1 0a3.55 3.55 0 1 0 -7.1 0M1346.5 1262.4a3.55 3.55 0 1 0 7.1 0a3.55 3.55 0 1 0 -7.1 0M1346.5 1275.9a3.55 3.55 0 1 0 7.1 0a3.55 3.55 0 1 0 -7.1 0M1346.5 1289.5a3.55 3.55 0 1 0 7.1 0a3.55 3.55 0 1 0 -7.1 0M1346.5 1303.0a3.55 3.55 0 1 0 7.1 0a3.55 3.55 0 1 0 -7.1 0M1346.5 1316.5a3.55 3.55 0 1 0 7.1 0a3.55 3.55 0 1 0 -7.1 0M1346.5 1330.1a3.55 3.55 0 1 0 7.1 0a3.55 3.55 0 1 0 -7.1 0M1346.5 1339.1a3.55 3.55 0 1 0 7.1 0a3.55 3.55 0 1 0 -7.1 0M1346.5 1352.7a3.55 3.55 0 1 0 7.1 0a3.55 3.55 0 1 0 -7.1 0M1346.5 1366.2a3.55 3.55 0 1 0 7.1 0a3.55 3.55 0 1 0 -7.1 0M1352.0 1230.8a3.55 3.55 0 1 0 7.1 0a3.55 3.55 0 1 0 -7.1 0M1352.0 1235.3a3.55 3.55 0 1 0 7.1 0a3.55 3.55 0 1 0 -7.1 0M1352.0 1239.8a3.55 3.55 0 1 0 7.1 0a3.55 3.55 0 1 0 -7.1 0M1352.0 1244.3a3.55 3.55 0 1 0 7.1 0a3.55 3.55 0 1 0 -7.1 0M1352.0 1248.8a3.55 3.55 0 1 0 7.1 0a3.55 3.55 0 1 0 -7.1 0M1352.0 1253.4a3.55 3.55 0 1 0 7.1 0a3.55 3.55 0 1 0 -7.1 0M1352.0 1257.9a3.55 3.55 0 1 0 7.1 0a3.55 3.55 0 1 0 -7.1 0M1352.0 1262.4a3.55 3.55 0 1 0 7.1 0a3.55 3.55 0 1 0 -7.1 0M1352.0 1266.9a3.55 3.55 0 1 0 7.1 0a3.55 3.55 0 1 0 -7.1 0M1352.0 1271.4a3.55 3.55 0 1 0 7.1 0a3.55 3.55 0 1 0 -7.1 0M1352.0 1275.9a3.55 3.55 0 1 0 7.1 0a3.55 3.55 0 1 0 -7.1 0M1352.0 1280.4a3.55 3.55 0 1 0 7.1 0a3.55 3.55 0 1 0 -7.1 0M1352.0 1284.9a3.55 3.55 0 1 0 7.1 0a3.55 3.55 0 1 0 -7.1 0M1352.0 1289.5a3.55 3.55 0 1 0 7.1 0a3.55 3.55 0 1 0 -7.1 0M1352.0 1294.0a3.55 3.55 0 1 0 7.1 0a3.55 3.55 0 1 0 -7.1 0M1352.0 1298.5a3.55 3.55 0 1 0 7.1 0a3.55 3.55 0 1 0 -7.1 0M1352.0 1303.0a3.55 3.55 0 1 0 7.1 0a3.55 3.55 0 1 0 -7.1 0M1352.0 1307.5a3.55 3.55 0 1 0 7.1 0a3.55 3.55 0 1 0 -7.1 0M1352.0 1312.0a3.55 3.55 0 1 0 7.1 0a3.55 3.55 0 1 0 -7.1 0M1352.0 1316.5a3.55 3.55 0 1 0 7.1 0a3.55 3.55 0 1 0 -7.1 0M1352.0 1321.1a3.55 3.55 0 1 0 7.1 0a3.55 3.55 0 1 0 -7.1 0M1352.0 1325.6a3.55 3.55 0 1 0 7.1 0a3.55 3.55 0 1 0 -7.1 0M1352.0 1330.1a3.55 3.55 0 1 0 7.1 0a3.55 3.55 0 1 0 -7.1 0M1352.0 1334.6a3.55 3.55 0 1 0 7.1 0a3.55 3.55 0 1 0 -7.1 0M1352.0 1339.1a3.55 3.55 0 1 0 7.1 0a3.55 3.55 0 1 0 -7.1 0M1352.0 1343.6a3.55 3.55 0 1 0 7.1 0a3.55 3.55 0 1 0 -7.1 0M1352.0 1348.1a3.55 3.55 0 1 0 7.1 0a3.55 3.55 0 1 0 -7.1 0M1352.0 1352.7a3.55 3.55 0 1 0 7.1 0a3.55 3.55 0 1 0 -7.1 0M1352.0 1357.2a3.55 3.55 0 1 0 7.1 0a3.55 3.55 0 1 0 -7.1 0M1352.0 1361.7a3.55 3.55 0 1 0 7.1 0a3.55 3.55 0 1 0 -7.1 0M1352.0 1366.2a3.55 3.55 0 1 0 7.1 0a3.55 3.55 0 1 0 -7.1 0M1352.0 1370.7a3.55 3.55 0 1 0 7.1 0a3.55 3.55 0 1 0 -7.1 0M1352.0 1375.2a3.55 3.55 0 1 0 7.1 0a3.55 3.55 0 1 0 -7.1 0M1352.0 1379.7a3.55 3.55 0 1 0 7.1 0a3.55 3.55 0 1 0 -7.1 0M1352.0 1384.2a3.55 3.55 0 1 0 7.1 0a3.55 3.55 0 1 0 -7.1 0M1352.0 1388.8a3.55 3.55 0 1 0 7.1 0a3.55 3.55 0 1 0 -7.1 0M1352.0 1393.3a3.55 3.55 0 1 0 7.1 0a3.55 3.55 0 1 0 -7.1 0M1352.0 1397.8a3.55 3.55 0 1 0 7.1 0a3.55 3.55 0 1 0 -7.1 0M1352.0 1402.3a3.55 3.55 0 1 0 7.1 0a3.55 3.55 0 1 0 -7.1 0M1356.5 1230.8a3.55 3.55 0 1 0 7.1 0a3.55 3.55 0 1 0 -7.1 0M1356.5 1239.8a3.55 3.55 0 1 0 7.1 0a3.55 3.55 0 1 0 -7.1 0M1356.5 1248.8a3.55 3.55 0 1 0 7.1 0a3.55 3.55 0 1 0 -7.1 0M1356.5 1257.9a3.55 3.55 0 1 0 7.1 0a3.55 3.55 0 1 0 -7.1 0M1356.5 1266.9a3.55 3.55 0 1 0 7.1 0a3.55 3.55 0 1 0 -7.1 0M1356.5 1275.9a3.55 3.55 0 1 0 7.1 0a3.55 3.55 0 1 0 -7.1 0M1356.5 1284.9a3.55 3.55 0 1 0 7.1 0a3.55 3.55 0 1 0 -7.1 0M1356.5 1294.0a3.55 3.55 0 1 0 7.1 0a3.55 3.55 0 1 0 -7.1 0M1356.5 1303.0a3.55 3.55 0 1 0 7.1 0a3.55 3.55 0 1 0 -7.1 0M1356.5 1312.0a3.55 3.55 0 1 0 7.1 0a3.55 3.55 0 1 0 -7.1 0M1356.5 1321.1a3.55 3.55 0 1 0 7.1 0a3.55 3.55 0 1 0 -7.1 0M1356.5 1330.1a3.55 3.55 0 1 0 7.1 0a3.55 3.55 0 1 0 -7.1 0M1356.5 1339.1a3.55 3.55 0 1 0 7.1 0a3.55 3.55 0 1 0 -7.1 0M1356.5 1348.1a3.55 3.55 0 1 0 7.1 0a3.55 3.55 0 1 0 -7.1 0M1356.5 1375.2a3.55 3.55 0 1 0 7.1 0a3.55 3.55 0 1 0 -7.1 0M1356.5 1384.2a3.55 3.55 0 1 0 7.1 0a3.55 3.55 0 1 0 -7.1 0M1361.0 1235.3a3.55 3.55 0 1 0 7.1 0a3.55 3.55 0 1 0 -7.1 0M1361.0 1248.8a3.55 3.55 0 1 0 7.1 0a3.55 3.55 0 1 0 -7.1 0M1361.0 1262.4a3.55 3.55 0 1 0 7.1 0a3.55 3.55 0 1 0 -7.1 0M1361.0 1275.9a3.55 3.55 0 1 0 7.1 0a3.55 3.55 0 1 0 -7.1 0M1361.0 1289.5a3.55 3.55 0 1 0 7.1 0a3.55 3.55 0 1 0 -7.1 0M1361.0 1303.0a3.55 3.55 0 1 0 7.1 0a3.55 3.55 0 1 0 -7.1 0M1361.0 1316.5a3.55 3.55 0 1 0 7.1 0a3.55 3.55 0 1 0 -7.1 0M1361.0 1330.1a3.55 3.55 0 1 0 7.1 0a3.55 3.55 0 1 0 -7.1 0M1361.0 1343.6a3.55 3.55 0 1 0 7.1 0a3.55 3.55 0 1 0 -7.1 0M1361.0 1357.2a3.55 3.55 0 1 0 7.1 0a3.55 3.55 0 1 0 -7.1 0M1361.0 1370.7a3.55 3.55 0 1 0 7.1 0a3.55 3.55 0 1 0 -7.1 0M1361.0 1384.2a3.55 3.55 0 1 0 7.1 0a3.55 3.55 0 1 0 -7.1 0M1365.0 1230.8a3.55 3.55 0 1 0 7.1 0a3.55 3.55 0 1 0 -7.1 0M1365.0 1235.3a3.55 3.55 0 1 0 7.1 0a3.55 3.55 0 1 0 -7.1 0M1365.0 1239.8a3.55 3.55 0 1 0 7.1 0a3.55 3.55 0 1 0 -7.1 0M1365.0 1244.3a3.55 3.55 0 1 0 7.1 0a3.55 3.55 0 1 0 -7.1 0M1365.0 1248.8a3.55 3.55 0 1 0 7.1 0a3.55 3.55 0 1 0 -7.1 0M1365.0 1253.4a3.55 3.55 0 1 0 7.1 0a3.55 3.55 0 1 0 -7.1 0M1365.0 1257.9a3.55 3.55 0 1 0 7.1 0a3.55 3.55 0 1 0 -7.1 0M1365.0 1262.4a3.55 3.55 0 1 0 7.1 0a3.55 3.55 0 1 0 -7.1 0M1365.0 1266.9a3.55 3.55 0 1 0 7.1 0a3.55 3.55 0 1 0 -7.1 0M1365.0 1271.4a3.55 3.55 0 1 0 7.1 0a3.55 3.55 0 1 0 -7.1 0M1365.0 1275.9a3.55 3.55 0 1 0 7.1 0a3.55 3.55 0 1 0 -7.1 0M1365.0 1280.4a3.55 3.55 0 1 0 7.1 0a3.55 3.55 0 1 0 -7.1 0M1365.0 1284.9a3.55 3.55 0 1 0 7.1 0a3.55 3.55 0 1 0 -7.1 0M1365.0 1289.5a3.55 3.55 0 1 0 7.1 0a3.55 3.55 0 1 0 -7.1 0M1365.0 1294.0a3.55 3.55 0 1 0 7.1 0a3.55 3.55 0 1 0 -7.1 0M1365.0 1298.5a3.55 3.55 0 1 0 7.1 0a3.55 3.55 0 1 0 -7.1 0M1365.0 1303.0a3.55 3.55 0 1 0 7.1 0a3.55 3.55 0 1 0 -7.1 0M1365.0 1307.5a3.55 3.55 0 1 0 7.1 0a3.55 3.55 0 1 0 -7.1 0M1365.0 1312.0a3.55 3.55 0 1 0 7.1 0a3.55 3.55 0 1 0 -7.1 0M1365.0 1316.5a3.55 3.55 0 1 0 7.1 0a3.55 3.55 0 1 0 -7.1 0M1365.0 1321.1a3.55 3.55 0 1 0 7.1 0a3.55 3.55 0 1 0 -7.1 0M1365.0 1325.6a3.55 3.55 0 1 0 7.1 0a3.55 3.55 0 1 0 -7.1 0M1365.0 1330.1a3.55 3.55 0 1 0 7.1 0a3.55 3.55 0 1 0 -7.1 0M1365.0 1334.6a3.55 3.55 0 1 0 7.1 0a3.55 3.55 0 1 0 -7.1 0M1365.0 1339.1a3.55 3.55 0 1 0 7.1 0a3.55 3.55 0 1 0 -7.1 0M1365.0 1343.6a3.55 3.55 0 1 0 7.1 0a3.55 3.55 0 1 0 -7.1 0M1365.0 1348.1a3.55 3.55 0 1 0 7.1 0a3.55 3.55 0 1 0 -7.1 0M1365.0 1352.7a3.55 3.55 0 1 0 7.1 0a3.55 3.55 0 1 0 -7.1 0M1365.0 1357.2a3.55 3.55 0 1 0 7.1 0a3.55 3.55 0 1 0 -7.1 0M1365.0 1361.7a3.55 3.55 0 1 0 7.1 0a3.55 3.55 0 1 0 -7.1 0M1365.0 1366.2a3.55 3.55 0 1 0 7.1 0a3.55 3.55 0 1 0 -7.1 0M1365.0 1370.7a3.55 3.55 0 1 0 7.1 0a3.55 3.55 0 1 0 -7.1 0M1365.0 1375.2a3.55 3.55 0 1 0 7.1 0a3.55 3.55 0 1 0 -7.1 0M1365.0 1379.7a3.55 3.55 0 1 0 7.1 0a3.55 3.55 0 1 0 -7.1 0M1365.0 1384.2a3.55 3.55 0 1 0 7.1 0a3.55 3.55 0 1 0 -7.1 0M1365.0 1388.8a3.55 3.55 0 1 0 7.1 0a3.55 3.55 0 1 0 -7.1 0M1365.0 1393.3a3.55 3.55 0 1 0 7.1 0a3.55 3.55 0 1 0 -7.1 0M1365.0 1397.8a3.55 3.55 0 1 0 7.1 0a3.55 3.55 0 1 0 -7.1 0M1365.0 1402.3a3.55 3.55 0 1 0 7.1 0a3.55 3.55 0 1 0 -7.1 0M1365.0 1406.8a3.55 3.55 0 1 0 7.1 0a3.55 3.55 0 1 0 -7.1 0M1353.4 1415.8a3.55 3.55 0 1 0 7.1 0a3.55 3.55 0 1 0 -7.1 0M1353.4 1451.9a3.55 3.55 0 1 0 7.1 0a3.55 3.55 0 1 0 -7.1 0M1364.5 1438.4a3.55 3.55 0 1 0 7.1 0a3.55 3.55 0 1 0 -7.1 0M1364.5 1442.9a3.55 3.55 0 1 0 7.1 0a3.55 3.55 0 1 0 -7.1 0M1342.2 1420.4a3.55 3.55 0 1 0 7.1 0a3.55 3.55 0 1 0 -7.1 0M1110.9 991.6a3.55 3.55 0 1 0 7.1 0a3.55 3.55 0 1 0 -7.1 0"/>
<path fill="#00BA38" d="M838.7 1054.8a3.55 3.55 0 1 0 7.1 0a3.55 3.55 0 1 0 -7.1 0M838.7 1158.6a3.55 3.55 0 1 0 7.1 0a3.55 3.55 0 1 0 -7.1 0M838.7 1235.3a3.55 3.55 0 1 0 7.1 0a3.55 3.55 0 1 0 -7.1 0M838.7 1239.8a3.55 3.55 0 1 0 7.1 0a3.55 3.55 0 1 0 -7.1 0M978.2 1140.5a3.55 3.55 0 1 0 7.1 0a3.55 3.55 0 1 0 -7.1 0M978.2 1145.0a3.55 3.55 0 1 0 7.1 0a3.55 3.55 0 1 0 -7.1 0M978.2 1163.1a3.55 3.55 0 1 0 7.1 0a3.55 3.55 0 1 0 -7.1 0M978.2 1172.1a3.55 3.55 0 1 0 7.1 0a3.55 3.55 0 1 0 -7.1 0M978.2 1176.6a3.55 3.55 0 1 0 7.1 0a3.55 3.55 0 1 0 -7.1 0M978.2 1190.2a3.55 3.55 0 1 0 7.1 0a3.55 3.55 0 1 0 -7.1 0M978.2 1230.8a3.55 3.55 0 1 0 7.1 0a3.55 3.55 0 1 0 -7.1 0M978.2 1244.3a3.55 3.55 0 1 0 7.1 0a3.55 3.55 0 1 0 -7.1 0M978.2 1248.8a3.55 3.55 0 1 0 7.1 0a3.55 3.55 0 1 0 -7.1 0M838.6 1266.9a3.55 3.55 0 1 0 7.1 0a3.55 3.55 0 1 0 -7.1 0M838.6 1280.4a3.55 3.55 0 1 0 7.1 0a3.55 3.55 0 1 0 -7.1 0M978.2 1244.3a3.55 3.55 0 1 0 7.1 0a3.55 3.55 0 1 0 -7.1 0M978.2 1248.8a3.55 3.55 0 1 0 7.1 0a3.55 3.55 0 1 0 -7.1 0M978.2 1253.4a3.55 3.55 0 1 0 7.1 0a3.55 3.55 0 1 0 -7.1 0M978.2 1271.4a3.55 3.55 0 1 0 7.1 0a3.55 3.55 0 1 0 -7.1 0M978.2 1343.6a3.55 3.55 0 1 0 7.1 0a3.55 3.55 0 1 0 -7.1 0M1074.4 1167.6a3.55 3.55 0 1 0 7.1 0a3.55 3.55 0 1 0 -7.1 0M1074.4 1194.7a3.55 3.55 0 1 0 7.1 0a3.55 3.55 0 1 0 -7.1 0M1074.4 1212.7a3.55 3.55 0 1 0 7.1 0a3.55 3.55 0 1 0 -7.1 0M1074.4 1221.8a3.55 3.55 0 1 0 7.1 0a3.55 3.55 0 1 0 -7.1 0M1074.4 1226.3a3.55 3.55 0 1 0 7.1 0a3.55 3.55 0 1 0 -7.1 0M1074.4 1235.3a3.55 3.55 0 1 0 7.1 0a3.55 3.55 0 1 0 -7.1 0M1074.4 1239.8a3.55 3.55 0 1 0 7.1 0a3.55 3.55 0 1 0 -7.1 0M1008.8 1239.8a3.55 3.55 0 1 0 7.1 0a3.55 3.55 0 1 0 -7.1 0M1074.4 1257.9a3.55 3.55 0 1 0 7.1 0a3.55 3.55 0 1 0 -7.1 0M1074.4 1370.7a3.55 3.55 0 1 0 7.1 0a3.55 3.55 0 1 0 -7.1 0M1074.4 1393.3a3.55 3.55 0 1 0 7.1 0a3.55 3.55 0 1 0 -7.1 0M1074.4 1402.3a3.55 3.55 0 1 0 7.1 0a3.55 3.55 0 1 0 -7.1 0M1074.4 1492.6a3.55 3.55 0 1 0 7.1 0a3.55 3.55 0 1 0 -7.1 0M1074.4 1510.6a3.55 3.55 0 1 0 7.1 0a3.55 3.55 0 1 0 -7.1 0M1008.8 1266.9a3.55 3.55 0 1 0 7.1 0a3.55 3.55 0 1 0 -7.1 0M996.1 1208.2a3.55 3.55 0 1 0 7.1 0a3.55 3.55 0 1 0 -7.1 0M996.1 1271.4a3.55 3.55 0 1 0 7.1 0a3.55 3.55 0 1 0 -7.1 0M1074.2 1524.2a3.55 3.55 0 1 0 7.1 0a3.55 3.55 0 1 0 -7.1 0M1262.0 1113.4a3.55 3.55 0 1 0 7.1 0a3.55 3.55 0 1 0 -7.1 0M1262.2 1185.7a3.55 3.55 0 1 0 7.1 0a3.55 3.55 0 1 0 -7.1 0M1313.9 1140.5a3.55 3.55 0 1 0 7.1 0a3.55 3.55 0 1 0 -7.1 0M1313.9 1239.8a3.55 3.55 0 1 0 7.1 0a3.55 3.55 0 1 0 -7.1 0M1313.9 1244.3a3.55 3.55 0 1 0 7.1 0a3.55 3.55 0 1 0 -7.1 0M1313.9 1275.9a3.55 3.55 0 1 0 7.1 0a3.55 3.55 0 1 0 -7.1 0M1333.7 1289.5a3.55 3.55 0 1 0 7.1 0a3.55 3.55 0 1 0 -7.1 0"/>
<path fill="#619CFF" d="M781.1 1303.0a3.55 3.55 0 1 0 7.1 0a3.55 3.55 0 1 0 -7.1 0M781.1 1312.0a3.55 3.55 0 1 0 7.1 0a3.55 3.55 0 1 0 -7.1 0M781.1 1397.8a3.55 3.55 0 1 0 7.1 0a3.55 3.55 0 1 0 -7.1 0M781.1 1402.3a3.55 3.55 0 1 0 7.1 0a3.55 3.55 0 1 0 -7.1 0M781.1 1429.4a3.55 3.55 0 1 0 7.1 0a3.55 3.55 0 1 0 -7.1 0M805.7 1316.5a3.55 3.55 0 1 0 7.1 0a3.55 3.55 0 1 0 -7.1 0M805.7 1406.8a3.55 3.55 0 1 0 7.1 0a3.55 3.55 0 1 0 -7.1 0M805.7 1411.3a3.55 3.55 0 1 0 7.1 0a3.55 3.55 0 1 0 -7.1 0M805.7 1447.4a3.55 3.55 0 1 0 7.1 0a3.55 3.55 0 1 0 -7.1 0M838.6 1303.0a3.55 3.55 0 1 0 7.1 0a3.55 3.55 0 1 0 -7.1 0M838.6 1307.5a3.55 3.55 0 1 0 7.1 0a3.55 3.55 0 1 0 -7.1 0M838.6 1379.7a3.55 3.55 0 1 0 7.1 0a3.55 3.55 0 1 0 -7.1 0M838.6 1384.2a3.55 3.55 0 1 0 7.1 0a3.55 3.55 0 1 0 -7.1 0M838.6 1420.4a3.55 3.55 0 1 0 7.1 0a3.55 3.55 0 1 0 -7.1 0M838.6 1424.9a3.55 3.55 0 1 0 7.1 0a3.55 3.55 0 1 0 -7.1 0M838.6 1497.1a3.55 3.55 0 1 0 7.1 0a3.55 3.55 0 1 0 -7.1 0M836.2 1614.4a3.55 3.55 0 1 0 7.1 0a3.55 3.55 0 1 0 -7.1 0M876.1 1361.7a3.55 3.55 0 1 0 7.1 0a3.55 3.55 0 1 0 -7.1 0M876.1 1375.2a3.55 3.55 0 1 0 7.1 0a3.55 3.55 0 1 0 -7.1 0M876.1 1384.2a3.55 3.55 0 1 0 7.1 0a3.55 3.55 0 1 0 -7.1 0M876.1 1402.3a3.55 3.55 0 1 0 7.1 0a3.55 3.55 0 1 0 -7.1 0M876.1 1411.3a3.55 3.55 0 1 0 7.1 0a3.55 3.55 0 1 0 -7.1 0M876.1 1415.8a3.55 3.55 0 1 0 7.1 0a3.55 3.55 0 1 0 -7.1 0M876.1 1420.4a3.55 3.55 0 1 0 7.1 0a3.55 3.55 0 1 0 -7.1 0M876.1 1424.9a3.55 3.55 0 1 0 7.1 0a3.55 3.55 0 1 0 -7.1 0M876.1 1429.4a3.55 3.55 0 1 0 7.1 0a3.55 3.55 0 1 0 -7.1 0M876.1 1433.9a3.55 3.55 0 1 0 7.1 0a3.55 3.55 0 1 0 -7.1 0M876.1 1451.9a3.55 3.55 0 1 0 7.1 0a3.55 3.55 0 1 0 -7.1 0M876.1 1456.5a3.55 3.55 0 1 0 7.1 0a3.55 3.55 0 1 0 -7.1 0M876.1 1461.0a3.55 3.55 0 1 0 7.1 0a3.55 3.55 0 1 0 -7.1 0M876.1 1479.0a3.55 3.55 0 1 0 7.1 0a3.55 3.55 0 1 0 -7.1 0M876.1 1483.5a3.55 3.55 0 1 0 7.1 0a3.55 3.55 0 1 0 -7.1 0M876.1 1492.6a3.55 3.55 0 1 0 7.1 0a3.55 3.55 0 1 0 -7.1 0M876.1 1497.1a3.55 3.55 0 1 0 7.1 0a3.55 3.55 0 1 0 -7.1 0M876.1 1501.6a3.55 3.55 0 1 0 7.1 0a3.55 3.55 0 1 0 -7.1 0M876.1 1515.1a3.55 3.55 0 1 0 7.1 0a3.55 3.55 0 1 0 -7.1 0M876.1 1519.7a3.55 3.55 0 1 0 7.1 0a3.55 3.55 0 1 0 -7.1 0M764.2 1461.0a3.55 3.55 0 1 0 7.1 0a3.55 3.55 0 1 0 -7.1 0M764.2 1564.8a3.55 3.55 0 1 0 7.1 0a3.55 3.55 0 1 0 -7.1 0M764.2 1573.8a3.55 3.55 0 1 0 7.1 0a3.55 3.55 0 1 0 -7.1 0M764.2 1591.9a3.55 3.55 0 1 0 7.1 0a3.55 3.55 0 1 0 -7.1 0M764.2 1596.4a3.55 3.55 0 1 0 7.1 0a3.55 3.55 0 1 0 -7.1 0M764.2 1632.5a3.55 3.55 0 1 0 7.1 0a3.55 3.55 0 1 0 -7.1 0M978.2 1257.9a3.55 3.55 0 1 0 7.1 0a3.55 3.55 0 1 0 -7.1 0M978.2 1316.5a3.55 3.55 0 1 0 7.1 0a3.55 3.55 0 1 0 -7.1 0M978.2 1348.1a3.55 3.55 0 1 0 7.1 0a3.55 3.55 0 1 0 -7.1 0M978.2 1366.2a3.55 3.55 0 1 0 7.1 0a3.55 3.55 0 1 0 -7.1 0M978.2 1370.7a3.55 3.55 0 1 0 7.1 0a3.55 3.55 0 1 0 -7.1 0M978.2 1375.2a3.55 3.55 0 1 0 7.1 0a3.55 3.55 0 1 0 -7.1 0M978.2 1379.7a3.55 3.55 0 1 0 7.1 0a3.55 3.55 0 1 0 -7.1 0M978.2 1388.8a3.55 3.55 0 1 0 7.1 0a3.55 3.55 0 1 0 -7.1 0M978.2 1393.3a3.55 3.55 0 1 0 7.1 0a3.55 3.55 0 1 0 -7.1 0M978.2 1397.8a3.55 3.55 0 1 0 7.1 0a3.55 3.55 0 1 0 -7.1 0M978.2 1402.3a3.55 3.55 0 1 0 7.1 0a3.55 3.55 0 1 0 -7.1 0M978.2 1406.8a3.55 3.55 0 1 0 7.1 0a3.55 3.55 0 1 0 -7.1 0M978.2 1411.3a3.55 3.55 0 1 0 7.1 0a3.55 3.55 0 1 0 -7.1 0M978.2 1415.8a3.55 3.55 0 1 0 7.1 0a3.55 3.55 0 1 0 -7.1 0M978.2 1420.4a3.55 3.55 0 1 0 7.1 0a3.55 3.55 0 1 0 -7.1 0M978.2 1424.9a3.55 3.55 0 1 0 7.1 0a3.55 3.55 0 1 0 -7.1 0M978.2 1429.4a3.55 3.55 0 1 0 7.1 0a3.55 3.55 0 1 0 -7.1 0M978.2 1447.4a3.55 3.55 0 1 0 7.1 0a3.55 3.55 0 1 0 -7.1 0M978.2 1451.9a3.55 3.55 0 1 0 7.1 0a3.55 3.55 0 1 0 -7.1 0M978.2 1461.0a3.55 3.55 0 1 0 7.1 0a3.55 3.55 0 1 0 -7.1 0M978.2 1465.5a3.55 3.55 0 1 0 7.1 0a3.55 3.55 0 1 0 -7.1 0M978.2 1470.0a3.55 3.55 0 1 0 7.1 0a3.55 3.55 0 1 0 -7.1 0M1092.2 955.5a3.55 3.55 0 1 0 7.1 0a3.55 3.55 0 1 0 -7.1 0M1099.7 1190.2a3.55 3.55 0 1 0 7.1 0a3.55 3.55 0 1 0 -7.1 0M1099.7 1208.2a3.55 3.55 0 1 0 7.1 0a3.55 3.55 0 1 0 -7.1 0M1099.7 1230.8a3.55 3.55 0 1 0 7.1 0a3.55 3.55 0 1 0 -7.1 0M1099.7 1262.4a3.55 3.55 0 1 0 7.1 0a3.55 3.55 0 1 0 -7.1 0M1099.7 1275.9a3.55 3.55 0 1 0 7.1 0a3.55 3.55 0 1 0 -7.1 0M1099.7 1280.4a3.55 3.55 0 1 0 7.1 0a3.55 3.55 0 1 0 -7.1 0M1099.7 1284.9a3.55 3.55 0 1 0 7.1 0a3.55 3.55 0 1 0 -7.1 0M1099.7 1303.0a3.55 3.55 0 1 0 7.1 0a3.55 3.55 0 1 0 -7.1 0M1099.7 1330.1a3.55 3.55 0 1 0 7.1 0a3.55 3.55 0 1 0 -7.1 0M1099.7 1334.6a3.55 3.55 0 1 0 7.1 0a3.55 3.55 0 1 0 -7.1 0M1099.7 1339.1a3.55 3.55 0 1 0 7.1 0a3.55 3.55 0 1 0 -7.1 0M1099.7 1361.7a3.55 3.55 0 1 0 7.1 0a3.55 3.55 0 1 0 -7.1 0M1099.7 1375.2a3.55 3.55 0 1 0 7.1 0a3.55 3.55 0 1 0 -7.1 0M1099.7 1384.2a3.55 3.55 0 1 0 7.1 0a3.55 3.55 0 1 0 -7.1 0M1099.7 1388.8a3.55 3.55 0 1 0 7.1 0a3.55 3.55 0 1 0 -7.1 0M1099.7 1393.3a3.55 3.55 0 1 0 7.1 0a3.55 3.55 0 1 0 -7.1 0M1099.7 1397.8a3.55 3.55 0 1 0 7.1 0a3.55 3.55 0 1 0 -7.1 0M1099.7 1402.3a3.55 3.55 0 1 0 7.1 0a3.55 3.55 0 1 0 -7.1 0M1099.7 1406.8a3.55 3.55 0 1 0 7.1 0a3.55 3.55 0 1 0 -7.1 0M1099.7 1415.8a3.55 3.55 0 1 0 7.1 0a3.55 3.55 0 1 0 -7.1 0M1099.7 1424.9a3.55 3.55 0 1 0 7.1 0a3.55 3.55 0 1 0 -7.1 0M1099.7 1433.9a3.55 3.55 0 1 0 7.1 0a3.55 3.55 0 1 0 -7.1 0M1099.7 1442.9a3.55 3.55 0 1 0 7.1 0a3.55 3.55 0 1 0 -7.1 0M1099.7 1447.4a3.55 3.55 0 1 0 7.1 0a3.55 3.55 0 1 0 -7.1 0M1099.7 1451.9a3.55 3.55 0 1 0 7.1 0a3.55 3.55 0 1 0 -7.1 0M1099.7 1456.5a3.55 3.55 0 1 0 7.1 0a3.55 3.55 0 1 0 -7.1 0M1099.7 1465.5a3.55 3.55 0 1 0 7.1 0a3.55 3.55 0 1 0 -7.1 0M1099.7 1470.0a3.55 3.55 0 1 0 7.1 0a3.55 3.55 0 1 0 -7.1 0M1099.7 1474.5a3.55 3.55 0 1 0 7.1 0a3.55 3.55 0 1 0 -7.1 0M1099.7 1501.6a3.55 3.55 0 1 0 7.1 0a3.55 3.55 0 1 0 -7.1 0M1099.7 1510.6a3.55 3.55 0 1 0 7.1 0a3.55 3.55 0 1 0 -7.1 0M1093.7 1321.1a3.55 3.55 0 1 0 7.1 0a3.55 3.55 0 1 0 -7.1 0M1093.7 1334.6a3.55 3.55 0 1 0 7.1 0a3.55 3.55 0 1 0 -7.1 0M1093.7 1343.6a3.55 3.55 0 1 0 7.1 0a3.55 3.55 0 1 0 -7.1 0M1093.7 1366.2a3.55 3.55 0 1 0 7.1 0a3.55 3.55 0 1 0 -7.1 0M1093.7 1384.2a3.55 3.55 0 1 0 7.1 0a3.55 3.55 0 1 0 -7.1 0M1093.7 1411.3a3.55 3.55 0 1 0 7.1 0a3.55 3.55 0 1 0 -7.1 0M1093.7 1447.4a3.55 3.55 0 1 0 7.1 0a3.55 3.55 0 1 0 -7.1 0M1093.7 1451.9a3.55 3.55 0 1 0 7.1 0a3.55 3.55 0 1 0 -7.1 0M1093.7 1483.5a3.55 3.55 0 1 0 7.1 0a3.55 3.55 0 1 0 -7.1 0M1093.7 1515.1a3.55 3.55 0 1 0 7.1 0a3.55 3.55 0 1 0 -7.1 0M1097.0 1483.5a3.55 3.55 0 1 0 7.1 0a3.55 3.55 0 1 0 -7.1 0M1074.4 1366.2a3.55 3.55 0 1 0 7.1 0a3.55 3.55 0 1 0 -7.1 0M1078.2 1348.1a3.55 3.55 0 1 0 7.1 0a3.55 3.55 0 1 0 -7.1 0M1078.2 1388.8a3.55 3.55 0 1 0 7.1 0a3.55 3.55 0 1 0 -7.1 0M1078.2 1402.3a3.55 3.55 0 1 0 7.1 0a3.55 3.55 0 1 0 -7.1 0M1082.2 1325.6a3.55 3.55 0 1 0 7.1 0a3.55 3.55 0 1 0 -7.1 0M1008.8 1303.0a3.55 3.55 0 1 0 7.1 0a3.55 3.55 0 1 0 -7.1 0M1008.8 1307.5a3.55 3.55 0 1 0 7.1 0a3.55 3.55 0 1 0 -7.1 0M1008.8 1348.1a3.55 3.55 0 1 0 7.1 0a3.55 3.55 0 1 0 -7.1 0M1008.8 1379.7a3.55 3.55 0 1 0 7.1 0a3.55 3.55 0 1 0 -7.1 0M1008.8 1384.2a3.55 3.55 0 1 0 7.1 0a3.55 3.55 0 1 0 -7.1 0M1008.8 1388.8a3.55 3.55 0 1 0 7.1 0a3.55 3.55 0 1 0 -7.1 0M1008.8 1402.3a3.55 3.55 0 1 0 7.1 0a3.55 3.55 0 1 0 -7.1 0M1008.8 1420.4a3.55 3.55 0 1 0 7.1 0a3.55 3.55 0 1 0 -7.1 0M1008.8 1424.9a3.55 3.55 0 1 0 7.1 0a3.55 3.55 0 1 0 -7.1 0M1008.8 1497.1a3.55 3.55 0 1 0 7.1 0a3.55 3.55 0 1 0 -7.1 0M1040.2 1501.6a3.55 3.55 0 1 0 7.1 0a3.55 3.55 0 1 0 -7.1 0M1040.2 1506.1a3.55 3.55 0 1 0 7.1 0a3.55 3.55 0 1 0 -7.1 0M1040.7 1542.2a3.55 3.55 0 1 0 7.1 0a3.55 3.55 0 1 0 -7.1 0M1040.7 1546.7a3.55 3.55 0 1 0 7.1 0a3.55 3.55 0 1 0 -7.1 0M1040.7 1591.9a3.55 3.55 0 1 0 7.1 0a3.55 3.55 0 1 0 -7.1 0M1040.7 1600.9a3.55 3.55 0 1 0 7.1 0a3.55 3.55 0 1 0 -7.1 0M1040.7 1605.4a3.55 3.55 0 1 0 7.1 0a3.55 3.55 0 1 0 -7.1 0M1098.2 1519.7a3.55 3.55 0 1 0 7.1 0a3.55 3.55 0 1 0 -7.1 0M1098.2 1524.2a3.55 3.55 0 1 0 7.1 0a3.55 3.55 0 1 0 -7.1 0M1098.2 1537.7a3.55 3.55 0 1 0 7.1 0a3.55 3.55 0 1 0 -7.1 0M1234.9 1479.0a3.55 3.55 0 1 0 7.1 0a3.55 3.55 0 1 0 -7.1 0M1234.9 1483.5a3.55 3.55 0 1 0 7.1 0a3.55 3.55 0 1 0 -7.1 0M1234.9 1488.1a3.55 3.55 0 1 0 7.1 0a3.55 3.55 0 1 0 -7.1 0M1234.9 1492.6a3.55 3.55 0 1 0 7.1 0a3.55 3.55 0 1 0 -7.1 0M1234.9 1497.1a3.55 3.55 0 1 0 7.1 0a3.55 3.55 0 1 0 -7.1 0M1234.9 1524.2a3.55 3.55 0 1 0 7.1 0a3.55 3.55 0 1 0 -7.1 0M1234.9 1542.2a3.55 3.55 0 1 0 7.1 0a3.55 3.55 0 1 0 -7.1 0M1234.9 1555.8a3.55 3.55 0 1 0 7.1 0a3.55 3.55 0 1 0 -7.1 0M1234.9 1560.3a3.55 3.55 0 1 0 7.1 0a3.55 3.55 0 1 0 -7.1 0M1231.0 1497.1a3.55 3.55 0 1 0 7.1 0a3.55 3.55 0 1 0 -7.1 0M1253.0 1492.6a3.55 3.55 0 1 0 7.1 0a3.55 3.55 0 1 0 -7.1 0M1253.0 1501.6a3.55 3.55 0 1 0 7.1 0a3.55 3.55 0 1 0 -7.1 0M1253.0 1533.2a3.55 3.55 0 1 0 7.1 0a3.55 3.55 0 1 0 -7.1 0M1253.0 1551.2a3.55 3.55 0 1 0 7.1 0a3.55 3.55 0 1 0 -7.1 0M1262.2 1492.6a3.55 3.55 0 1 0 7.1 0a3.55 3.55 0 1 0 -7.1 0M1262.2 1501.6a3.55 3.55 0 1 0 7.1 0a3.55 3.55 0 1 0 -7.1 0M1262.2 1551.2a3.55 3.55 0 1 0 7.1 0a3.55 3.55 0 1 0 -7.1 0M1264.5 1497.1a3.55 3.55 0 1 0 7.1 0a3.55 3.55 0 1 0 -7.1 0M1264.5 1533.2a3.55 3.55 0 1 0 7.1 0a3.55 3.55 0 1 0 -7.1 0M1313.9 1479.0a3.55 3.55 0 1 0 7.1 0a3.55 3.55 0 1 0 -7.1 0M1313.9 1497.1a3.55 3.55 0 1 0 7.1 0a3.55 3.55 0 1 0 -7.1 0M1313.9 1506.1a3.55 3.55 0 1 0 7.1 0a3.55 3.55 0 1 0 -7.1 0M1313.9 1528.7a3.55 3.55 0 1 0 7.1 0a3.55 3.55 0 1 0 -7.1 0M1313.9 1542.2a3.55 3.55 0 1 0 7.1 0a3.55 3.55 0 1 0 -7.1 0M1313.9 1546.7a3.55 3.55 0 1 0 7.1 0a3.55 3.55 0 1 0 -7.1 0M1313.9 1555.8a3.55 3.55 0 1 0 7.1 0a3.55 3.55 0 1 0 -7.1 0M1313.9 1569.3a3.55 3.55 0 1 0 7.1 0a3.55 3.55 0 1 0 -7.1 0M1313.9 1587.4a3.55 3.55 0 1 0 7.1 0a3.55 3.55 0 1 0 -7.1 0M1313.9 1596.4a3.55 3.55 0 1 0 7.1 0a3.55 3.55 0 1 0 -7.1 0M1318.0 1483.5a3.55 3.55 0 1 0 7.1 0a3.55 3.55 0 1 0 -7.1 0M1323.8 1492.6a3.55 3.55 0 1 0 7.1 0a3.55 3.55 0 1 0 -7.1 0M1323.8 1528.7a3.55 3.55 0 1 0 7.1 0a3.55 3.55 0 1 0 -7.1 0M1323.8 1537.7a3.55 3.55 0 1 0 7.1 0a3.55 3.55 0 1 0 -7.1 0M1323.8 1555.8a3.55 3.55 0 1 0 7.1 0a3.55 3.55 0 1 0 -7.1 0M1334.0 1488.1a3.55 3.55 0 1 0 7.1 0a3.55 3.55 0 1 0 -7.1 0M1334.0 1515.1a3.55 3.55 0 1 0 7.1 0a3.55 3.55 0 1 0 -7.1 0M1337.5 1492.6a3.55 3.55 0 1 0 7.1 0a3.55 3.55 0 1 0 -7.1 0M1337.5 1501.6a3.55 3.55 0 1 0 7.1 0a3.55 3.55 0 1 0 -7.1 0M1337.5 1506.1a3.55 3.55 0 1 0 7.1 0a3.55 3.55 0 1 0 -7.1 0M1343.4 1483.5a3.55 3.55 0 1 0 7.1 0a3.55 3.55 0 1 0 -7.1 0M1349.5 1483.5a3.55 3.55 0 1 0 7.1 0a3.55 3.55 0 1 0 -7.1 0M1349.5 1560.3a3.55 3.55 0 1 0 7.1 0a3.55 3.55 0 1 0 -7.1 0M1340.2 1497.1a3.55 3.55 0 1 0 7.1 0a3.55 3.55 0 1 0 -7.1 0M1340.2 1569.3a3.55 3.55 0 1 0 7.1 0a3.55 3.55 0 1 0 -7.1 0M1353.2 1501.6a3.55 3.55 0 1 0 7.1 0a3.55 3.55 0 1 0 -7.1 0M1353.2 1506.1a3.55 3.55 0 1 0 7.1 0a3.55 3.55 0 1 0 -7.1 0M1361.4 1501.6a3.55 3.55 0 1 0 7.1 0a3.55 3.55 0 1 0 -7.1 0M1111.0 1158.6a3.55 3.55 0 1 0 7.1 0a3.55 3.55 0 1 0 -7.1 0M1111.0 1185.7a3.55 3.55 0 1 0 7.1 0a3.55 3.55 0 1 0 -7.1 0M1111.0 1244.3a3.55 3.55 0 1 0 7.1 0a3.55 3.55 0 1 0 -7.1 0M1111.0 1266.9a3.55 3.55 0 1 0 7.1 0a3.55 3.55 0 1 0 -7.1 0M1099.9 1190.2a3.55 3.55 0 1 0 7.1 0a3.55 3.55 0 1 0 -7.1 0M1099.9 1208.2a3.55 3.55 0 1 0 7.1 0a3.55 3.55 0 1 0 -7.1 0M1099.9 1230.8a3.55 3.55 0 1 0 7.1 0a3.55 3.55 0 1 0 -7.1 0M1099.9 1262.4a3.55 3.55 0 1 0 7.1 0a3.55 3.55 0 1 0 -7.1 0M1099.9 1275.9a3.55 3.55 0 1 0 7.1 0a3.55 3.55 0 1 0 -7.1 0M1099.9 1280.4a3.55 3.55 0 1 0 7.1 0a3.55 3.55 0 1 0 -7.1 0M1099.9 1284.9a3.55 3.55 0 1 0 7.1 0a3.55 3.55 0 1 0 -7.1 0M1099.9 1303.0a3.55 3.55 0 1 0 7.1 0a3.55 3.55 0 1 0 -7.1 0M1099.9 1330.1a3.55 3.55 0 1 0 7.1 0a3.55 3.55 0 1 0 -7.1 0M1196.0 1235.3a3.55 3.55 0 1 0 7.1 0a3.55 3.55 0 1 0 -7.1 0M1196.0 1262.4a3.55 3.55 0 1 0 7.1 0a3.55 3.55 0 1 0 -7.1 0M1196.0 1266.9a3.55 3.55 0 1 0 7.1 0a3.55 3.55 0 1 0 -7.1 0M1196.0 1271.4a3.55 3.55 0 1 0 7.1 0a3.55 3.55 0 1 0 -7.1 0M1196.0 1284.9a3.55 3.55 0 1 0 7.1 0a3.55 3.55 0 1 0 -7.1 0M1196.0 1289.5a3.55 3.55 0 1 0 7.1 0a3.55 3.55 0 1 0 -7.1 0M1196.0 1298.5a3.55 3.55 0 1 0 7.1 0a3.55 3.55 0 1 0 -7.1 0M1196.0 1303.0a3.55 3.55 0 1 0 7.1 0a3.55 3.55 0 1 0 -7.1 0M1196.0 1316.5a3.55 3.55 0 1 0 7.1 0a3.55 3.55 0 1 0 -7.1 0M1199.5 1289.5a3.55 3.55 0 1 0 7.1 0a3.55 3.55 0 1 0 -7.1 0M1133.4 1325.6a3.55 3.55 0 1 0 7.1 0a3.55 3.55 0 1 0 -7.1 0M1196.2 1235.3a3.55 3.55 0 1 0 7.1 0a3.55 3.55 0 1 0 -7.1 0M1196.2 1257.9a3.55 3.55 0 1 0 7.1 0a3.55 3.55 0 1 0 -7.1 0M1196.2 1271.4a3.55 3.55 0 1 0 7.1 0a3.55 3.55 0 1 0 -7.1 0M1196.2 1284.9a3.55 3.55 0 1 0 7.1 0a3.55 3.55 0 1 0 -7.1 0M1196.2 1298.5a3.55 3.55 0 1 0 7.1 0a3.55 3.55 0 1 0 -7.1 0M1196.2 1316.5a3.55 3.55 0 1 0 7.1 0a3.55 3.55 0 1 0 -7.1 0M1200.5 1289.5a3.55 3.55 0 1 0 7.1 0a3.55 3.55 0 1 0 -7.1 0M1192.8 1303.0a3.55 3.55 0 1 0 7.1 0a3.55 3.55 0 1 0 -7.1 0M1262.2 1248.8a3.55 3.55 0 1 0 7.1 0a3.55 3.55 0 1 0 -7.1 0M1262.2 1275.9a3.55 3.55 0 1 0 7.1 0a3.55 3.55 0 1 0 -7.1 0M1262.2 1303.0a3.55 3.55 0 1 0 7.1 0a3.55 3.55 0 1 0 -7.1 0M1262.2 1312.0a3.55 3.55 0 1 0 7.1 0a3.55 3.55 0 1 0 -7.1 0M1262.2 1316.5a3.55 3.55 0 1 0 7.1 0a3.55 3.55 0 1 0 -7.1 0M1262.2 1330.1a3.55 3.55 0 1 0 7.1 0a3.55 3.55 0 1 0 -7.1 0M1262.2 1357.2a3.55 3.55 0 1 0 7.1 0a3.55 3.55 0 1 0 -7.1 0M1262.2 1361.7a3.55 3.55 0 1 0 7.1 0a3.55 3.55 0 1 0 -7.1 0M1262.2 1375.2a3.55 3.55 0 1 0 7.1 0a3.55 3.55 0 1 0 -7.1 0M1262.2 1384.2a3.55 3.55 0 1 0 7.1 0a3.55 3.55 0 1 0 -7.1 0M1262.2 1402.3a3.55 3.55 0 1 0 7.1 0a3.55 3.55 0 1 0 -7.1 0M1262.2 1415.8a3.55 3.55 0 1 0 7.1 0a3.55 3.55 0 1 0 -7.1 0M1262.2 1424.9a3.55 3.55 0 1 0 7.1 0a3.55 3.55 0 1 0 -7.1 0M1262.2 1451.9a3.55 3.55 0 1 0 7.1 0a3.55 3.55 0 1 0 -7.1 0M1262.2 1465.5a3.55 3.55 0 1 0 7.1 0a3.55 3.55 0 1 0 -7.1 0M1252.9 1294.0a3.55 3.55 0 1 0 7.1 0a3.55 3.55 0 1 0 -7.1 0M1252.9 1303.0a3.55 3.55 0 1 0 7.1 0a3.55 3.55 0 1 0 -7.1 0M1252.9 1339.1a3.55 3.55 0 1 0 7.1 0a3.55 3.55 0 1 0 -7.1 0M1252.9 1343.6a3.55 3.55 0 1 0 7.1 0a3.55 3.55 0 1 0 -7.1 0M1252.9 1352.7a3.55 3.55 0 1 0 7.1 0a3.55 3.55 0 1 0 -7.1 0M1252.9 1357.2a3.55 3.55 0 1 0 7.1 0a3.55 3.55 0 1 0 -7.1 0M1252.9 1361.7a3.55 3.55 0 1 0 7.1 0a3.55 3.55 0 1 0 -7.1 0M1252.9 1366.2a3.55 3.55 0 1 0 7.1 0a3.55 3.55 0 1 0 -7.1 0M1252.9 1370.7a3.55 3.55 0 1 0 7.1 0a3.55 3.55 0 1 0 -7.1 0M1252.9 1375.2a3.55 3.55 0 1 0 7.1 0a3.55 3.55 0 1 0 -7.1 0M1252.9 1379.7a3.55 3.55 0 1 0 7.1 0a3.55 3.55 0 1 0 -7.1 0M1252.9 1384.2a3.55 3.55 0 1 0 7.1 0a3.55 3.55 0 1 0 -7.1 0M1252.9 1388.8a3.55 3.55 0 1 0 7.1 0a3.55 3.55 0 1 0 -7.1 0M1252.9 1393.3a3.55 3.55 0 1 0 7.1 0a3.55 3.55 0 1 0 -7.1 0M1252.9 1397.8a3.55 3.55 0 1 0 7.1 0a3.55 3.55 0 1 0 -7.1 0M1252.9 1402.3a3.55 3.55 0 1 0 7.1 0a3.55 3.55 0 1 0 -7.1 0M1252.9 1415.8a3.55 3.55 0 1 0 7.1 0a3.55 3.55 0 1 0 -7.1 0M1252.9 1420.4a3.55 3.55 0 1 0 7.1 0a3.55 3.55 0 1 0 -7.1 0M1252.9 1433.9a3.55 3.55 0 1 0 7.1 0a3.55 3.55 0 1 0 -7.1 0M1252.9 1438.4a3.55 3.55 0 1 0 7.1 0a3.55 3.55 0 1 0 -7.1 0M1252.9 1442.9a3.55 3.55 0 1 0 7.1 0a3.55 3.55 0 1 0 -7.1 0M1252.9 1451.9a3.55 3.55 0 1 0 7.1 0a3.55 3.55 0 1 0 -7.1 0M1252.9 1456.5a3.55 3.55 0 1 0 7.1 0a3.55 3.55 0 1 0 -7.1 0M1252.9 1461.0a3.55 3.55 0 1 0 7.1 0a3.55 3.55 0 1 0 -7.1 0M1202.2 1397.8a3.55 3.55 0 1 0 7.1 0a3.55 3.55 0 1 0 -7.1 0M1202.2 1415.8a3.55 3.55 0 1 0 7.1 0a3.55 3.55 0 1 0 -7.1 0M1202.2 1429.4a3.55 3.55 0 1 0 7.1 0a3.55 3.55 0 1 0 -7.1 0M1202.2 1465.5a3.55 3.55 0 1 0 7.1 0a3.55 3.55 0 1 0 -7.1 0M1234.8 1402.3a3.55 3.55 0 1 0 7.1 0a3.55 3.55 0 1 0 -7.1 0M1234.8 1415.8a3.55 3.55 0 1 0 7.1 0a3.55 3.55 0 1 0 -7.1 0M1234.8 1420.4a3.55 3.55 0 1 0 7.1 0a3.55 3.55 0 1 0 -7.1 0M1234.8 1424.9a3.55 3.55 0 1 0 7.1 0a3.55 3.55 0 1 0 -7.1 0M1234.8 1429.4a3.55 3.55 0 1 0 7.1 0a3.55 3.55 0 1 0 -7.1 0M1234.8 1433.9a3.55 3.55 0 1 0 7.1 0a3.55 3.55 0 1 0 -7.1 0M1234.8 1438.4a3.55 3.55 0 1 0 7.1 0a3.55 3.55 0 1 0 -7.1 0M1234.8 1442.9a3.55 3.55 0 1 0 7.1 0a3.55 3.55 0 1 0 -7.1 0M1234.8 1447.4a3.55 3.55 0 1 0 7.1 0a3.55 3.55 0 1 0 -7.1 0M1234.8 1465.5a3.55 3.55 0 1 0 7.1 0a3.55 3.55 0 1 0 -7.1 0M1229.7 1447.4a3.55 3.55 0 1 0 7.1 0a3.55 3.55 0 1 0 -7.1 0M1229.7 1465.5a3.55 3.55 0 1 0 7.1 0a3.55 3.55 0 1 0 -7.1 0M1133.2 1325.6a3.55 3.55 0 1 0 7.1 0a3.55 3.55 0 1 0 -7.1 0M1133.2 1357.2a3.55 3.55 0 1 0 7.1 0a3.55 3.55 0 1 0 -7.1 0M1133.2 1375.2a3.55 3.55 0 1 0 7.1 0a3.55 3.55 0 1 0 -7.1 0M1133.2 1411.3a3.55 3.55 0 1 0 7.1 0a3.55 3.55 0 1 0 -7.1 0M1133.2 1429.4a3.55 3.55 0 1 0 7.1 0a3.55 3.55 0 1 0 -7.1 0M1133.2 1433.9a3.55 3.55 0 1 0 7.1 0a3.55 3.55 0 1 0 -7.1 0M1133.2 1438.4a3.55 3.55 0 1 0 7.1 0a3.55 3.55 0 1 0 -7.1 0M1133.2 1451.9a3.55 3.55 0 1 0 7.1 0a3.55 3.55 0 1 0 -7.1 0M1133.2 1461.0a3.55 3.55 0 1 0 7.1 0a3.55 3.55 0 1 0 -7.1 0M1112.5 1375.2a3.55 3.55 0 1 0 7.1 0a3.55 3.55 0 1 0 -7.1 0M1112.5 1447.4a3.55 3.55 0 1 0 7.1 0a3.55 3.55 0 1 0 -7.1 0M1174.7 1420.4a3.55 3.55 0 1 0 7.1 0a3.55 3.55 0 1 0 -7.1 0M1174.7 1433.9a3.55 3.55 0 1 0 7.1 0a3.55 3.55 0 1 0 -7.1 0M1100.2 1330.1a3.55 3.55 0 1 0 7.1 0a3.55 3.55 0 1 0 -7.1 0M1100.2 1334.6a3.55 3.55 0 1 0 7.1 0a3.55 3.55 0 1 0 -7.1 0M1100.2 1339.1a3.55 3.55 0 1 0 7.1 0a3.55 3.55 0 1 0 -7.1 0M1100.2 1361.7a3.55 3.55 0 1 0 7.1 0a3.55 3.55 0 1 0 -7.1 0M1100.2 1375.2a3.55 3.55 0 1 0 7.1 0a3.55 3.55 0 1 0 -7.1 0M1100.2 1393.3a3.55 3.55 0 1 0 7.1 0a3.55 3.55 0 1 0 -7.1 0M1100.2 1397.8a3.55 3.55 0 1 0 7.1 0a3.55 3.55 0 1 0 -7.1 0M1100.2 1402.3a3.55 3.55 0 1 0 7.1 0a3.55 3.55 0 1 0 -7.1 0M1100.2 1406.8a3.55 3.55 0 1 0 7.1 0a3.55 3.55 0 1 0 -7.1 0M1100.2 1415.8a3.55 3.55 0 1 0 7.1 0a3.55 3.55 0 1 0 -7.1 0M1100.2 1424.9a3.55 3.55 0 1 0 7.1 0a3.55 3.55 0 1 0 -7.1 0M1100.2 1433.9a3.55 3.55 0 1 0 7.1 0a3.55 3.55 0 1 0 -7.1 0M1100.2 1442.9a3.55 3.55 0 1 0 7.1 0a3.55 3.55 0 1 0 -7.1 0M1100.2 1447.4a3.55 3.55 0 1 0 7.1 0a3.55 3.55 0 1 0 -7.1 0M1100.2 1451.9a3.55 3.55 0 1 0 7.1 0a3.55 3.55 0 1 0 -7.1 0M1100.2 1456.5a3.55 3.55 0 1 0 7.1 0a3.55 3.55 0 1 0 -7.1 0M1100.2 1461.0a3.55 3.55 0 1 0 7.1 0a3.55 3.55 0 1 0 -7.1 0M1100.2 1497.1a3.55 3.55 0 1 0 7.1 0a3.55 3.55 0 1 0 -7.1 0M1094.0 1334.6a3.55 3.55 0 1 0 7.1 0a3.55 3.55 0 1 0 -7.1 0M1094.0 1343.6a3.55 3.55 0 1 0 7.1 0a3.55 3.55 0 1 0 -7.1 0M1094.0 1366.2a3.55 3.55 0 1 0 7.1 0a3.55 3.55 0 1 0 -7.1 0M1094.0 1384.2a3.55 3.55 0 1 0 7.1 0a3.55 3.55 0 1 0 -7.1 0M1094.0 1388.8a3.55 3.55 0 1 0 7.1 0a3.55 3.55 0 1 0 -7.1 0M1094.0 1393.3a3.55 3.55 0 1 0 7.1 0a3.55 3.55 0 1 0 -7.1 0M1094.0 1411.3a3.55 3.55 0 1 0 7.1 0a3.55 3.55 0 1 0 -7.1 0M1094.0 1447.4a3.55 3.55 0 1 0 7.1 0a3.55 3.55 0 1 0 -7.1 0M1094.0 1483.5a3.55 3.55 0 1 0 7.1 0a3.55 3.55 0 1 0 -7.1 0M1098.0 1465.5a3.55 3.55 0 1 0 7.1 0a3.55 3.55 0 1 0 -7.1 0M1098.0 1470.0a3.55 3.55 0 1 0 7.1 0a3.55 3.55 0 1 0 -7.1 0M1098.0 1474.5a3.55 3.55 0 1 0 7.1 0a3.55 3.55 0 1 0 -7.1 0M1098.0 1488.1a3.55 3.55 0 1 0 7.1 0a3.55 3.55 0 1 0 -7.1 0M1318.2 1131.5a3.55 3.55 0 1 0 7.1 0a3.55 3.55 0 1 0 -7.1 0M1318.2 1136.0a3.55 3.55 0 1 0 7.1 0a3.55 3.55 0 1 0 -7.1 0M1318.2 1140.5a3.55 3.55 0 1 0 7.1 0a3.55 3.55 0 1 0 -7.1 0M1318.2 1149.5a3.55 3.55 0 1 0 7.1 0a3.55 3.55 0 1 0 -7.1 0M1318.2 1199.2a3.55 3.55 0 1 0 7.1 0a3.55 3.55 0 1 0 -7.1 0M1340.0 1208.2a3.55 3.55 0 1 0 7.1 0a3.55 3.55 0 1 0 -7.1 0M1323.9 1257.9a3.55 3.55 0 1 0 7.1 0a3.55 3.55 0 1 0 -7.1 0M1323.9 1298.5a3.55 3.55 0 1 0 7.1 0a3.55 3.55 0 1 0 -7.1 0M1323.9 1361.7a3.55 3.55 0 1 0 7.1 0a3.55 3.55 0 1 0 -7.1 0M1323.9 1461.0a3.55 3.55 0 1 0 7.1 0a3.55 3.55 0 1 0 -7.1 0M1323.9 1470.0a3.55 3.55 0 1 0 7.1 0a3.55 3.55 0 1 0 -7.1 0M1323.9 1492.6a3.55 3.55 0 1 0 7.1 0a3.55 3.55 0 1 0 -7.1 0M1323.9 1528.7a3.55 3.55 0 1 0 7.1 0a3.55 3.55 0 1 0 -7.1 0M1313.9 1330.1a3.55 3.55 0 1 0 7.1 0a3.55 3.55 0 1 0 -7.1 0M1313.9 1379.7a3.55 3.55 0 1 0 7.1 0a3.55 3.55 0 1 0 -7.1 0M1313.9 1393.3a3.55 3.55 0 1 0 7.1 0a3.55 3.55 0 1 0 -7.1 0M1313.9 1397.8a3.55 3.55 0 1 0 7.1 0a3.55 3.55 0 1 0 -7.1 0M1313.9 1402.3a3.55 3.55 0 1 0 7.1 0a3.55 3.55 0 1 0 -7.1 0M1313.9 1420.4a3.55 3.55 0 1 0 7.1 0a3.55 3.55 0 1 0 -7.1 0M1313.9 1438.4a3.55 3.55 0 1 0 7.1 0a3.55 3.55 0 1 0 -7.1 0M1313.9 1442.9a3.55 3.55 0 1 0 7.1 0a3.55 3.55 0 1 0 -7.1 0M1313.9 1447.4a3.55 3.55 0 1 0 7.1 0a3.55 3.55 0 1 0 -7.1 0M1313.9 1461.0a3.55 3.55 0 1 0 7.1 0a3.55 3.55 0 1 0 -7.1 0M1313.9 1465.5a3.55 3.55 0 1 0 7.1 0a3.55 3.55 0 1 0 -7.1 0M1313.9 1474.5a3.55 3.55 0 1 0 7.1 0a3.55 3.55 0 1 0 -7.1 0M1321.7 1384.2a3.55 3.55 0 1 0 7.1 0a3.55 3.55 0 1 0 -7.1 0M1318.2 1424.9a3.55 3.55 0 1 0 7.1 0a3.55 3.55 0 1 0 -7.1 0M1318.2 1488.1a3.55 3.55 0 1 0 7.1 0a3.55 3.55 0 1 0 -7.1 0M1345.7 1312.0a3.55 3.55 0 1 0 7.1 0a3.55 3.55 0 1 0 -7.1 0M1345.7 1415.8a3.55 3.55 0 1 0 7.1 0a3.55 3.55 0 1 0 -7.1 0M1335.4 1321.1a3.55 3.55 0 1 0 7.1 0a3.55 3.55 0 1 0 -7.1 0M1333.7 1325.6a3.55 3.55 0 1 0 7.1 0a3.55 3.55 0 1 0 -7.1 0M1333.7 1339.1a3.55 3.55 0 1 0 7.1 0a3.55 3.55 0 1 0 -7.1 0M1333.7 1357.2a3.55 3.55 0 1 0 7.1 0a3.55 3.55 0 1 0 -7.1 0M1333.7 1375.2a3.55 3.55 0 1 0 7.1 0a3.55 3.55 0 1 0 -7.1 0M1333.7 1393.3a3.55 3.55 0 1 0 7.1 0a3.55 3.55 0 1 0 -7.1 0M1333.7 1429.4a3.55 3.55 0 1 0 7.1 0a3.55 3.55 0 1 0 -7.1 0M1333.7 1442.9a3.55 3.55 0 1 0 7.1 0a3.55 3.55 0 1 0 -7.1 0M1333.7 1447.4a3.55 3.55 0 1 0 7.1 0a3.55 3.55 0 1 0 -7.1 0M1333.7 1470.0a3.55 3.55 0 1 0 7.1 0a3.55 3.55 0 1 0 -7.1 0M1333.7 1483.5a3.55 3.55 0 1 0 7.1 0a3.55 3.55 0 1 0 -7.1 0M1333.7 1515.1a3.55 3.55 0 1 0 7.1 0a3.55 3.55 0 1 0 -7.1 0M1343.5 1325.6a3.55 3.55 0 1 0 7.1 0a3.55 3.55 0 1 0 -7.1 0M1343.5 1488.1a3.55 3.55 0 1 0 7.1 0a3.55 3.55 0 1 0 -7.1 0M1349.5 1348.1a3.55 3.55 0 1 0 7.1 0a3.55 3.55 0 1 0 -7.1 0M1349.5 1379.7a3.55 3.55 0 1 0 7.1 0a3.55 3.55 0 1 0 -7.1 0M1349.5 1474.5a3.55 3.55 0 1 0 7.1 0a3.55 3.55 0 1 0 -7.1 0M1349.5 1483.5a3.55 3.55 0 1 0 7.1 0a3.55 3.55 0 1 0 -7.1 0M1340.5 1361.7a3.55 3.55 0 1 0 7.1 0a3.55 3.55 0 1 0 -7.1 0M1340.5 1474.5a3.55 3.55 0 1 0 7.1 0a3.55 3.55 0 1 0 -7.1 0M1340.5 1497.1a3.55 3.55 0 1 0 7.1 0a3.55 3.55 0 1 0 -7.1 0M1361.5 1379.7a3.55 3.55 0 1 0 7.1 0a3.55 3.55 0 1 0 -7.1 0M1361.5 1447.4a3.55 3.55 0 1 0 7.1 0a3.55 3.55 0 1 0 -7.1 0M1361.5 1470.0a3.55 3.55 0 1 0 7.1 0a3.55 3.55 0 1 0 -7.1 0M1361.5 1501.6a3.55 3.55 0 1 0 7.1 0a3.55 3.55 0 1 0 -7.1 0M1354.8 1388.8a3.55 3.55 0 1 0 7.1 0a3.55 3.55 0 1 0 -7.1 0M1354.8 1406.8a3.55 3.55 0 1 0 7.1 0a3.55 3.55 0 1 0 -7.1 0M1354.8 1420.4a3.55 3.55 0 1 0 7.1 0a3.55 3.55 0 1 0 -7.1 0M1337.5 1397.8a3.55 3.55 0 1 0 7.1 0a3.55 3.55 0 1 0 -7.1 0M1337.5 1451.9a3.55 3.55 0 1 0 7.1 0a3.55 3.55 0 1 0 -7.1 0M1337.5 1488.1a3.55 3.55 0 1 0 7.1 0a3.55 3.55 0 1 0 -7.1 0M1337.5 1501.6a3.55 3.55 0 1 0 7.1 0a3.55 3.55 0 1 0 -7.1 0M1337.5 1506.1a3.55 3.55 0 1 0 7.1 0a3.55 3.55 0 1 0 -7.1 0M1336.2 1461.0a3.55 3.55 0 1 0 7.1 0a3.55 3.55 0 1 0 -7.1 0M1353.4 1501.6a3.55 3.55 0 1 0 7.1 0a3.55 3.55 0 1 0 -7.1 0M1353.4 1506.1a3.55 3.55 0 1 0 7.1 0a3.55 3.55 0 1 0 -7.1 0"/>
<line x1="144.2" x2="152" y1="173.45" y2="173.45" stroke="#333" stroke-width="3"/>
<line x1="144.2" x2="152" y1="350.45" y2="350.45" stroke="#333" stroke-width="3"/>
<line x1="144.2" x2="152" y1="527.45" y2="527.45" stroke="#333" stroke-width="3"/>
<line x1="144.2" x2="152" y1="704.45" y2="704.45" stroke="#333" stroke-width="3"/>
<line x1="211.30" x2="211.30" y1="849.5" y2="857.7" stroke="#333" stroke-width="3"/>
<line x1="408.83" x2="408.83" y1="849.5" y2="857.7" stroke="#333" stroke-width="3"/>
<line x1="606.37" x2="606.37" y1="849.5" y2="857.7" stroke="#333" stroke-width="3"/>
<line x1="803.90" x2="803.90" y1="849.5" y2="857.7" stroke="#333" stroke-width="3"/>
<line x1="1001.43" x2="1001.43" y1="849.5" y2="857.7" stroke="#333" stroke-width="3"/>
<line x1="1198.97" x2="1198.97" y1="849.5" y2="857.7" stroke="#333" stroke-width="3"/>
<line x1="1396.50" x2="1396.50" y1="849.5" y2="857.7" stroke="#333" stroke-width="3"/>
<line x1="147.5" x2="155.3" y1="1009.62" y2="1009.62" stroke="#333" stroke-width="3"/>
<line x1="147.5" x2="155.3" y1="1235.30" y2="1235.30" stroke="#333" stroke-width="3"/>
<line x1="147.5" x2="155.3" y1="1460.97" y2="1460.97" stroke="#333" stroke-width="3"/>
<line x1="213.50" x2="213.50" y1="1668.3" y2="1675.6" stroke="#333" stroke-width="3"/>
<line x1="409.98" x2="409.98" y1="1668.3" y2="1675.6" stroke="#333" stroke-width="3"/>
<line x1="606.47" x2="606.47" y1="1668.3" y2="1675.6" stroke="#333" stroke-width="3"/>
<line x1="802.95" x2="802.95" y1="1668.3" y2="1675.6" stroke="#333" stroke-width="3"/>
<line x1="999.43" x2="999.43" y1="1668.3" y2="1675.6" stroke="#333" stroke-width="3"/>
<line x1="1195.92" x2="1195.92" y1="1668.3" y2="1675.6" stroke="#333" stroke-width="3"/>
<line x1="1392.40" x2="1392.40" y1="1668.3" y2="1675.6" stroke="#333" stroke-width="3"/>
<text x="138.5" y="185.6" font-size="34.5" text-anchor="end" >12.5</text>
<rect x="58.9" y="175.0" width="13.1" height="3.1" fill="#000"/>
<text x="138.5" y="362.6" font-size="34.5" text-anchor="end" >15.0</text>
<rect x="58.9" y="352.1" width="13.1" height="3.1" fill="#000"/>
<text x="138.5" y="539.7" font-size="34.5" text-anchor="end" >17.5</text>
<rect x="58.9" y="529.1" width="13.1" height="3.1" fill="#000"/>
<text x="138.5" y="716.7" font-size="34.5" text-anchor="end" >20.0</text>
<rect x="58.9" y="706.1" width="13.1" height="3.1" fill="#000"/>
<text x="140.7" y="1021.1" font-size="31" text-anchor="end" >15</text>
<text x="140.7" y="1246.8" font-size="31" text-anchor="end" >10</text>
<text x="140.7" y="1472.5" font-size="31" text-anchor="end" >5</text>
<text x="213.5" y="1704.8" font-size="32.6" text-anchor="middle" >30000</text>
<text x="410.0" y="1704.8" font-size="32.6" text-anchor="middle" >25000</text>
<text x="606.5" y="1704.8" font-size="32.6" text-anchor="middle" >20000</text>
<text x="803.0" y="1704.8" font-size="32.6" text-anchor="middle" >15000</text>
<text x="999.4" y="1704.8" font-size="32.6" text-anchor="middle" >10000</text>
<text x="1195.9" y="1704.8" font-size="32.6" text-anchor="middle" >5000</text>
<text x="1392.4" y="1704.8" font-size="32.6" text-anchor="middle" >0</text>
<text transform="translate(36.5,511) rotate(-90)" font-size="45"><tspan style="font-style:italic;font-family:&quot;Liberation Serif&quot;">δ</tspan><tspan font-size="31.5" dy="-15">13</tspan><tspan dy="15" dx="-2.5">C (‰)</tspan></text>
<text transform="translate(54,1384) rotate(-90)" font-size="45"><tspan style="font-style:italic;font-family:&quot;Liberation Serif&quot;">δ</tspan><tspan font-size="31.5" dy="-15">15</tspan><tspan dy="15">N (‰)</tspan></text>
<text x="206" y="99" font-size="67" transform="translate(206 0) scale(0.84 1) translate(-206 0)">A</text>
<text x="208.6" y="996.3" font-size="64.4" transform="translate(208.6 0) scale(0.82 1) translate(-208.6 0)">B</text>
<rect x="229.1" y="132" width="256.1" height="256.5" fill="#fff"/>
<circle cx="251.2" cy="163.0" r="6.85" fill="#F8766D"/>
<text x="270.4" y="170.0" font-size="20.3">Upper Pal</text>
<text x="391.9" y="170.0" font-size="20.3"><tspan font-style="italic">n</tspan> = 41</text>
<circle cx="251.2" cy="194.3" r="6.85" fill="#C49A00"/>
<text x="270.4" y="201.3" font-size="20.3">Mesolithic</text>
<text x="391.9" y="201.3" font-size="20.3"><tspan font-style="italic">n</tspan> = 31</text>
<circle cx="251.2" cy="225.6" r="6.85" fill="#53B400"/>
<text x="270.4" y="232.6" font-size="20.3">Neolithic</text>
<text x="391.9" y="232.6" font-size="20.3"><tspan font-style="italic">n</tspan> = 257</text>
<circle cx="251.2" cy="256.9" r="6.85" fill="#00C094"/>
<text x="270.4" y="263.9" font-size="20.3">Copper Age</text>
<text x="391.9" y="263.9" font-size="20.3"><tspan font-style="italic">n</tspan> = 288</text>
<circle cx="251.2" cy="288.2" r="6.85" fill="#00B6EB"/>
<text x="270.4" y="295.2" font-size="20.3">Bronze Age</text>
<text x="391.9" y="295.2" font-size="20.3"><tspan font-style="italic">n</tspan> = 239</text>
<circle cx="251.2" cy="319.5" r="6.85" fill="#A58AFF"/>
<text x="270.4" y="326.5" font-size="20.3">Roman</text>
<text x="391.9" y="326.5" font-size="20.3"><tspan font-style="italic">n</tspan> = 640</text>
<circle cx="251.2" cy="350.8" r="6.85" fill="#FB61D7"/>
<text x="270.4" y="357.8" font-size="20.3">Medieval</text>
<text x="391.9" y="357.8" font-size="20.3"><tspan font-style="italic">n</tspan> = 490</text>
<rect x="224.1" y="1487" width="318.7" height="146.8" fill="#fff"/>
<rect x="246.9" y="1499.1" width="37.0" height="109.8" fill="#C8C8C8"/>
<line x1="246.9" x2="283.9" y1="1536.2" y2="1536.2" stroke="#D6D6D6" stroke-width="1"/>
<line x1="246.9" x2="283.9" y1="1573.2" y2="1573.2" stroke="#D6D6D6" stroke-width="1"/>
<line x1="250.3" x2="280.5" y1="1517.6" y2="1517.6" stroke="#F8766D" stroke-width="4.8"/>
<circle cx="265.4" cy="1517.6" r="3.1" fill="#F8766D"/>
<text x="306.5" y="1529.0" font-size="32">Human</text>
<line x1="250.3" x2="280.5" y1="1555.0" y2="1555.0" stroke="#00BA38" stroke-width="4.8"/>
<circle cx="265.4" cy="1555.0" r="3.1" fill="#00BA38"/>
<text x="306.5" y="1565.8" font-size="32">Marine fauna</text>
<line x1="250.3" x2="280.5" y1="1592.1" y2="1592.1" stroke="#619CFF" stroke-width="4.8"/>
<circle cx="265.4" cy="1592.1" r="3.1" fill="#619CFF"/>
<text x="306.5" y="1603.0" font-size="32">Terrestrial fauna</text>
<text x="802.6" y="1746.4" font-size="42" text-anchor="middle" textLength="158.5" lengthAdjust="spacingAndGlyphs" >Years BP</text>
</svg>
</body></html>
